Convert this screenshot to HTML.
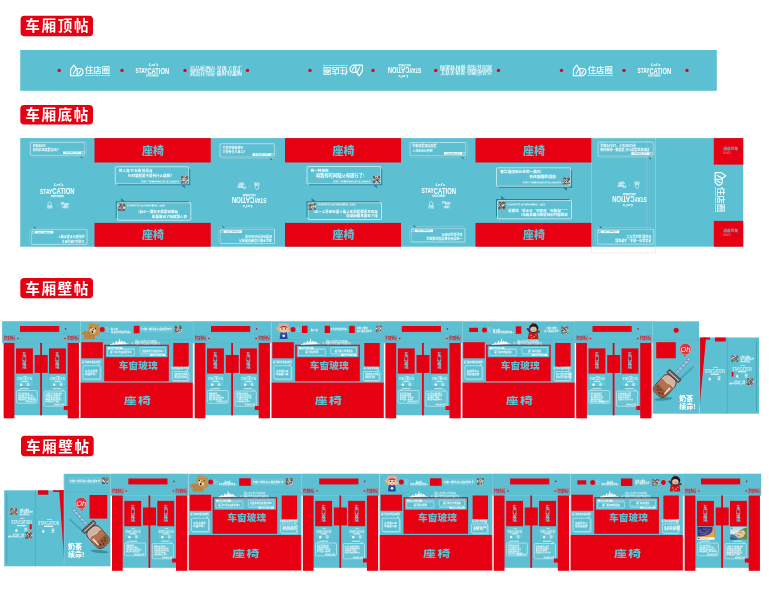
<!DOCTYPE html>
<html lang="zh-CN"><head><meta charset="utf-8"><title>车厢贴纸布局</title>
<style>html,body{margin:0;padding:0;background:#fff}body{width:769px;height:600px;overflow:hidden}svg{display:block}text{white-space:pre}</style></head><body>
<svg width="769" height="600" viewBox="0 0 769 600" font-family="Liberation Sans, Noto Sans CJK SC, sans-serif">
<rect x="0.00" y="0.00" width="769.00" height="600.00" fill="#fff" />
<rect x="20.6" y="15.8" width="72.4" height="20.400000000000002" rx="3.8" fill="#e60012"/>
<text x="57.75" y="31.45" font-size="14.6" fill="#fff" font-weight="700" text-anchor="middle" letter-spacing="1.6">车厢顶帖</text>
<rect x="20.3" y="105" width="72.7" height="19.599999999999994" rx="3.8" fill="#e60012"/>
<text x="57.60" y="119.85" font-size="14.6" fill="#fff" font-weight="700" text-anchor="middle" letter-spacing="1.6">车厢底帖</text>
<rect x="20.3" y="278" width="72.7" height="20.30000000000001" rx="3.8" fill="#e60012"/>
<text x="57.60" y="293.55" font-size="14.6" fill="#fff" font-weight="700" text-anchor="middle" letter-spacing="1.6">车厢壁帖</text>
<rect x="21" y="435.8" width="72.7" height="20.5" rx="3.8" fill="#e60012"/>
<text x="58.30" y="451.55" font-size="14.6" fill="#fff" font-weight="700" text-anchor="middle" letter-spacing="1.6">车厢壁帖</text>
<rect x="20.25" y="50.00" width="696.55" height="40.80" fill="#5cc0d2" />
<circle cx="59.20" cy="70.40" r="1.70" fill="#e60012" />
<circle cx="122.00" cy="70.40" r="1.70" fill="#e60012" />
<circle cx="185.00" cy="70.40" r="1.70" fill="#e60012" />
<circle cx="247.50" cy="70.40" r="1.70" fill="#e60012" />
<circle cx="310.00" cy="70.40" r="1.70" fill="#e60012" />
<circle cx="373.00" cy="70.40" r="1.70" fill="#e60012" />
<circle cx="435.75" cy="70.40" r="1.70" fill="#e60012" />
<circle cx="498.50" cy="70.40" r="1.70" fill="#e60012" />
<circle cx="561.50" cy="70.40" r="1.70" fill="#e60012" />
<circle cx="624.00" cy="70.40" r="1.70" fill="#e60012" />
<circle cx="687.00" cy="70.40" r="1.70" fill="#e60012" />
<g fill="none" stroke="#fff" stroke-width="1.15" stroke-linejoin="round" stroke-linecap="round"><path d="M70.60 75.70V69.60L73.80 65.00L77.20 69.60V75.70Z"/><path d="M77.20 68.50H79.60C83.20 68.50 84.20 72.20 82.00 74.20L80.20 75.70H77.20"/><path d="M76.20 68.40L73.40 73.60M80.60 70.80L78.80 74.00"/></g>
<text x="85.00" y="72.50" font-size="8.20" fill="#fff" font-weight="500" textLength="25.00" lengthAdjust="spacingAndGlyphs">住店圈</text>
<text x="85.00" y="76.00" font-size="2.30" fill="#fff" font-weight="700" textLength="25.00" lengthAdjust="spacingAndGlyphs">ZHUDIANQUAN.COM</text>
<text x="153.80" y="65.60" font-size="4.2" fill="#fff" text-anchor="middle" font-weight="700" font-style="italic">Let's</text>
<text x="135.55" y="73.60" fill="#fff" font-weight="700" textLength="33.50" lengthAdjust="spacingAndGlyphs"><tspan font-size="7.80" dy="-0.50">STAY</tspan><tspan font-size="9.40" dy="0.50">CATION</tspan></text>
<rect x="146.10" y="74.50" width="12.40" height="1.90" fill="#fff" />
<text x="152.30" y="76.05" font-size="1.5" fill="#5cc0d2" text-anchor="middle" font-weight="700" >住店圈酒店嘉年华</text>
<text x="190.00" y="69.80" font-size="4.6" fill="#fff" font-weight="700" font-family="Liberation Serif, Noto Serif CJK SC, serif" textLength="52" lengthAdjust="spacingAndGlyphs">高品质酒店·星级美食汇</text>
<text x="190.00" y="75.20" font-size="4.6" fill="#fff" font-weight="700" font-family="Liberation Serif, Noto Serif CJK SC, serif" textLength="52" lengthAdjust="spacingAndGlyphs">周边自驾游·限时特惠购</text>
<g transform="rotate(180 342.5 70.4)">
<g fill="none" stroke="#fff" stroke-width="1.15" stroke-linejoin="round" stroke-linecap="round"><path d="M322.60 75.70V69.60L325.80 65.00L329.20 69.60V75.70Z"/><path d="M329.20 68.50H331.60C335.20 68.50 336.20 72.20 334.00 74.20L332.20 75.70H329.20"/><path d="M328.20 68.40L325.40 73.60M332.60 70.80L330.80 74.00"/></g>
<text x="337.00" y="72.50" font-size="8.20" fill="#fff" font-weight="500" textLength="25.00" lengthAdjust="spacingAndGlyphs">住店圈</text>
<text x="337.00" y="76.00" font-size="2.30" fill="#fff" font-weight="700" textLength="25.00" lengthAdjust="spacingAndGlyphs">ZHUDIANQUAN.COM</text>
</g>
<g transform="rotate(180 404.60 70.40)">
<text x="406.10" y="65.60" font-size="4.2" fill="#fff" text-anchor="middle" font-weight="700" font-style="italic">Let's</text>
<text x="387.85" y="73.60" fill="#fff" font-weight="700" textLength="33.50" lengthAdjust="spacingAndGlyphs"><tspan font-size="7.80" dy="-0.50">STAY</tspan><tspan font-size="9.40" dy="0.50">CATION</tspan></text>
<rect x="398.40" y="74.50" width="12.40" height="1.90" fill="#fff" />
<text x="404.60" y="76.05" font-size="1.5" fill="#5cc0d2" text-anchor="middle" font-weight="700" >住店圈酒店嘉年华</text>
</g>
<g transform="rotate(180 466 70.4)">
<text x="440.00" y="69.80" font-size="4.6" fill="#fff" font-weight="700" font-family="Liberation Serif, Noto Serif CJK SC, serif" textLength="52" lengthAdjust="spacingAndGlyphs">高品质酒店·星级美食汇</text>
<text x="440.00" y="75.20" font-size="4.6" fill="#fff" font-weight="700" font-family="Liberation Serif, Noto Serif CJK SC, serif" textLength="52" lengthAdjust="spacingAndGlyphs">周边自驾游·限时特惠购</text>
</g>
<g fill="none" stroke="#fff" stroke-width="1.15" stroke-linejoin="round" stroke-linecap="round"><path d="M573.40 75.70V69.60L576.60 65.00L580.00 69.60V75.70Z"/><path d="M580.00 68.50H582.40C586.00 68.50 587.00 72.20 584.80 74.20L583.00 75.70H580.00"/><path d="M579.00 68.40L576.20 73.60M583.40 70.80L581.60 74.00"/></g>
<text x="587.80" y="72.50" font-size="8.20" fill="#fff" font-weight="500" textLength="25.00" lengthAdjust="spacingAndGlyphs">住店圈</text>
<text x="587.80" y="76.00" font-size="2.30" fill="#fff" font-weight="700" textLength="25.00" lengthAdjust="spacingAndGlyphs">ZHUDIANQUAN.COM</text>
<text x="655.80" y="65.60" font-size="4.2" fill="#fff" text-anchor="middle" font-weight="700" font-style="italic">Let's</text>
<text x="637.55" y="73.60" fill="#fff" font-weight="700" textLength="33.50" lengthAdjust="spacingAndGlyphs"><tspan font-size="7.80" dy="-0.50">STAY</tspan><tspan font-size="9.40" dy="0.50">CATION</tspan></text>
<rect x="648.10" y="74.50" width="12.40" height="1.90" fill="#fff" />
<text x="654.30" y="76.05" font-size="1.5" fill="#5cc0d2" text-anchor="middle" font-weight="700" >住店圈酒店嘉年华</text>
<rect x="20.25" y="138.10" width="722.95" height="108.60" fill="#5cc0d2" />
<rect x="94.50" y="138.10" width="116.25" height="24.40" fill="#e60012" />
<rect x="94.50" y="222.90" width="116.25" height="23.80" fill="#e60012" />
<text x="153.03" y="155.00" font-size="11.0" fill="#5cc0d2" text-anchor="middle" font-weight="900" >座椅</text>
<text x="153.03" y="239.30" font-size="11.0" fill="#5cc0d2" text-anchor="middle" font-weight="900" >座椅</text>
<rect x="285.00" y="138.10" width="116.00" height="24.40" fill="#e60012" />
<rect x="285.00" y="222.90" width="116.00" height="23.80" fill="#e60012" />
<text x="343.40" y="155.00" font-size="11.0" fill="#5cc0d2" text-anchor="middle" font-weight="900" >座椅</text>
<text x="343.40" y="239.30" font-size="11.0" fill="#5cc0d2" text-anchor="middle" font-weight="900" >座椅</text>
<rect x="475.50" y="138.10" width="116.30" height="24.40" fill="#e60012" />
<rect x="475.50" y="222.90" width="116.30" height="23.80" fill="#e60012" />
<text x="534.05" y="155.00" font-size="11.0" fill="#5cc0d2" text-anchor="middle" font-weight="900" >座椅</text>
<text x="534.05" y="239.30" font-size="11.0" fill="#5cc0d2" text-anchor="middle" font-weight="900" >座椅</text>
<rect x="713.80" y="138.10" width="29.40" height="26.50" fill="#e60012" />
<rect x="713.80" y="220.90" width="29.40" height="25.80" fill="#e60012" />
<text x="723.20" y="149.60" font-size="3.7" fill="#5cc0d2" text-anchor="start" font-weight="700" >通道拐角</text>
<text x="723.20" y="153.50" font-size="2.7" fill="#f08a8a" text-anchor="start" font-weight="400" >60x60</text>
<text x="723.20" y="231.90" font-size="3.7" fill="#5cc0d2" text-anchor="start" font-weight="700" >通道拐角</text>
<text x="723.20" y="235.80" font-size="2.7" fill="#f08a8a" text-anchor="start" font-weight="400" >60x60</text>
<rect x="591.6" y="138" width="64.2" height="115" fill="none" stroke="#cfd8da" stroke-width="0.4"/>
<path d="M646.8 138V253" stroke="#cfd8da" stroke-width="0.3" fill="none" opacity="0.8"/>
<g transform="translate(726.4 172) rotate(90)">
<g fill="none" stroke="#fff" stroke-width="1.15" stroke-linejoin="round" stroke-linecap="round"><path d="M0.60 11.30V5.20L3.80 0.60L7.20 5.20V11.30Z"/><path d="M7.20 4.10H9.60C13.20 4.10 14.20 7.80 12.00 9.80L10.20 11.30H7.20"/><path d="M6.20 4.00L3.40 9.20M10.60 6.40L8.80 9.60"/></g>
<text x="15.00" y="8.10" font-size="8.20" fill="#fff" font-weight="500" textLength="25.00" lengthAdjust="spacingAndGlyphs">住店圈</text>
<text x="15.00" y="11.60" font-size="2.30" fill="#fff" font-weight="700" textLength="25.00" lengthAdjust="spacingAndGlyphs">ZHUDIANQUAN.COM</text>
</g>
<path d="M31.45 155.40V156.65H86.25V143.45H85.00V155.40Z" fill="#1f8397" opacity="0.55"/>
<path d="M31.65 156.65H86.25V143.65" fill="none" stroke="#fff" stroke-width="0.35" opacity="0.85"/>
<path d="M79.80 156.65h2.6l0.2 2.2z" fill="#1f8397"/>
<rect x="30.25" y="142.25" width="54.75" height="13.15" rx="0.8" fill="none" stroke="#fff" stroke-width="0.5"/>
<text x="32.85" y="147.15" font-size="3.0" fill="#fff" text-anchor="start" font-weight="700" >月薪4000</text>
<text x="32.85" y="151.25" font-size="3.0" fill="#fff" text-anchor="start" font-weight="700" >如何实现度假自由?</text>
<rect x="63.00" y="151.50" width="18.20" height="2.60" fill="#fff" />
<text x="72.10" y="153.39" font-size="1.7" fill="#5cc0d2" text-anchor="middle" font-weight="700" >住店圈酒店嘉年华</text>
<rect x="81.90" y="151.70" width="2.2" height="2.2" fill="none" stroke="#fff" stroke-width="0.35"/>
<g transform="rotate(180 59.15 237.00)">
<path d="M32.50 244.40V245.65H88.25V230.80H87.00V244.40Z" fill="#1f8397" opacity="0.55"/>
<path d="M32.70 245.65H88.25V231.00" fill="none" stroke="#fff" stroke-width="0.35" opacity="0.85"/>
<path d="M81.80 245.65h2.6l0.2 2.2z" fill="#1f8397"/>
<rect x="31.30" y="229.60" width="55.70" height="14.80" rx="0.8" fill="none" stroke="#fff" stroke-width="0.5"/>
<text x="33.90" y="234.50" font-size="3.0" fill="#fff" text-anchor="start" font-weight="700" >订酒店×刷信用卡</text>
<text x="33.90" y="238.60" font-size="3.0" fill="#fff" text-anchor="start" font-weight="700" >如何薅羊毛最划算?</text>
<rect x="65.00" y="240.50" width="18.20" height="2.60" fill="#fff" />
<text x="74.10" y="242.39" font-size="1.7" fill="#5cc0d2" text-anchor="middle" font-weight="700" >住店圈酒店嘉年华</text>
<rect x="83.90" y="240.70" width="2.2" height="2.2" fill="none" stroke="#fff" stroke-width="0.35"/>
</g>
<text x="58.84" y="186.00" font-size="4.325373134328359" fill="#fff" text-anchor="middle" font-weight="700" font-style="italic">Let's</text>
<text x="40.05" y="194.24" fill="#fff" font-weight="700" textLength="34.50" lengthAdjust="spacingAndGlyphs"><tspan font-size="8.03" dy="-0.51">STAY</tspan><tspan font-size="9.68" dy="0.51">CATION</tspan></text>
<rect x="50.91" y="195.17" width="12.77" height="1.96" fill="#fff" />
<text x="57.30" y="196.76" font-size="1.5447761194029852" fill="#5cc0d2" text-anchor="middle" font-weight="700" >住店圈酒店嘉年华</text>
<path d="M48.03 205.98v-2.6l1.6-2 1.6 2v2.6z" fill="none" stroke="#fff" stroke-width="0.51"/>
<text x="49.68" y="208.14" font-size="1.7507462686567166" fill="#fff" text-anchor="middle" font-weight="700" >住店圈</text>
<circle cx="57.30" cy="205.16" r="0.41" fill="#fff" />
<text x="64.92" y="204.95" font-size="2.883582089552239" fill="#fff" text-anchor="middle" font-weight="700" font-style="italic">Fliggy</text>
<text x="64.92" y="208.14" font-size="1.7507462686567166" fill="#fff" text-anchor="middle" font-weight="700" >飞猪旅行</text>
<path d="M221.20 157.20V158.45H275.75V144.95H274.50V157.20Z" fill="#1f8397" opacity="0.55"/>
<path d="M221.40 158.45H275.75V145.15" fill="none" stroke="#fff" stroke-width="0.35" opacity="0.85"/>
<path d="M269.30 158.45h2.6l0.2 2.2z" fill="#1f8397"/>
<rect x="220.00" y="143.75" width="54.50" height="13.45" rx="0.8" fill="none" stroke="#fff" stroke-width="0.5"/>
<text x="222.60" y="148.65" font-size="3.0" fill="#fff" text-anchor="start" font-weight="700" >工资不够去旅行</text>
<text x="222.60" y="152.75" font-size="3.0" fill="#fff" text-anchor="start" font-weight="700" >工作有什么意义?</text>
<rect x="252.50" y="153.30" width="18.20" height="2.60" fill="#fff" />
<text x="261.60" y="155.19" font-size="1.7" fill="#5cc0d2" text-anchor="middle" font-weight="700" >住店圈酒店嘉年华</text>
<rect x="271.40" y="153.50" width="2.2" height="2.2" fill="none" stroke="#fff" stroke-width="0.35"/>
<g transform="rotate(180 247.25 236.30)">
<path d="M221.20 243.60V244.85H275.75V230.20H274.50V243.60Z" fill="#1f8397" opacity="0.55"/>
<path d="M221.40 244.85H275.75V230.40" fill="none" stroke="#fff" stroke-width="0.35" opacity="0.85"/>
<path d="M269.30 244.85h2.6l0.2 2.2z" fill="#1f8397"/>
<rect x="220.00" y="229.00" width="54.50" height="14.60" rx="0.8" fill="none" stroke="#fff" stroke-width="0.5"/>
<text x="222.60" y="233.90" font-size="3.0" fill="#fff" text-anchor="start" font-weight="700" >酒店不能只是睡觉的地方</text>
<text x="222.60" y="238.00" font-size="3.0" fill="#fff" text-anchor="start" font-weight="700" >还要有吃有玩有风景</text>
<rect x="252.50" y="239.70" width="18.20" height="2.60" fill="#fff" />
<text x="261.60" y="241.59" font-size="1.7" fill="#5cc0d2" text-anchor="middle" font-weight="700" >住店圈酒店嘉年华</text>
<rect x="271.40" y="239.90" width="2.2" height="2.2" fill="none" stroke="#fff" stroke-width="0.35"/>
</g>
<g transform="rotate(180 249.20 195.60)">
<text x="250.74" y="185.80" font-size="4.325373134328359" fill="#fff" text-anchor="middle" font-weight="700" font-style="italic">Let's</text>
<text x="231.95" y="194.04" fill="#fff" font-weight="700" textLength="34.50" lengthAdjust="spacingAndGlyphs"><tspan font-size="8.03" dy="-0.51">STAY</tspan><tspan font-size="9.68" dy="0.51">CATION</tspan></text>
<rect x="242.81" y="194.97" width="12.77" height="1.96" fill="#fff" />
<text x="249.20" y="196.56" font-size="1.5447761194029852" fill="#5cc0d2" text-anchor="middle" font-weight="700" >住店圈酒店嘉年华</text>
<path d="M239.93 205.78v-2.6l1.6-2 1.6 2v2.6z" fill="none" stroke="#fff" stroke-width="0.51"/>
<text x="241.58" y="207.94" font-size="1.7507462686567166" fill="#fff" text-anchor="middle" font-weight="700" >住店圈</text>
<circle cx="249.20" cy="204.96" r="0.41" fill="#fff" />
<text x="256.82" y="204.75" font-size="2.883582089552239" fill="#fff" text-anchor="middle" font-weight="700" font-style="italic">Fliggy</text>
<text x="256.82" y="207.94" font-size="1.7507462686567166" fill="#fff" text-anchor="middle" font-weight="700" >飞猪旅行</text>
</g>
<path d="M411.20 155.90V157.15H467.25V143.70H466.00V155.90Z" fill="#1f8397" opacity="0.55"/>
<path d="M411.40 157.15H467.25V143.90" fill="none" stroke="#fff" stroke-width="0.35" opacity="0.85"/>
<path d="M460.80 157.15h2.6l0.2 2.2z" fill="#1f8397"/>
<rect x="410.00" y="142.50" width="56.00" height="13.40" rx="0.8" fill="none" stroke="#fff" stroke-width="0.5"/>
<text x="412.60" y="147.40" font-size="3.0" fill="#fff" text-anchor="start" font-weight="700" >别去度假酒店度假</text>
<text x="412.60" y="151.50" font-size="3.0" fill="#fff" text-anchor="start" font-weight="700" >人均300元不到</text>
<rect x="444.00" y="152.00" width="18.20" height="2.60" fill="#fff" />
<text x="453.10" y="153.89" font-size="1.7" fill="#5cc0d2" text-anchor="middle" font-weight="700" >住店圈酒店嘉年华</text>
<rect x="462.90" y="152.20" width="2.2" height="2.2" fill="none" stroke="#fff" stroke-width="0.35"/>
<g transform="rotate(180 438.00 235.10)">
<path d="M412.20 242.00V243.25H466.25V229.40H465.00V242.00Z" fill="#1f8397" opacity="0.55"/>
<path d="M412.40 243.25H466.25V229.60" fill="none" stroke="#fff" stroke-width="0.35" opacity="0.85"/>
<path d="M459.80 243.25h2.6l0.2 2.2z" fill="#1f8397"/>
<rect x="411.00" y="228.20" width="54.00" height="13.80" rx="0.8" fill="none" stroke="#fff" stroke-width="0.5"/>
<text x="413.60" y="233.10" font-size="3.0" fill="#fff" text-anchor="start" font-weight="700" >一张房券住遍全国连锁酒店</text>
<text x="413.60" y="237.20" font-size="3.0" fill="#fff" text-anchor="start" font-weight="700" >说走就走的旅行</text>
<rect x="443.00" y="238.10" width="18.20" height="2.60" fill="#fff" />
<text x="452.10" y="239.99" font-size="1.7" fill="#5cc0d2" text-anchor="middle" font-weight="700" >住店圈酒店嘉年华</text>
<rect x="461.90" y="238.30" width="2.2" height="2.2" fill="none" stroke="#fff" stroke-width="0.35"/>
</g>
<text x="440.34" y="185.50" font-size="4.325373134328359" fill="#fff" text-anchor="middle" font-weight="700" font-style="italic">Let's</text>
<text x="421.55" y="193.74" fill="#fff" font-weight="700" textLength="34.50" lengthAdjust="spacingAndGlyphs"><tspan font-size="8.03" dy="-0.51">STAY</tspan><tspan font-size="9.68" dy="0.51">CATION</tspan></text>
<rect x="432.41" y="194.67" width="12.77" height="1.96" fill="#fff" />
<text x="438.80" y="196.26" font-size="1.5447761194029852" fill="#5cc0d2" text-anchor="middle" font-weight="700" >住店圈酒店嘉年华</text>
<path d="M429.53 205.48v-2.6l1.6-2 1.6 2v2.6z" fill="none" stroke="#fff" stroke-width="0.51"/>
<text x="431.18" y="207.64" font-size="1.7507462686567166" fill="#fff" text-anchor="middle" font-weight="700" >住店圈</text>
<circle cx="438.80" cy="204.66" r="0.41" fill="#fff" />
<text x="446.42" y="204.45" font-size="2.883582089552239" fill="#fff" text-anchor="middle" font-weight="700" font-style="italic">Fliggy</text>
<text x="446.42" y="207.64" font-size="1.7507462686567166" fill="#fff" text-anchor="middle" font-weight="700" >飞猪旅行</text>
<path d="M599.20 156.20V157.45H654.55V143.20H653.30V156.20Z" fill="#1f8397" opacity="0.55"/>
<path d="M599.40 157.45H654.55V143.40" fill="none" stroke="#fff" stroke-width="0.35" opacity="0.85"/>
<path d="M648.10 157.45h2.6l0.2 2.2z" fill="#1f8397"/>
<rect x="598.00" y="142.00" width="55.30" height="14.20" rx="0.8" fill="none" stroke="#fff" stroke-width="0.5"/>
<text x="600.60" y="146.90" font-size="3.0" fill="#fff" text-anchor="start" font-weight="700" >别等24节日，占考240日卷</text>
<text x="600.60" y="151.00" font-size="3.0" fill="#fff" text-anchor="start" font-weight="700" >随时随地一键度假 开山度假温泉酒店</text>
<rect x="631.30" y="152.30" width="18.20" height="2.60" fill="#fff" />
<text x="640.40" y="154.19" font-size="1.7" fill="#5cc0d2" text-anchor="middle" font-weight="700" >住店圈酒店嘉年华</text>
<rect x="650.20" y="152.50" width="2.2" height="2.2" fill="none" stroke="#fff" stroke-width="0.35"/>
<g transform="rotate(180 625.55 236.70)">
<path d="M598.50 244.20V245.45H655.05V230.40H653.80V244.20Z" fill="#1f8397" opacity="0.55"/>
<path d="M598.70 245.45H655.05V230.60" fill="none" stroke="#fff" stroke-width="0.35" opacity="0.85"/>
<path d="M648.60 245.45h2.6l0.2 2.2z" fill="#1f8397"/>
<rect x="597.30" y="229.20" width="56.50" height="15.00" rx="0.8" fill="none" stroke="#fff" stroke-width="0.5"/>
<text x="599.90" y="234.10" font-size="3.0" fill="#fff" text-anchor="start" font-weight="700" >逃离城市一周末，山野度假</text>
<text x="599.90" y="238.20" font-size="3.0" fill="#fff" text-anchor="start" font-weight="700" >住店圈 酒店嘉年华</text>
<rect x="631.80" y="240.30" width="18.20" height="2.60" fill="#fff" />
<text x="640.90" y="242.19" font-size="1.7" fill="#5cc0d2" text-anchor="middle" font-weight="700" >住店圈酒店嘉年华</text>
<rect x="650.70" y="240.50" width="2.2" height="2.2" fill="none" stroke="#fff" stroke-width="0.35"/>
</g>
<g transform="rotate(180 629.40 194.70)">
<text x="630.94" y="185.00" font-size="4.325373134328359" fill="#fff" text-anchor="middle" font-weight="700" font-style="italic">Let's</text>
<text x="612.15" y="193.24" fill="#fff" font-weight="700" textLength="34.50" lengthAdjust="spacingAndGlyphs"><tspan font-size="8.03" dy="-0.51">STAY</tspan><tspan font-size="9.68" dy="0.51">CATION</tspan></text>
<rect x="623.01" y="194.17" width="12.77" height="1.96" fill="#fff" />
<text x="629.40" y="195.76" font-size="1.5447761194029852" fill="#5cc0d2" text-anchor="middle" font-weight="700" >住店圈酒店嘉年华</text>
<path d="M620.13 204.98v-2.6l1.6-2 1.6 2v2.6z" fill="none" stroke="#fff" stroke-width="0.51"/>
<text x="621.78" y="207.14" font-size="1.7507462686567166" fill="#fff" text-anchor="middle" font-weight="700" >住店圈</text>
<circle cx="629.40" cy="204.16" r="0.41" fill="#fff" />
<text x="637.02" y="203.95" font-size="2.883582089552239" fill="#fff" text-anchor="middle" font-weight="700" font-style="italic">Fliggy</text>
<text x="637.02" y="207.14" font-size="1.7507462686567166" fill="#fff" text-anchor="middle" font-weight="700" >飞猪旅行</text>
</g>
<path d="M117.30 183.80V185.30H190.20V168.70H188.70V183.80Z" fill="#1f8397"/>
<path d="M181.10 185.30h3.8l0.3 3.2z" fill="#1f8397"/>
<rect x="115.30" y="166.70" width="73.40" height="17.10" rx="0.8" fill="none" stroke="#fff" stroke-width="0.6"/>
<text x="119.00" y="172.20" font-size="3.5" fill="#fff" text-anchor="start" font-weight="700" >挤人海 打卡游 热景点</text>
<text x="128.00" y="176.70" font-size="3.5" fill="#fff" text-anchor="start" font-weight="700" >你对度假是不是有什么误解?</text>
<text x="179.10" y="182.00" font-size="1.45" fill="#fff" text-anchor="end" font-weight="700" >打开淘宝／飞猪 搜索住店圈酒店嘉年华 或扫二维码参与活动</text>
<rect x="180.90" y="176.30" width="7.20" height="7.20" fill="#dedad7" />
<path d="M180.90 176.30h0.65v0.65h-0.65zM181.55 176.30h0.65v0.65h-0.65zM182.21 176.30h0.65v0.65h-0.65zM182.86 176.30h0.65v0.65h-0.65zM184.17 176.30h0.65v0.65h-0.65zM186.14 176.30h0.65v0.65h-0.65zM186.79 176.30h0.65v0.65h-0.65zM187.45 176.30h0.65v0.65h-0.65zM180.90 176.95h0.65v0.65h-0.65zM182.21 176.95h0.65v0.65h-0.65zM182.86 176.95h0.65v0.65h-0.65zM183.52 176.95h0.65v0.65h-0.65zM184.83 176.95h0.65v0.65h-0.65zM185.48 176.95h0.65v0.65h-0.65zM186.14 176.95h0.65v0.65h-0.65zM187.45 176.95h0.65v0.65h-0.65zM180.90 177.61h0.65v0.65h-0.65zM181.55 177.61h0.65v0.65h-0.65zM182.21 177.61h0.65v0.65h-0.65zM183.52 177.61h0.65v0.65h-0.65zM184.83 177.61h0.65v0.65h-0.65zM186.14 177.61h0.65v0.65h-0.65zM186.79 177.61h0.65v0.65h-0.65zM187.45 177.61h0.65v0.65h-0.65zM180.90 178.26h0.65v0.65h-0.65zM184.83 178.26h0.65v0.65h-0.65zM186.79 178.26h0.65v0.65h-0.65zM187.45 178.26h0.65v0.65h-0.65zM181.55 178.92h0.65v0.65h-0.65zM184.83 178.92h0.65v0.65h-0.65zM186.14 178.92h0.65v0.65h-0.65zM180.90 179.57h0.65v0.65h-0.65zM181.55 179.57h0.65v0.65h-0.65zM182.21 179.57h0.65v0.65h-0.65zM183.52 179.57h0.65v0.65h-0.65zM184.83 179.57h0.65v0.65h-0.65zM186.14 179.57h0.65v0.65h-0.65zM186.79 179.57h0.65v0.65h-0.65zM185.48 180.23h0.65v0.65h-0.65zM182.21 180.88h0.65v0.65h-0.65zM184.17 180.88h0.65v0.65h-0.65zM184.83 180.88h0.65v0.65h-0.65zM186.79 180.88h0.65v0.65h-0.65zM180.90 181.54h0.65v0.65h-0.65zM181.55 181.54h0.65v0.65h-0.65zM182.21 181.54h0.65v0.65h-0.65zM182.86 181.54h0.65v0.65h-0.65zM183.52 181.54h0.65v0.65h-0.65zM184.17 181.54h0.65v0.65h-0.65zM186.14 181.54h0.65v0.65h-0.65zM187.45 181.54h0.65v0.65h-0.65zM180.90 182.19h0.65v0.65h-0.65zM182.21 182.19h0.65v0.65h-0.65zM183.52 182.19h0.65v0.65h-0.65zM186.79 182.19h0.65v0.65h-0.65zM187.45 182.19h0.65v0.65h-0.65zM180.90 182.85h0.65v0.65h-0.65zM181.55 182.85h0.65v0.65h-0.65zM182.21 182.85h0.65v0.65h-0.65zM183.52 182.85h0.65v0.65h-0.65zM184.17 182.85h0.65v0.65h-0.65zM184.83 182.85h0.65v0.65h-0.65zM186.14 182.85h0.65v0.65h-0.65zM186.79 182.85h0.65v0.65h-0.65z" fill="#4d4846"/>
<g transform="rotate(180 154.05 211.50)">
<path d="M119.30 220.30V221.80H192.30V204.70H190.80V220.30Z" fill="#1f8397"/>
<path d="M183.20 221.80h3.8l0.3 3.2z" fill="#1f8397"/>
<rect x="117.30" y="202.70" width="73.50" height="17.60" rx="0.8" fill="none" stroke="#fff" stroke-width="0.6"/>
<text x="121.00" y="208.20" font-size="3.5" fill="#fff" text-anchor="start" font-weight="700" >这个假期别人挤着看海</text>
<text x="130.00" y="212.70" font-size="3.5" fill="#fff" text-anchor="start" font-weight="700" >我躺在酒店泳池里一小时!</text>
<text x="181.20" y="218.00" font-size="1.45" fill="#fff" text-anchor="end" font-weight="700" >打开淘宝／飞猪 搜索住店圈酒店嘉年华 或扫二维码参与活动</text>
<rect x="183.00" y="212.30" width="7.20" height="7.20" fill="#dedad7" />
<path d="M183.00 212.30h0.65v0.65h-0.65zM183.65 212.30h0.65v0.65h-0.65zM184.31 212.30h0.65v0.65h-0.65zM184.96 212.30h0.65v0.65h-0.65zM185.62 212.30h0.65v0.65h-0.65zM186.27 212.30h0.65v0.65h-0.65zM186.93 212.30h0.65v0.65h-0.65zM187.58 212.30h0.65v0.65h-0.65zM188.24 212.30h0.65v0.65h-0.65zM188.89 212.30h0.65v0.65h-0.65zM189.55 212.30h0.65v0.65h-0.65zM183.00 212.95h0.65v0.65h-0.65zM184.31 212.95h0.65v0.65h-0.65zM184.96 212.95h0.65v0.65h-0.65zM187.58 212.95h0.65v0.65h-0.65zM188.24 212.95h0.65v0.65h-0.65zM189.55 212.95h0.65v0.65h-0.65zM183.00 213.61h0.65v0.65h-0.65zM183.65 213.61h0.65v0.65h-0.65zM184.31 213.61h0.65v0.65h-0.65zM185.62 213.61h0.65v0.65h-0.65zM186.27 213.61h0.65v0.65h-0.65zM186.93 213.61h0.65v0.65h-0.65zM187.58 213.61h0.65v0.65h-0.65zM188.24 213.61h0.65v0.65h-0.65zM188.89 213.61h0.65v0.65h-0.65zM189.55 213.61h0.65v0.65h-0.65zM185.62 214.26h0.65v0.65h-0.65zM186.27 214.26h0.65v0.65h-0.65zM189.55 214.26h0.65v0.65h-0.65zM184.96 214.92h0.65v0.65h-0.65zM185.62 214.92h0.65v0.65h-0.65zM186.27 214.92h0.65v0.65h-0.65zM188.89 214.92h0.65v0.65h-0.65zM185.62 215.57h0.65v0.65h-0.65zM186.93 215.57h0.65v0.65h-0.65zM187.58 215.57h0.65v0.65h-0.65zM188.24 215.57h0.65v0.65h-0.65zM189.55 215.57h0.65v0.65h-0.65zM183.00 216.23h0.65v0.65h-0.65zM184.31 216.23h0.65v0.65h-0.65zM185.62 216.23h0.65v0.65h-0.65zM186.27 216.23h0.65v0.65h-0.65zM187.58 216.23h0.65v0.65h-0.65zM188.24 216.23h0.65v0.65h-0.65zM188.89 216.23h0.65v0.65h-0.65zM183.00 216.88h0.65v0.65h-0.65zM183.65 216.88h0.65v0.65h-0.65zM184.96 216.88h0.65v0.65h-0.65zM186.93 216.88h0.65v0.65h-0.65zM187.58 216.88h0.65v0.65h-0.65zM188.24 216.88h0.65v0.65h-0.65zM183.00 217.54h0.65v0.65h-0.65zM183.65 217.54h0.65v0.65h-0.65zM184.31 217.54h0.65v0.65h-0.65zM184.96 217.54h0.65v0.65h-0.65zM185.62 217.54h0.65v0.65h-0.65zM186.27 217.54h0.65v0.65h-0.65zM186.93 217.54h0.65v0.65h-0.65zM187.58 217.54h0.65v0.65h-0.65zM183.00 218.19h0.65v0.65h-0.65zM184.31 218.19h0.65v0.65h-0.65zM186.27 218.19h0.65v0.65h-0.65zM186.93 218.19h0.65v0.65h-0.65zM188.89 218.19h0.65v0.65h-0.65zM183.00 218.85h0.65v0.65h-0.65zM183.65 218.85h0.65v0.65h-0.65zM184.31 218.85h0.65v0.65h-0.65zM186.27 218.85h0.65v0.65h-0.65zM186.93 218.85h0.65v0.65h-0.65zM187.58 218.85h0.65v0.65h-0.65zM188.24 218.85h0.65v0.65h-0.65zM188.89 218.85h0.65v0.65h-0.65z" fill="#4d4846"/>
</g>
<path d="M309.00 183.80V185.30H382.20V168.50H380.70V183.80Z" fill="#1f8397"/>
<path d="M373.10 185.30h3.8l0.3 3.2z" fill="#1f8397"/>
<rect x="307.00" y="166.50" width="73.70" height="17.30" rx="0.8" fill="none" stroke="#fff" stroke-width="0.6"/>
<text x="310.70" y="172.00" font-size="3.6" fill="#fff" text-anchor="start" font-weight="700" >有一种任性</text>
<text x="315.70" y="176.50" font-size="4.3" fill="#fff" text-anchor="start" font-weight="700" >叫我有时间陪父母旅行了!</text>
<text x="371.10" y="181.80" font-size="1.45" fill="#fff" text-anchor="end" font-weight="700" >打开淘宝／飞猪 搜索住店圈酒店嘉年华 或扫二维码参与活动</text>
<rect x="372.90" y="176.10" width="7.20" height="7.20" fill="#dedad7" />
<path d="M372.90 176.10h0.65v0.65h-0.65zM373.55 176.10h0.65v0.65h-0.65zM374.21 176.10h0.65v0.65h-0.65zM378.14 176.10h0.65v0.65h-0.65zM378.79 176.10h0.65v0.65h-0.65zM379.45 176.10h0.65v0.65h-0.65zM372.90 176.75h0.65v0.65h-0.65zM374.21 176.75h0.65v0.65h-0.65zM375.52 176.75h0.65v0.65h-0.65zM376.17 176.75h0.65v0.65h-0.65zM378.14 176.75h0.65v0.65h-0.65zM379.45 176.75h0.65v0.65h-0.65zM372.90 177.41h0.65v0.65h-0.65zM373.55 177.41h0.65v0.65h-0.65zM374.21 177.41h0.65v0.65h-0.65zM375.52 177.41h0.65v0.65h-0.65zM376.17 177.41h0.65v0.65h-0.65zM376.83 177.41h0.65v0.65h-0.65zM378.14 177.41h0.65v0.65h-0.65zM378.79 177.41h0.65v0.65h-0.65zM379.45 177.41h0.65v0.65h-0.65zM373.55 178.06h0.65v0.65h-0.65zM374.21 178.06h0.65v0.65h-0.65zM374.86 178.06h0.65v0.65h-0.65zM376.83 178.06h0.65v0.65h-0.65zM378.14 178.06h0.65v0.65h-0.65zM379.45 178.06h0.65v0.65h-0.65zM372.90 178.72h0.65v0.65h-0.65zM374.21 178.72h0.65v0.65h-0.65zM374.86 178.72h0.65v0.65h-0.65zM376.83 178.72h0.65v0.65h-0.65zM379.45 178.72h0.65v0.65h-0.65zM375.52 179.37h0.65v0.65h-0.65zM376.17 179.37h0.65v0.65h-0.65zM376.83 179.37h0.65v0.65h-0.65zM377.48 179.37h0.65v0.65h-0.65zM378.14 179.37h0.65v0.65h-0.65zM378.79 179.37h0.65v0.65h-0.65zM372.90 180.03h0.65v0.65h-0.65zM374.21 180.03h0.65v0.65h-0.65zM374.86 180.03h0.65v0.65h-0.65zM376.17 180.03h0.65v0.65h-0.65zM376.83 180.03h0.65v0.65h-0.65zM377.48 180.03h0.65v0.65h-0.65zM378.79 180.03h0.65v0.65h-0.65zM372.90 180.68h0.65v0.65h-0.65zM374.86 180.68h0.65v0.65h-0.65zM376.17 180.68h0.65v0.65h-0.65zM377.48 180.68h0.65v0.65h-0.65zM378.14 180.68h0.65v0.65h-0.65zM378.79 180.68h0.65v0.65h-0.65zM372.90 181.34h0.65v0.65h-0.65zM373.55 181.34h0.65v0.65h-0.65zM374.21 181.34h0.65v0.65h-0.65zM374.86 181.34h0.65v0.65h-0.65zM377.48 181.34h0.65v0.65h-0.65zM378.14 181.34h0.65v0.65h-0.65zM372.90 181.99h0.65v0.65h-0.65zM374.21 181.99h0.65v0.65h-0.65zM374.86 181.99h0.65v0.65h-0.65zM377.48 181.99h0.65v0.65h-0.65zM378.79 181.99h0.65v0.65h-0.65zM379.45 181.99h0.65v0.65h-0.65zM372.90 182.65h0.65v0.65h-0.65zM373.55 182.65h0.65v0.65h-0.65zM374.21 182.65h0.65v0.65h-0.65zM376.17 182.65h0.65v0.65h-0.65zM378.14 182.65h0.65v0.65h-0.65zM378.79 182.65h0.65v0.65h-0.65zM379.45 182.65h0.65v0.65h-0.65z" fill="#4d4846"/>
<g transform="rotate(180 344.75 211.10)">
<path d="M310.00 219.50V221.00H383.00V204.70H381.50V219.50Z" fill="#1f8397"/>
<path d="M373.90 221.00h3.8l0.3 3.2z" fill="#1f8397"/>
<rect x="308.00" y="202.70" width="73.50" height="16.80" rx="0.8" fill="none" stroke="#fff" stroke-width="0.6"/>
<text x="311.70" y="208.20" font-size="3.5" fill="#fff" text-anchor="start" font-weight="700" >别人在朋友圈晒旅游</text>
<text x="311.70" y="212.70" font-size="3.5" fill="#fff" text-anchor="start" font-weight="700" >我在五星级酒店泡了整个夏天还省了一万!</text>
<text x="371.90" y="218.00" font-size="1.45" fill="#fff" text-anchor="end" font-weight="700" >打开淘宝／飞猪 搜索住店圈酒店嘉年华 或扫二维码参与活动</text>
<rect x="373.70" y="212.30" width="7.20" height="7.20" fill="#dedad7" />
<path d="M373.70 212.30h0.65v0.65h-0.65zM374.35 212.30h0.65v0.65h-0.65zM375.01 212.30h0.65v0.65h-0.65zM376.97 212.30h0.65v0.65h-0.65zM377.63 212.30h0.65v0.65h-0.65zM378.28 212.30h0.65v0.65h-0.65zM378.94 212.30h0.65v0.65h-0.65zM379.59 212.30h0.65v0.65h-0.65zM380.25 212.30h0.65v0.65h-0.65zM373.70 212.95h0.65v0.65h-0.65zM375.01 212.95h0.65v0.65h-0.65zM376.32 212.95h0.65v0.65h-0.65zM377.63 212.95h0.65v0.65h-0.65zM378.94 212.95h0.65v0.65h-0.65zM380.25 212.95h0.65v0.65h-0.65zM373.70 213.61h0.65v0.65h-0.65zM374.35 213.61h0.65v0.65h-0.65zM375.01 213.61h0.65v0.65h-0.65zM375.66 213.61h0.65v0.65h-0.65zM377.63 213.61h0.65v0.65h-0.65zM378.94 213.61h0.65v0.65h-0.65zM379.59 213.61h0.65v0.65h-0.65zM380.25 213.61h0.65v0.65h-0.65zM374.35 214.26h0.65v0.65h-0.65zM376.32 214.26h0.65v0.65h-0.65zM378.94 214.26h0.65v0.65h-0.65zM379.59 214.26h0.65v0.65h-0.65zM374.35 214.92h0.65v0.65h-0.65zM375.01 214.92h0.65v0.65h-0.65zM375.66 214.92h0.65v0.65h-0.65zM376.97 214.92h0.65v0.65h-0.65zM378.94 214.92h0.65v0.65h-0.65zM380.25 214.92h0.65v0.65h-0.65zM378.28 215.57h0.65v0.65h-0.65zM378.94 215.57h0.65v0.65h-0.65zM380.25 215.57h0.65v0.65h-0.65zM374.35 216.23h0.65v0.65h-0.65zM376.32 216.23h0.65v0.65h-0.65zM377.63 216.23h0.65v0.65h-0.65zM378.28 216.23h0.65v0.65h-0.65zM378.94 216.23h0.65v0.65h-0.65zM379.59 216.23h0.65v0.65h-0.65zM380.25 216.23h0.65v0.65h-0.65zM375.01 216.88h0.65v0.65h-0.65zM376.32 216.88h0.65v0.65h-0.65zM376.97 216.88h0.65v0.65h-0.65zM378.94 216.88h0.65v0.65h-0.65zM379.59 216.88h0.65v0.65h-0.65zM380.25 216.88h0.65v0.65h-0.65zM373.70 217.54h0.65v0.65h-0.65zM374.35 217.54h0.65v0.65h-0.65zM375.01 217.54h0.65v0.65h-0.65zM375.66 217.54h0.65v0.65h-0.65zM376.97 217.54h0.65v0.65h-0.65zM377.63 217.54h0.65v0.65h-0.65zM378.94 217.54h0.65v0.65h-0.65zM380.25 217.54h0.65v0.65h-0.65zM373.70 218.19h0.65v0.65h-0.65zM375.01 218.19h0.65v0.65h-0.65zM378.28 218.19h0.65v0.65h-0.65zM373.70 218.85h0.65v0.65h-0.65zM374.35 218.85h0.65v0.65h-0.65zM375.01 218.85h0.65v0.65h-0.65zM375.66 218.85h0.65v0.65h-0.65zM376.97 218.85h0.65v0.65h-0.65zM377.63 218.85h0.65v0.65h-0.65zM378.94 218.85h0.65v0.65h-0.65zM379.59 218.85h0.65v0.65h-0.65z" fill="#4d4846"/>
</g>
<path d="M498.50 186.30V187.80H572.10V169.80H570.60V186.30Z" fill="#1f8397"/>
<path d="M563.00 187.80h3.8l0.3 3.2z" fill="#1f8397"/>
<rect x="496.50" y="167.80" width="74.10" height="18.50" rx="0.8" fill="none" stroke="#fff" stroke-width="0.6"/>
<text x="500.20" y="173.30" font-size="3.7" fill="#fff" text-anchor="start" font-weight="700" >奢华酒店听必住的一类叫</text>
<text x="529.20" y="177.80" font-size="3.8" fill="#fff" text-anchor="start" font-weight="700" >去住店圈刷酒店</text>
<text x="561.00" y="183.10" font-size="1.45" fill="#fff" text-anchor="end" font-weight="700" >打开淘宝／飞猪 搜索住店圈酒店嘉年华 或扫二维码参与活动</text>
<rect x="562.80" y="177.40" width="7.20" height="7.20" fill="#dedad7" />
<path d="M562.80 177.40h0.65v0.65h-0.65zM563.45 177.40h0.65v0.65h-0.65zM564.11 177.40h0.65v0.65h-0.65zM564.76 177.40h0.65v0.65h-0.65zM565.42 177.40h0.65v0.65h-0.65zM566.73 177.40h0.65v0.65h-0.65zM568.04 177.40h0.65v0.65h-0.65zM568.69 177.40h0.65v0.65h-0.65zM569.35 177.40h0.65v0.65h-0.65zM562.80 178.05h0.65v0.65h-0.65zM564.11 178.05h0.65v0.65h-0.65zM564.76 178.05h0.65v0.65h-0.65zM565.42 178.05h0.65v0.65h-0.65zM566.73 178.05h0.65v0.65h-0.65zM567.38 178.05h0.65v0.65h-0.65zM568.04 178.05h0.65v0.65h-0.65zM569.35 178.05h0.65v0.65h-0.65zM562.80 178.71h0.65v0.65h-0.65zM563.45 178.71h0.65v0.65h-0.65zM564.11 178.71h0.65v0.65h-0.65zM564.76 178.71h0.65v0.65h-0.65zM565.42 178.71h0.65v0.65h-0.65zM566.07 178.71h0.65v0.65h-0.65zM567.38 178.71h0.65v0.65h-0.65zM568.04 178.71h0.65v0.65h-0.65zM568.69 178.71h0.65v0.65h-0.65zM569.35 178.71h0.65v0.65h-0.65zM562.80 179.36h0.65v0.65h-0.65zM565.42 179.36h0.65v0.65h-0.65zM566.73 179.36h0.65v0.65h-0.65zM568.04 179.36h0.65v0.65h-0.65zM568.69 179.36h0.65v0.65h-0.65zM569.35 179.36h0.65v0.65h-0.65zM562.80 180.02h0.65v0.65h-0.65zM564.11 180.02h0.65v0.65h-0.65zM566.07 180.02h0.65v0.65h-0.65zM567.38 180.02h0.65v0.65h-0.65zM568.04 180.02h0.65v0.65h-0.65zM568.69 180.02h0.65v0.65h-0.65zM562.80 180.67h0.65v0.65h-0.65zM563.45 180.67h0.65v0.65h-0.65zM564.76 180.67h0.65v0.65h-0.65zM565.42 180.67h0.65v0.65h-0.65zM567.38 180.67h0.65v0.65h-0.65zM563.45 181.33h0.65v0.65h-0.65zM564.76 181.33h0.65v0.65h-0.65zM565.42 181.33h0.65v0.65h-0.65zM566.73 181.33h0.65v0.65h-0.65zM567.38 181.33h0.65v0.65h-0.65zM568.04 181.33h0.65v0.65h-0.65zM564.11 181.98h0.65v0.65h-0.65zM566.73 181.98h0.65v0.65h-0.65zM568.69 181.98h0.65v0.65h-0.65zM562.80 182.64h0.65v0.65h-0.65zM563.45 182.64h0.65v0.65h-0.65zM564.11 182.64h0.65v0.65h-0.65zM564.76 182.64h0.65v0.65h-0.65zM568.04 182.64h0.65v0.65h-0.65zM568.69 182.64h0.65v0.65h-0.65zM562.80 183.29h0.65v0.65h-0.65zM564.11 183.29h0.65v0.65h-0.65zM564.76 183.29h0.65v0.65h-0.65zM565.42 183.29h0.65v0.65h-0.65zM566.07 183.29h0.65v0.65h-0.65zM566.73 183.29h0.65v0.65h-0.65zM567.38 183.29h0.65v0.65h-0.65zM568.69 183.29h0.65v0.65h-0.65zM569.35 183.29h0.65v0.65h-0.65zM562.80 183.95h0.65v0.65h-0.65zM563.45 183.95h0.65v0.65h-0.65zM564.11 183.95h0.65v0.65h-0.65zM564.76 183.95h0.65v0.65h-0.65zM566.07 183.95h0.65v0.65h-0.65zM566.73 183.95h0.65v0.65h-0.65z" fill="#4d4846"/>
<g transform="rotate(180 534.50 209.65)">
<path d="M499.50 218.80V220.30H573.00V202.50H571.50V218.80Z" fill="#1f8397"/>
<path d="M563.90 220.30h3.8l0.3 3.2z" fill="#1f8397"/>
<rect x="497.50" y="200.50" width="74.00" height="18.30" rx="0.8" fill="none" stroke="#fff" stroke-width="0.6"/>
<text x="501.20" y="206.00" font-size="3.5" fill="#fff" text-anchor="start" font-weight="700" >住店圈让所有酒店控都爱惨啦!</text>
<text x="501.20" y="210.50" font-size="3.5" fill="#fff" text-anchor="start" font-weight="700" >——吃喝玩、泡温泉、亲子游、情侣游</text>
<text x="561.90" y="215.80" font-size="1.45" fill="#fff" text-anchor="end" font-weight="700" >打开淘宝／飞猪 搜索住店圈酒店嘉年华 或扫二维码参与活动</text>
<rect x="563.70" y="210.10" width="7.20" height="7.20" fill="#dedad7" />
<path d="M563.70 210.10h0.65v0.65h-0.65zM564.35 210.10h0.65v0.65h-0.65zM565.01 210.10h0.65v0.65h-0.65zM565.66 210.10h0.65v0.65h-0.65zM566.97 210.10h0.65v0.65h-0.65zM568.28 210.10h0.65v0.65h-0.65zM568.94 210.10h0.65v0.65h-0.65zM569.59 210.10h0.65v0.65h-0.65zM570.25 210.10h0.65v0.65h-0.65zM563.70 210.75h0.65v0.65h-0.65zM565.01 210.75h0.65v0.65h-0.65zM565.66 210.75h0.65v0.65h-0.65zM566.97 210.75h0.65v0.65h-0.65zM568.28 210.75h0.65v0.65h-0.65zM568.94 210.75h0.65v0.65h-0.65zM570.25 210.75h0.65v0.65h-0.65zM563.70 211.41h0.65v0.65h-0.65zM564.35 211.41h0.65v0.65h-0.65zM565.01 211.41h0.65v0.65h-0.65zM565.66 211.41h0.65v0.65h-0.65zM566.32 211.41h0.65v0.65h-0.65zM566.97 211.41h0.65v0.65h-0.65zM568.28 211.41h0.65v0.65h-0.65zM568.94 211.41h0.65v0.65h-0.65zM569.59 211.41h0.65v0.65h-0.65zM570.25 211.41h0.65v0.65h-0.65zM563.70 212.06h0.65v0.65h-0.65zM564.35 212.06h0.65v0.65h-0.65zM565.01 212.06h0.65v0.65h-0.65zM565.66 212.06h0.65v0.65h-0.65zM566.97 212.06h0.65v0.65h-0.65zM567.63 212.06h0.65v0.65h-0.65zM568.28 212.06h0.65v0.65h-0.65zM569.59 212.06h0.65v0.65h-0.65zM563.70 212.72h0.65v0.65h-0.65zM565.01 212.72h0.65v0.65h-0.65zM566.32 212.72h0.65v0.65h-0.65zM568.94 212.72h0.65v0.65h-0.65zM569.59 212.72h0.65v0.65h-0.65zM563.70 213.37h0.65v0.65h-0.65zM564.35 213.37h0.65v0.65h-0.65zM567.63 213.37h0.65v0.65h-0.65zM568.28 213.37h0.65v0.65h-0.65zM569.59 213.37h0.65v0.65h-0.65zM563.70 214.03h0.65v0.65h-0.65zM567.63 214.03h0.65v0.65h-0.65zM568.28 214.03h0.65v0.65h-0.65zM570.25 214.03h0.65v0.65h-0.65zM565.66 214.68h0.65v0.65h-0.65zM566.32 214.68h0.65v0.65h-0.65zM566.97 214.68h0.65v0.65h-0.65zM567.63 214.68h0.65v0.65h-0.65zM568.28 214.68h0.65v0.65h-0.65zM568.94 214.68h0.65v0.65h-0.65zM569.59 214.68h0.65v0.65h-0.65zM563.70 215.34h0.65v0.65h-0.65zM564.35 215.34h0.65v0.65h-0.65zM565.01 215.34h0.65v0.65h-0.65zM566.32 215.34h0.65v0.65h-0.65zM566.97 215.34h0.65v0.65h-0.65zM567.63 215.34h0.65v0.65h-0.65zM569.59 215.34h0.65v0.65h-0.65zM563.70 215.99h0.65v0.65h-0.65zM565.01 215.99h0.65v0.65h-0.65zM565.66 215.99h0.65v0.65h-0.65zM566.32 215.99h0.65v0.65h-0.65zM567.63 215.99h0.65v0.65h-0.65zM568.28 215.99h0.65v0.65h-0.65zM568.94 215.99h0.65v0.65h-0.65zM569.59 215.99h0.65v0.65h-0.65zM570.25 215.99h0.65v0.65h-0.65zM563.70 216.65h0.65v0.65h-0.65zM564.35 216.65h0.65v0.65h-0.65zM565.01 216.65h0.65v0.65h-0.65zM565.66 216.65h0.65v0.65h-0.65zM566.32 216.65h0.65v0.65h-0.65zM567.63 216.65h0.65v0.65h-0.65zM568.28 216.65h0.65v0.65h-0.65zM568.94 216.65h0.65v0.65h-0.65zM569.59 216.65h0.65v0.65h-0.65z" fill="#4d4846"/>
</g>
<rect x="2.10" y="321.20" width="78.10" height="21.90" fill="#5cc0d2" />
<rect x="3.70" y="343.00" width="75.20" height="72.30" fill="#5cc0d2" />
<path d="M2.10 342.80h78.1M15.10 333.50h52" stroke="#4aa9bc" stroke-width="0.3" fill="none" opacity="0.7"/>
<rect x="20.00" y="326.00" width="39.20" height="5.90" fill="#e60012" />
<circle cx="65.60" cy="328.90" r="0.80" fill="#e60012" />
<rect x="3.00" y="335.60" width="12.80" height="5.30" fill="#5cc0d2" stroke="#c98a94" stroke-width="0.35"/>
<text x="9.40" y="338.05" font-size="1.9" fill="#e60012" text-anchor="middle" font-weight="700" >请勿倚靠车门</text>
<text x="9.40" y="340.30" font-size="1.9" fill="#e60012" text-anchor="middle" font-weight="700" >小心夹手危险</text>
<rect x="66.60" y="335.60" width="12.80" height="5.30" fill="#5cc0d2" stroke="#c98a94" stroke-width="0.35"/>
<text x="73.00" y="338.05" font-size="1.9" fill="#e60012" text-anchor="middle" font-weight="700" >请勿倚靠车门</text>
<text x="73.00" y="340.30" font-size="1.9" fill="#e60012" text-anchor="middle" font-weight="700" >小心夹手危险</text>
<circle cx="17.90" cy="338.50" r="0.80" fill="#e60012" />
<circle cx="65.10" cy="338.50" r="0.80" fill="#e60012" />
<rect x="3.70" y="343.00" width="10.70" height="75.30" fill="#e60012" />
<rect x="67.70" y="343.00" width="11.20" height="75.30" fill="#e60012" />
<rect x="40.20" y="343.00" width="1.80" height="72.30" fill="#e60012" />
<rect x="16.00" y="348.40" width="16.90" height="25.40" fill="#e60012" />
<text x="24.45" y="356.20" font-size="4.2" fill="#74cddc" text-anchor="middle" font-weight="700" >车</text>
<text x="24.45" y="360.25" font-size="4.2" fill="#74cddc" text-anchor="middle" font-weight="700" >门</text>
<text x="24.45" y="364.30" font-size="4.2" fill="#74cddc" text-anchor="middle" font-weight="700" >玻</text>
<text x="24.45" y="368.35" font-size="4.2" fill="#74cddc" text-anchor="middle" font-weight="700" >璃</text>
<rect x="16.00" y="373.80" width="17.7" height="12.5" fill="#74cbd9" fill-opacity="0.45" stroke="#4aa9bc" stroke-width="0.3"/>
<text x="25.10" y="376.70" font-size="1.5" fill="#fff" text-anchor="middle" font-weight="700" font-style="italic">Let's</text>
<text x="17.10" y="380.40" font-size="4.30" fill="#fff" font-weight="400" textLength="15.00" lengthAdjust="spacingAndGlyphs">STAYCATION</text>
<rect x="21.40" y="380.90" width="6.40" height="0.90" fill="#fff" opacity="0.85"/>
<path d="M20.00 385.80v-1.5l1.1-1.4 1.1 1.4v1.5z" fill="#fff"/>
<path d="M26.80 383.30h2.6M26.60 384.40h3M26.80 385.50h2.6" stroke="#fff" stroke-width="0.60" fill="none"/>
<rect x="49.00" y="348.40" width="16.90" height="25.40" fill="#e60012" />
<text x="57.45" y="356.20" font-size="4.2" fill="#74cddc" text-anchor="middle" font-weight="700" >车</text>
<text x="57.45" y="360.25" font-size="4.2" fill="#74cddc" text-anchor="middle" font-weight="700" >门</text>
<text x="57.45" y="364.30" font-size="4.2" fill="#74cddc" text-anchor="middle" font-weight="700" >玻</text>
<text x="57.45" y="368.35" font-size="4.2" fill="#74cddc" text-anchor="middle" font-weight="700" >璃</text>
<rect x="49.00" y="373.80" width="17.7" height="12.5" fill="#74cbd9" fill-opacity="0.45" stroke="#4aa9bc" stroke-width="0.3"/>
<text x="58.10" y="376.70" font-size="1.5" fill="#fff" text-anchor="middle" font-weight="700" font-style="italic">Let's</text>
<text x="50.10" y="380.40" font-size="4.30" fill="#fff" font-weight="400" textLength="15.00" lengthAdjust="spacingAndGlyphs">STAYCATION</text>
<rect x="54.40" y="380.90" width="6.40" height="0.90" fill="#fff" opacity="0.85"/>
<path d="M53.00 385.80v-1.5l1.1-1.4 1.1 1.4v1.5z" fill="#fff"/>
<path d="M59.80 383.30h2.6M59.60 384.40h3M59.80 385.50h2.6" stroke="#fff" stroke-width="0.60" fill="none"/>
<rect x="34.70" y="355.00" width="13.00" height="17.90" fill="#e60012" />
<path d="M41.05 355.00v17.9" stroke="#c4000f" stroke-width="0.5" fill="none"/>
<path d="M20.30 388.70h8.5" stroke="#fff" stroke-width="0.8" opacity="0.9"/>
<path d="M52.60 388.70h8.5" stroke="#fff" stroke-width="0.8" opacity="0.9"/>
<rect x="16.30" y="390.50" width="21.00" height="12.80" rx="1.2" fill="#74cbd9" fill-opacity="0.35" stroke="#fff" stroke-width="0.45"/>
<path d="M18.30 390.50l1.2-1.6 0.6 1.6" fill="none" stroke="#fff" stroke-width="0.4"/>
<text x="17.90" y="393.50" font-size="1.65" fill="#fff" text-anchor="start" font-weight="700" >工作太累想放假</text>
<text x="17.90" y="395.55" font-size="1.65" fill="#fff" text-anchor="start" font-weight="700" >周末去哪儿玩才不挤</text>
<text x="17.90" y="397.60" font-size="1.65" fill="#fff" text-anchor="start" font-weight="700" >星级酒店自助餐加泳池</text>
<text x="17.90" y="399.65" font-size="1.65" fill="#fff" text-anchor="start" font-weight="700" >住店圈酒店嘉年华等你来</text>
<text x="36.10" y="402.10" font-size="1.3" fill="#fff" text-anchor="end" font-weight="700" >住店圈酒店嘉年华</text>
<rect x="44.00" y="391.00" width="21.30" height="15.30" rx="1.2" fill="#74cbd9" fill-opacity="0.35" stroke="#fff" stroke-width="0.45"/>
<path d="M61.60 391.00l1.2-1.6 0.6 1.6" fill="none" stroke="#fff" stroke-width="0.4"/>
<text x="45.60" y="394.00" font-size="1.65" fill="#fff" text-anchor="start" font-weight="700" >月薪四千也能度假自由</text>
<text x="45.60" y="396.05" font-size="1.65" fill="#fff" text-anchor="start" font-weight="700" >住遍全国五星级酒店</text>
<text x="45.60" y="398.10" font-size="1.65" fill="#fff" text-anchor="start" font-weight="700" >周边自驾游特惠房券</text>
<text x="45.60" y="400.15" font-size="1.65" fill="#fff" text-anchor="start" font-weight="700" >高品质酒店星级美食汇</text>
<text x="45.60" y="402.20" font-size="1.65" fill="#fff" text-anchor="start" font-weight="700" >限时特惠购 手慢无</text>
<text x="64.10" y="405.10" font-size="1.3" fill="#fff" text-anchor="end" font-weight="700" >住店圈酒店嘉年华</text>
<rect x="63.80" y="406.00" width="4.20" height="4.00" fill="#e60012" />
<rect x="193.10" y="321.20" width="78.10" height="21.90" fill="#5cc0d2" />
<rect x="194.70" y="343.00" width="75.20" height="72.30" fill="#5cc0d2" />
<path d="M193.10 342.80h78.1M206.10 333.50h52" stroke="#4aa9bc" stroke-width="0.3" fill="none" opacity="0.7"/>
<rect x="211.00" y="326.00" width="39.20" height="5.90" fill="#e60012" />
<circle cx="256.60" cy="328.90" r="0.80" fill="#e60012" />
<rect x="194.00" y="335.60" width="12.80" height="5.30" fill="#5cc0d2" stroke="#c98a94" stroke-width="0.35"/>
<text x="200.40" y="338.05" font-size="1.9" fill="#e60012" text-anchor="middle" font-weight="700" >请勿倚靠车门</text>
<text x="200.40" y="340.30" font-size="1.9" fill="#e60012" text-anchor="middle" font-weight="700" >小心夹手危险</text>
<rect x="257.60" y="335.60" width="12.80" height="5.30" fill="#5cc0d2" stroke="#c98a94" stroke-width="0.35"/>
<text x="264.00" y="338.05" font-size="1.9" fill="#e60012" text-anchor="middle" font-weight="700" >请勿倚靠车门</text>
<text x="264.00" y="340.30" font-size="1.9" fill="#e60012" text-anchor="middle" font-weight="700" >小心夹手危险</text>
<circle cx="208.90" cy="338.50" r="0.80" fill="#e60012" />
<circle cx="256.10" cy="338.50" r="0.80" fill="#e60012" />
<rect x="194.70" y="343.00" width="10.70" height="75.30" fill="#e60012" />
<rect x="258.70" y="343.00" width="11.20" height="75.30" fill="#e60012" />
<rect x="231.20" y="343.00" width="1.80" height="72.30" fill="#e60012" />
<rect x="207.00" y="348.40" width="16.90" height="25.40" fill="#e60012" />
<text x="215.45" y="356.20" font-size="4.2" fill="#74cddc" text-anchor="middle" font-weight="700" >车</text>
<text x="215.45" y="360.25" font-size="4.2" fill="#74cddc" text-anchor="middle" font-weight="700" >门</text>
<text x="215.45" y="364.30" font-size="4.2" fill="#74cddc" text-anchor="middle" font-weight="700" >玻</text>
<text x="215.45" y="368.35" font-size="4.2" fill="#74cddc" text-anchor="middle" font-weight="700" >璃</text>
<rect x="207.00" y="373.80" width="17.7" height="12.5" fill="#74cbd9" fill-opacity="0.45" stroke="#4aa9bc" stroke-width="0.3"/>
<text x="216.10" y="376.70" font-size="1.5" fill="#fff" text-anchor="middle" font-weight="700" font-style="italic">Let's</text>
<text x="208.10" y="380.40" font-size="4.30" fill="#fff" font-weight="400" textLength="15.00" lengthAdjust="spacingAndGlyphs">STAYCATION</text>
<rect x="212.40" y="380.90" width="6.40" height="0.90" fill="#fff" opacity="0.85"/>
<path d="M211.00 385.80v-1.5l1.1-1.4 1.1 1.4v1.5z" fill="#fff"/>
<path d="M217.80 383.30h2.6M217.60 384.40h3M217.80 385.50h2.6" stroke="#fff" stroke-width="0.60" fill="none"/>
<rect x="240.00" y="348.40" width="16.90" height="25.40" fill="#e60012" />
<text x="248.45" y="356.20" font-size="4.2" fill="#74cddc" text-anchor="middle" font-weight="700" >车</text>
<text x="248.45" y="360.25" font-size="4.2" fill="#74cddc" text-anchor="middle" font-weight="700" >门</text>
<text x="248.45" y="364.30" font-size="4.2" fill="#74cddc" text-anchor="middle" font-weight="700" >玻</text>
<text x="248.45" y="368.35" font-size="4.2" fill="#74cddc" text-anchor="middle" font-weight="700" >璃</text>
<rect x="240.00" y="373.80" width="17.7" height="12.5" fill="#74cbd9" fill-opacity="0.45" stroke="#4aa9bc" stroke-width="0.3"/>
<text x="249.10" y="376.70" font-size="1.5" fill="#fff" text-anchor="middle" font-weight="700" font-style="italic">Let's</text>
<text x="241.10" y="380.40" font-size="4.30" fill="#fff" font-weight="400" textLength="15.00" lengthAdjust="spacingAndGlyphs">STAYCATION</text>
<rect x="245.40" y="380.90" width="6.40" height="0.90" fill="#fff" opacity="0.85"/>
<path d="M244.00 385.80v-1.5l1.1-1.4 1.1 1.4v1.5z" fill="#fff"/>
<path d="M250.80 383.30h2.6M250.60 384.40h3M250.80 385.50h2.6" stroke="#fff" stroke-width="0.60" fill="none"/>
<rect x="225.70" y="355.00" width="13.00" height="17.90" fill="#e60012" />
<path d="M232.05 355.00v17.9" stroke="#c4000f" stroke-width="0.5" fill="none"/>
<path d="M211.30 388.70h8.5" stroke="#fff" stroke-width="0.8" opacity="0.9"/>
<path d="M243.60 388.70h8.5" stroke="#fff" stroke-width="0.8" opacity="0.9"/>
<rect x="207.30" y="390.50" width="21.00" height="12.80" rx="1.2" fill="#74cbd9" fill-opacity="0.35" stroke="#fff" stroke-width="0.45"/>
<path d="M209.30 390.50l1.2-1.6 0.6 1.6" fill="none" stroke="#fff" stroke-width="0.4"/>
<text x="208.90" y="393.50" font-size="1.65" fill="#fff" text-anchor="start" font-weight="700" >高品质酒店</text>
<text x="208.90" y="395.55" font-size="1.65" fill="#fff" text-anchor="start" font-weight="700" >星级美食汇集地</text>
<text x="208.90" y="397.60" font-size="1.65" fill="#fff" text-anchor="start" font-weight="700" >周边自驾游 限时特惠</text>
<text x="208.90" y="399.65" font-size="1.65" fill="#fff" text-anchor="start" font-weight="700" >带上家人说走就走</text>
<text x="227.10" y="402.10" font-size="1.3" fill="#fff" text-anchor="end" font-weight="700" >住店圈酒店嘉年华</text>
<rect x="235.00" y="391.00" width="21.30" height="15.30" rx="1.2" fill="#74cbd9" fill-opacity="0.35" stroke="#fff" stroke-width="0.45"/>
<path d="M252.60 391.00l1.2-1.6 0.6 1.6" fill="none" stroke="#fff" stroke-width="0.4"/>
<text x="236.60" y="394.00" font-size="1.65" fill="#fff" text-anchor="start" font-weight="700" >带爸妈去度假吧</text>
<text x="236.60" y="396.05" font-size="1.65" fill="#fff" text-anchor="start" font-weight="700" >亲子游情侣游闺蜜游</text>
<text x="236.60" y="398.10" font-size="1.65" fill="#fff" text-anchor="start" font-weight="700" >泡温泉吃大餐看风景</text>
<text x="236.60" y="400.15" font-size="1.65" fill="#fff" text-anchor="start" font-weight="700" >一价全包不加钱</text>
<text x="236.60" y="402.20" font-size="1.65" fill="#fff" text-anchor="start" font-weight="700" >住店圈酒店嘉年华</text>
<text x="255.10" y="405.10" font-size="1.3" fill="#fff" text-anchor="end" font-weight="700" >住店圈酒店嘉年华</text>
<rect x="254.80" y="406.00" width="4.20" height="4.00" fill="#e60012" />
<rect x="383.90" y="321.20" width="78.10" height="21.90" fill="#5cc0d2" />
<rect x="385.50" y="343.00" width="75.20" height="72.30" fill="#5cc0d2" />
<path d="M383.90 342.80h78.1M396.90 333.50h52" stroke="#4aa9bc" stroke-width="0.3" fill="none" opacity="0.7"/>
<rect x="401.80" y="326.00" width="39.20" height="5.90" fill="#e60012" />
<circle cx="447.40" cy="328.90" r="0.80" fill="#e60012" />
<rect x="384.80" y="335.60" width="12.80" height="5.30" fill="#5cc0d2" stroke="#c98a94" stroke-width="0.35"/>
<text x="391.20" y="338.05" font-size="1.9" fill="#e60012" text-anchor="middle" font-weight="700" >请勿倚靠车门</text>
<text x="391.20" y="340.30" font-size="1.9" fill="#e60012" text-anchor="middle" font-weight="700" >小心夹手危险</text>
<rect x="448.40" y="335.60" width="12.80" height="5.30" fill="#5cc0d2" stroke="#c98a94" stroke-width="0.35"/>
<text x="454.80" y="338.05" font-size="1.9" fill="#e60012" text-anchor="middle" font-weight="700" >请勿倚靠车门</text>
<text x="454.80" y="340.30" font-size="1.9" fill="#e60012" text-anchor="middle" font-weight="700" >小心夹手危险</text>
<circle cx="399.70" cy="338.50" r="0.80" fill="#e60012" />
<circle cx="446.90" cy="338.50" r="0.80" fill="#e60012" />
<rect x="385.50" y="343.00" width="10.70" height="75.30" fill="#e60012" />
<rect x="449.50" y="343.00" width="11.20" height="75.30" fill="#e60012" />
<rect x="422.00" y="343.00" width="1.80" height="72.30" fill="#e60012" />
<rect x="397.80" y="348.40" width="16.90" height="25.40" fill="#e60012" />
<text x="406.25" y="356.20" font-size="4.2" fill="#74cddc" text-anchor="middle" font-weight="700" >车</text>
<text x="406.25" y="360.25" font-size="4.2" fill="#74cddc" text-anchor="middle" font-weight="700" >门</text>
<text x="406.25" y="364.30" font-size="4.2" fill="#74cddc" text-anchor="middle" font-weight="700" >玻</text>
<text x="406.25" y="368.35" font-size="4.2" fill="#74cddc" text-anchor="middle" font-weight="700" >璃</text>
<rect x="397.80" y="373.80" width="17.7" height="12.5" fill="#74cbd9" fill-opacity="0.45" stroke="#4aa9bc" stroke-width="0.3"/>
<text x="406.90" y="376.70" font-size="1.5" fill="#fff" text-anchor="middle" font-weight="700" font-style="italic">Let's</text>
<text x="398.90" y="380.40" font-size="4.30" fill="#fff" font-weight="400" textLength="15.00" lengthAdjust="spacingAndGlyphs">STAYCATION</text>
<rect x="403.20" y="380.90" width="6.40" height="0.90" fill="#fff" opacity="0.85"/>
<path d="M401.80 385.80v-1.5l1.1-1.4 1.1 1.4v1.5z" fill="#fff"/>
<path d="M408.60 383.30h2.6M408.40 384.40h3M408.60 385.50h2.6" stroke="#fff" stroke-width="0.60" fill="none"/>
<rect x="430.80" y="348.40" width="16.90" height="25.40" fill="#e60012" />
<text x="439.25" y="356.20" font-size="4.2" fill="#74cddc" text-anchor="middle" font-weight="700" >车</text>
<text x="439.25" y="360.25" font-size="4.2" fill="#74cddc" text-anchor="middle" font-weight="700" >门</text>
<text x="439.25" y="364.30" font-size="4.2" fill="#74cddc" text-anchor="middle" font-weight="700" >玻</text>
<text x="439.25" y="368.35" font-size="4.2" fill="#74cddc" text-anchor="middle" font-weight="700" >璃</text>
<rect x="430.80" y="373.80" width="17.7" height="12.5" fill="#74cbd9" fill-opacity="0.45" stroke="#4aa9bc" stroke-width="0.3"/>
<text x="439.90" y="376.70" font-size="1.5" fill="#fff" text-anchor="middle" font-weight="700" font-style="italic">Let's</text>
<text x="431.90" y="380.40" font-size="4.30" fill="#fff" font-weight="400" textLength="15.00" lengthAdjust="spacingAndGlyphs">STAYCATION</text>
<rect x="436.20" y="380.90" width="6.40" height="0.90" fill="#fff" opacity="0.85"/>
<path d="M434.80 385.80v-1.5l1.1-1.4 1.1 1.4v1.5z" fill="#fff"/>
<path d="M441.60 383.30h2.6M441.40 384.40h3M441.60 385.50h2.6" stroke="#fff" stroke-width="0.60" fill="none"/>
<rect x="416.50" y="355.00" width="13.00" height="17.90" fill="#e60012" />
<path d="M422.85 355.00v17.9" stroke="#c4000f" stroke-width="0.5" fill="none"/>
<path d="M402.10 388.70h8.5" stroke="#fff" stroke-width="0.8" opacity="0.9"/>
<path d="M434.40 388.70h8.5" stroke="#fff" stroke-width="0.8" opacity="0.9"/>
<rect x="398.10" y="390.50" width="21.00" height="12.80" rx="1.2" fill="#74cbd9" fill-opacity="0.35" stroke="#fff" stroke-width="0.45"/>
<path d="M400.10 390.50l1.2-1.6 0.6 1.6" fill="none" stroke="#fff" stroke-width="0.4"/>
<text x="399.70" y="393.50" font-size="1.65" fill="#fff" text-anchor="start" font-weight="700" >周末不知道去哪</text>
<text x="399.70" y="395.55" font-size="1.65" fill="#fff" text-anchor="start" font-weight="700" >就去酒店度假吧</text>
<text x="399.70" y="397.60" font-size="1.65" fill="#fff" text-anchor="start" font-weight="700" >星级酒店 一折起抢</text>
<text x="399.70" y="399.65" font-size="1.65" fill="#fff" text-anchor="start" font-weight="700" >住一晚送一晚早餐</text>
<text x="417.90" y="402.10" font-size="1.3" fill="#fff" text-anchor="end" font-weight="700" >住店圈酒店嘉年华</text>
<rect x="425.80" y="391.00" width="21.30" height="15.30" rx="1.2" fill="#74cbd9" fill-opacity="0.35" stroke="#fff" stroke-width="0.45"/>
<path d="M443.40 391.00l1.2-1.6 0.6 1.6" fill="none" stroke="#fff" stroke-width="0.4"/>
<text x="427.40" y="394.00" font-size="1.65" fill="#fff" text-anchor="start" font-weight="700" >厦门五星酒店特卖会</text>
<text x="427.40" y="396.05" font-size="1.65" fill="#fff" text-anchor="start" font-weight="700" >打开淘宝搜索住店圈</text>
<text x="427.40" y="398.10" font-size="1.65" fill="#fff" text-anchor="start" font-weight="700" >限时抢购 手慢无</text>
<text x="427.40" y="400.15" font-size="1.65" fill="#fff" text-anchor="start" font-weight="700" >房券全年通用随时退</text>
<text x="445.90" y="405.10" font-size="1.3" fill="#fff" text-anchor="end" font-weight="700" >住店圈酒店嘉年华</text>
<rect x="445.60" y="406.00" width="4.20" height="4.00" fill="#e60012" />
<rect x="574.60" y="321.20" width="78.10" height="21.90" fill="#5cc0d2" />
<rect x="576.20" y="343.00" width="75.20" height="72.30" fill="#5cc0d2" />
<path d="M574.60 342.80h78.1M587.60 333.50h52" stroke="#4aa9bc" stroke-width="0.3" fill="none" opacity="0.7"/>
<rect x="592.50" y="326.00" width="39.20" height="5.90" fill="#e60012" />
<circle cx="638.10" cy="328.90" r="0.80" fill="#e60012" />
<rect x="575.50" y="335.60" width="12.80" height="5.30" fill="#5cc0d2" stroke="#c98a94" stroke-width="0.35"/>
<text x="581.90" y="338.05" font-size="1.9" fill="#e60012" text-anchor="middle" font-weight="700" >请勿倚靠车门</text>
<text x="581.90" y="340.30" font-size="1.9" fill="#e60012" text-anchor="middle" font-weight="700" >小心夹手危险</text>
<rect x="639.10" y="335.60" width="12.80" height="5.30" fill="#5cc0d2" stroke="#c98a94" stroke-width="0.35"/>
<text x="645.50" y="338.05" font-size="1.9" fill="#e60012" text-anchor="middle" font-weight="700" >请勿倚靠车门</text>
<text x="645.50" y="340.30" font-size="1.9" fill="#e60012" text-anchor="middle" font-weight="700" >小心夹手危险</text>
<circle cx="590.40" cy="338.50" r="0.80" fill="#e60012" />
<circle cx="637.60" cy="338.50" r="0.80" fill="#e60012" />
<rect x="576.20" y="343.00" width="10.70" height="75.30" fill="#e60012" />
<rect x="640.20" y="343.00" width="11.20" height="75.30" fill="#e60012" />
<rect x="612.70" y="343.00" width="1.80" height="72.30" fill="#e60012" />
<rect x="588.50" y="348.40" width="16.90" height="25.40" fill="#e60012" />
<text x="596.95" y="356.20" font-size="4.2" fill="#74cddc" text-anchor="middle" font-weight="700" >车</text>
<text x="596.95" y="360.25" font-size="4.2" fill="#74cddc" text-anchor="middle" font-weight="700" >门</text>
<text x="596.95" y="364.30" font-size="4.2" fill="#74cddc" text-anchor="middle" font-weight="700" >玻</text>
<text x="596.95" y="368.35" font-size="4.2" fill="#74cddc" text-anchor="middle" font-weight="700" >璃</text>
<rect x="588.50" y="373.80" width="17.7" height="12.5" fill="#74cbd9" fill-opacity="0.45" stroke="#4aa9bc" stroke-width="0.3"/>
<text x="597.60" y="376.70" font-size="1.5" fill="#fff" text-anchor="middle" font-weight="700" font-style="italic">Let's</text>
<text x="589.60" y="380.40" font-size="4.30" fill="#fff" font-weight="400" textLength="15.00" lengthAdjust="spacingAndGlyphs">STAYCATION</text>
<rect x="593.90" y="380.90" width="6.40" height="0.90" fill="#fff" opacity="0.85"/>
<path d="M592.50 385.80v-1.5l1.1-1.4 1.1 1.4v1.5z" fill="#fff"/>
<path d="M599.30 383.30h2.6M599.10 384.40h3M599.30 385.50h2.6" stroke="#fff" stroke-width="0.60" fill="none"/>
<rect x="621.50" y="348.40" width="16.90" height="25.40" fill="#e60012" />
<text x="629.95" y="356.20" font-size="4.2" fill="#74cddc" text-anchor="middle" font-weight="700" >车</text>
<text x="629.95" y="360.25" font-size="4.2" fill="#74cddc" text-anchor="middle" font-weight="700" >门</text>
<text x="629.95" y="364.30" font-size="4.2" fill="#74cddc" text-anchor="middle" font-weight="700" >玻</text>
<text x="629.95" y="368.35" font-size="4.2" fill="#74cddc" text-anchor="middle" font-weight="700" >璃</text>
<rect x="621.50" y="373.80" width="17.7" height="12.5" fill="#74cbd9" fill-opacity="0.45" stroke="#4aa9bc" stroke-width="0.3"/>
<text x="630.60" y="376.70" font-size="1.5" fill="#fff" text-anchor="middle" font-weight="700" font-style="italic">Let's</text>
<text x="622.60" y="380.40" font-size="4.30" fill="#fff" font-weight="400" textLength="15.00" lengthAdjust="spacingAndGlyphs">STAYCATION</text>
<rect x="626.90" y="380.90" width="6.40" height="0.90" fill="#fff" opacity="0.85"/>
<path d="M625.50 385.80v-1.5l1.1-1.4 1.1 1.4v1.5z" fill="#fff"/>
<path d="M632.30 383.30h2.6M632.10 384.40h3M632.30 385.50h2.6" stroke="#fff" stroke-width="0.60" fill="none"/>
<rect x="607.20" y="355.00" width="13.00" height="17.90" fill="#e60012" />
<path d="M613.55 355.00v17.9" stroke="#c4000f" stroke-width="0.5" fill="none"/>
<path d="M592.80 388.70h8.5" stroke="#fff" stroke-width="0.8" opacity="0.9"/>
<path d="M625.10 388.70h8.5" stroke="#fff" stroke-width="0.8" opacity="0.9"/>
<rect x="588.80" y="390.50" width="21.00" height="12.80" rx="1.2" fill="#74cbd9" fill-opacity="0.35" stroke="#fff" stroke-width="0.45"/>
<path d="M590.80 390.50l1.2-1.6 0.6 1.6" fill="none" stroke="#fff" stroke-width="0.4"/>
<text x="590.40" y="393.50" font-size="1.65" fill="#fff" text-anchor="start" font-weight="700" >说走就走的旅行</text>
<text x="590.40" y="395.55" font-size="1.65" fill="#fff" text-anchor="start" font-weight="700" >从一张房券开始</text>
<text x="590.40" y="397.60" font-size="1.65" fill="#fff" text-anchor="start" font-weight="700" >酒店自助餐下午茶</text>
<text x="590.40" y="399.65" font-size="1.65" fill="#fff" text-anchor="start" font-weight="700" >温泉乐园全都有</text>
<text x="590.40" y="401.70" font-size="1.65" fill="#fff" text-anchor="start" font-weight="700" >周边自驾一小时直达</text>
<text x="608.60" y="402.10" font-size="1.3" fill="#fff" text-anchor="end" font-weight="700" >住店圈酒店嘉年华</text>
<rect x="616.50" y="391.00" width="21.30" height="15.30" rx="1.2" fill="#74cbd9" fill-opacity="0.35" stroke="#fff" stroke-width="0.45"/>
<path d="M634.10 391.00l1.2-1.6 0.6 1.6" fill="none" stroke="#fff" stroke-width="0.4"/>
<text x="618.10" y="394.00" font-size="1.65" fill="#fff" text-anchor="start" font-weight="700" >住店圈酒店嘉年华</text>
<text x="618.10" y="396.05" font-size="1.65" fill="#fff" text-anchor="start" font-weight="700" >全国千家酒店通兑</text>
<text x="618.10" y="398.10" font-size="1.65" fill="#fff" text-anchor="start" font-weight="700" >房券限时抢购中</text>
<text x="618.10" y="400.15" font-size="1.65" fill="#fff" text-anchor="start" font-weight="700" >扫码进入活动主会场</text>
<text x="636.60" y="405.10" font-size="1.3" fill="#fff" text-anchor="end" font-weight="700" >住店圈酒店嘉年华</text>
<rect x="636.30" y="406.00" width="4.20" height="4.00" fill="#e60012" />
<rect x="80.30" y="321.30" width="112.70" height="61.40" fill="#5cc0d2" />
<rect x="80.30" y="382.50" width="112.70" height="35.50" fill="#e60012" />
<path d="M80.30 339.60h112.7M103.50 339.60v5M169.60 339.60v5" stroke="#4aa9bc" stroke-width="0.3" fill="none" opacity="0.7"/>
<rect x="81.30" y="342.20" width="21.50" height="16.10" fill="#e60012" />
<rect x="104.20" y="344.70" width="64.60" height="36.60" fill="#e60012" />
<rect x="173.30" y="343.00" width="15.40" height="23.70" fill="#e60012" />
<path d="M110.00 344.70v-0.6h2v-0.8h1.2v-0.7h1v1h1.2v-1.8h0.9v-1h0.8v2h1v-1.4h1.1v-1.9l0.5-0.9 0.5 0.9v2.4h1v-1.2h1.2v1.6h1.1v-0.9h1.3v1.2h1.2v0.9h2.5v0.6z" fill="#fff"/>
<text x="145.80" y="341.70" font-size="1.8" fill="#fff" text-anchor="middle" font-weight="400" >酒店公交漫游沿途风景线路</text>
<text x="145.80" y="344.00" font-size="1.8" fill="#fff" text-anchor="middle" font-weight="400" >每一站都是你的度假目的地酒店特卖</text>
<rect x="105.80" y="345.80" width="61.7" height="11.4" fill="#5cc0d2"/>
<rect x="107.50" y="349.50" width="27" height="5.9" rx="0.6" fill="none" stroke="#fff" stroke-width="0.4"/>
<rect x="107.30" y="347.30" width="15.5" height="1.8" rx="0.9" fill="#fff"/>
<text x="115.00" y="348.75" font-size="1.3" fill="#5cc0d2" text-anchor="middle" font-weight="700" >住店圈酒店嘉年华</text>
<path d="M122.80 348.20h12" stroke="#fff" stroke-width="0.35"/>
<text x="121.00" y="353.40" font-size="2.2" fill="#fff" text-anchor="middle" font-weight="700" >厦门五月食宿美景特价</text>
<rect x="139.90" y="347.60" width="25.6" height="6.0" rx="0.6" fill="none" stroke="#fff" stroke-width="0.4"/>
<text x="152.70" y="351.50" font-size="2.2" fill="#fff" text-anchor="middle" font-weight="700" >住最美的百店酒店特价</text>
<rect x="149.80" y="354.20" width="16" height="1.8" rx="0.9" fill="#fff"/>
<text x="157.80" y="355.65" font-size="1.3" fill="#5cc0d2" text-anchor="middle" font-weight="700" >住店圈酒店嘉年华</text>
<path d="M139.90 355.10h10" stroke="#fff" stroke-width="0.35"/>
<text transform="translate(138.30 368.80) scale(1.06 1)" font-size="9.2" fill="#5cc0d2" text-anchor="middle" font-weight="900">车窗玻璃</text>
<text transform="translate(130.15 404.30) scale(1.37 1)" font-size="9.3" fill="#5cc0d2" text-anchor="middle" font-weight="900">座</text>
<text transform="translate(144.45 404.30) scale(1.37 1)" font-size="9.3" fill="#5cc0d2" text-anchor="middle" font-weight="900">椅</text>
<text x="91.40" y="362.80" font-size="1.9" fill="#fff" text-anchor="middle" font-weight="700" >厦门旅游度假酒店推荐</text>
<rect x="83.00" y="365.70" width="17.10" height="13.20" rx="0.9" fill="none" stroke="#fff" stroke-width="0.5"/>
<path d="M83.90 379.80H101.00V366.60" fill="none" stroke="#fff" stroke-width="0.4" opacity="0.8"/>
<path d="M97.70 365.70l1.6-1.8 0.3 1.8" fill="none" stroke="#fff" stroke-width="0.4"/>
<text x="84.90" y="371.60" font-size="2.5" fill="#fff" text-anchor="start" font-weight="700" >五月去哪里</text>
<text x="84.90" y="374.80" font-size="2.5" fill="#fff" text-anchor="start" font-weight="700" >玩最好玩?</text>
<text x="180.30" y="369.40" font-size="1.8" fill="#fff" text-anchor="middle" font-weight="700" >住店圈酒店嘉年华特惠</text>
<rect x="172.30" y="371.50" width="15.80" height="9.00" rx="0.9" fill="none" stroke="#fff" stroke-width="0.5"/>
<path d="M173.20 381.40H189.00V372.40" fill="none" stroke="#fff" stroke-width="0.4" opacity="0.8"/>
<path d="M185.70 371.50l1.6-1.8 0.3 1.8" fill="none" stroke="#fff" stroke-width="0.4"/>
<text x="174.20" y="375.38" font-size="1.9" fill="#fff" text-anchor="start" font-weight="700" >星级酒店自助餐</text>
<text x="174.20" y="377.98" font-size="1.9" fill="#fff" text-anchor="start" font-weight="700" >周边自驾游特惠</text>
<path d="M80.30 342.80v75.2M193.00 342.80v75.2" stroke="#f3c9cc" stroke-width="0.5" fill="none"/>
<g transform="translate(81.90 322.70)"><path d="M2.2 16.3c-0.4-3.4 0.2-6.4 2.6-7.6h6.4c1.6 1.2 2.2 4.2 1.8 7.6z" fill="#b98445"/><ellipse cx="2.4" cy="10.4" rx="2.6" ry="1.7" fill="#b98445" transform="rotate(-28 2.4 10.4)"/><ellipse cx="15.6" cy="11.0" rx="3.0" ry="1.8" fill="#c48f4d" transform="rotate(-40 15.6 11.0)"/><circle cx="8.4" cy="1.9" r="1.8" fill="#c48f4d"/><circle cx="15.9" cy="3.4" r="1.8" fill="#c48f4d"/><ellipse cx="11.6" cy="6.0" rx="5.6" ry="5.4" fill="#c48f4d"/><ellipse cx="10.9" cy="8.0" rx="2.6" ry="3.0" fill="#efd9ae" transform="rotate(-15 10.9 8)"/><ellipse cx="10.5" cy="9.0" rx="0.9" ry="1.3" fill="#3a1d12" transform="rotate(-15 10.5 9)"/><ellipse cx="11.4" cy="6.6" rx="0.9" ry="0.6" fill="#2a1a10"/><circle cx="9.2" cy="5.2" r="0.6" fill="#2a1a10"/><circle cx="13.6" cy="5.6" r="0.6" fill="#2a1a10"/></g>
<circle cx="102.20" cy="329.50" r="2.50" fill="#e60012" />
<path d="M105.60 328.90l2.40-2.6M106.40 329.80l3.40-1.2M106.20 331.10l2.60 0.6" stroke="#fff" stroke-width="0.4" fill="none"/>
<text x="110.80" y="330.40" font-size="2.4" fill="#fff" text-anchor="start" font-weight="700" >看公交</text>
<text x="110.80" y="333.25" font-size="2.4" fill="#fff" text-anchor="start" font-weight="700" >车身边的酒店特卖?</text>
<rect x="133.80" y="325.80" width="5.70" height="7.50" fill="#e60012" />
<rect x="140.80" y="326.30" width="31.70" height="5.40" rx="0.7" fill="none" stroke="#fff" stroke-width="0.35" opacity="0.4"/>
<text x="156.65" y="329.92" font-size="2.55" fill="#fff" text-anchor="middle" font-weight="700" >扫描二维码进入酒店嘉年华</text>
<rect x="174.70" y="325.80" width="6.80" height="6.80" fill="#dedad7" />
<path d="M174.70 325.80h0.62v0.62h-0.62zM175.32 325.80h0.62v0.62h-0.62zM175.94 325.80h0.62v0.62h-0.62zM176.55 325.80h0.62v0.62h-0.62zM178.41 325.80h0.62v0.62h-0.62zM179.03 325.80h0.62v0.62h-0.62zM179.65 325.80h0.62v0.62h-0.62zM180.26 325.80h0.62v0.62h-0.62zM180.88 325.80h0.62v0.62h-0.62zM174.70 326.42h0.62v0.62h-0.62zM175.94 326.42h0.62v0.62h-0.62zM179.03 326.42h0.62v0.62h-0.62zM179.65 326.42h0.62v0.62h-0.62zM180.88 326.42h0.62v0.62h-0.62zM174.70 327.04h0.62v0.62h-0.62zM175.32 327.04h0.62v0.62h-0.62zM175.94 327.04h0.62v0.62h-0.62zM176.55 327.04h0.62v0.62h-0.62zM177.17 327.04h0.62v0.62h-0.62zM178.41 327.04h0.62v0.62h-0.62zM179.65 327.04h0.62v0.62h-0.62zM180.26 327.04h0.62v0.62h-0.62zM180.88 327.04h0.62v0.62h-0.62zM174.70 327.65h0.62v0.62h-0.62zM175.32 327.65h0.62v0.62h-0.62zM175.94 327.65h0.62v0.62h-0.62zM179.03 327.65h0.62v0.62h-0.62zM179.65 327.65h0.62v0.62h-0.62zM180.26 327.65h0.62v0.62h-0.62zM180.88 327.65h0.62v0.62h-0.62zM175.32 328.27h0.62v0.62h-0.62zM175.94 328.27h0.62v0.62h-0.62zM177.17 328.27h0.62v0.62h-0.62zM178.41 328.27h0.62v0.62h-0.62zM179.65 328.27h0.62v0.62h-0.62zM180.26 328.27h0.62v0.62h-0.62zM180.88 328.27h0.62v0.62h-0.62zM174.70 328.89h0.62v0.62h-0.62zM175.94 328.89h0.62v0.62h-0.62zM177.17 328.89h0.62v0.62h-0.62zM174.70 329.51h0.62v0.62h-0.62zM175.32 329.51h0.62v0.62h-0.62zM176.55 329.51h0.62v0.62h-0.62zM178.41 329.51h0.62v0.62h-0.62zM179.03 329.51h0.62v0.62h-0.62zM179.65 329.51h0.62v0.62h-0.62zM180.26 329.51h0.62v0.62h-0.62zM174.70 330.13h0.62v0.62h-0.62zM175.32 330.13h0.62v0.62h-0.62zM175.94 330.13h0.62v0.62h-0.62zM177.79 330.13h0.62v0.62h-0.62zM178.41 330.13h0.62v0.62h-0.62zM180.26 330.13h0.62v0.62h-0.62zM174.70 330.75h0.62v0.62h-0.62zM175.32 330.75h0.62v0.62h-0.62zM175.94 330.75h0.62v0.62h-0.62zM177.79 330.75h0.62v0.62h-0.62zM178.41 330.75h0.62v0.62h-0.62zM179.03 330.75h0.62v0.62h-0.62zM180.26 330.75h0.62v0.62h-0.62zM174.70 331.36h0.62v0.62h-0.62zM175.94 331.36h0.62v0.62h-0.62zM176.55 331.36h0.62v0.62h-0.62zM177.17 331.36h0.62v0.62h-0.62zM177.79 331.36h0.62v0.62h-0.62zM179.65 331.36h0.62v0.62h-0.62zM174.70 331.98h0.62v0.62h-0.62zM175.32 331.98h0.62v0.62h-0.62zM175.94 331.98h0.62v0.62h-0.62zM177.79 331.98h0.62v0.62h-0.62zM180.88 331.98h0.62v0.62h-0.62z" fill="#4d4846"/>
<rect x="271.30" y="321.30" width="112.70" height="61.40" fill="#5cc0d2" />
<rect x="271.30" y="382.50" width="112.70" height="35.50" fill="#e60012" />
<path d="M271.30 339.60h112.7M294.50 339.60v5M360.60 339.60v5" stroke="#4aa9bc" stroke-width="0.3" fill="none" opacity="0.7"/>
<rect x="272.30" y="342.20" width="21.50" height="16.10" fill="#e60012" />
<rect x="295.20" y="344.70" width="64.60" height="36.60" fill="#e60012" />
<rect x="364.30" y="343.00" width="15.40" height="23.70" fill="#e60012" />
<path d="M301.00 344.70v-0.6h2v-0.8h1.2v-0.7h1v1h1.2v-1.8h0.9v-1h0.8v2h1v-1.4h1.1v-1.9l0.5-0.9 0.5 0.9v2.4h1v-1.2h1.2v1.6h1.1v-0.9h1.3v1.2h1.2v0.9h2.5v0.6z" fill="#fff"/>
<text x="336.80" y="341.70" font-size="1.8" fill="#fff" text-anchor="middle" font-weight="400" >酒店公交漫游沿途风景线路</text>
<text x="336.80" y="344.00" font-size="1.8" fill="#fff" text-anchor="middle" font-weight="400" >每一站都是你的度假目的地酒店特卖</text>
<rect x="296.80" y="345.80" width="61.7" height="11.4" fill="#5cc0d2"/>
<rect x="298.50" y="349.50" width="27" height="5.9" rx="0.6" fill="none" stroke="#fff" stroke-width="0.4"/>
<rect x="298.30" y="347.30" width="15.5" height="1.8" rx="0.9" fill="#fff"/>
<text x="306.00" y="348.75" font-size="1.3" fill="#5cc0d2" text-anchor="middle" font-weight="700" >住店圈酒店嘉年华</text>
<path d="M313.80 348.20h12" stroke="#fff" stroke-width="0.35"/>
<text x="312.00" y="353.40" font-size="2.2" fill="#fff" text-anchor="middle" font-weight="700" >厦门周边特惠</text>
<rect x="330.90" y="347.60" width="25.6" height="6.0" rx="0.6" fill="none" stroke="#fff" stroke-width="0.4"/>
<text x="343.70" y="351.50" font-size="2.2" fill="#fff" text-anchor="middle" font-weight="700" >厦门周边 特惠酒店</text>
<rect x="340.80" y="354.20" width="16" height="1.8" rx="0.9" fill="#fff"/>
<text x="348.80" y="355.65" font-size="1.3" fill="#5cc0d2" text-anchor="middle" font-weight="700" >住店圈酒店嘉年华</text>
<path d="M330.90 355.10h10" stroke="#fff" stroke-width="0.35"/>
<text transform="translate(329.30 368.80) scale(1.06 1)" font-size="9.2" fill="#5cc0d2" text-anchor="middle" font-weight="900">车窗玻璃</text>
<text transform="translate(321.15 404.30) scale(1.37 1)" font-size="9.3" fill="#5cc0d2" text-anchor="middle" font-weight="900">座</text>
<text transform="translate(335.45 404.30) scale(1.37 1)" font-size="9.3" fill="#5cc0d2" text-anchor="middle" font-weight="900">椅</text>
<text x="282.40" y="362.80" font-size="1.9" fill="#fff" text-anchor="middle" font-weight="700" >厦门周边特惠酒店推荐</text>
<rect x="274.00" y="365.70" width="17.10" height="13.20" rx="0.9" fill="none" stroke="#fff" stroke-width="0.5"/>
<path d="M274.90 379.80H292.00V366.60" fill="none" stroke="#fff" stroke-width="0.4" opacity="0.8"/>
<path d="M288.70 365.70l1.6-1.8 0.3 1.8" fill="none" stroke="#fff" stroke-width="0.4"/>
<text x="275.90" y="371.60" font-size="2.5" fill="#fff" text-anchor="start" font-weight="700" >去中国三亚</text>
<text x="275.90" y="374.80" font-size="2.5" fill="#fff" text-anchor="start" font-weight="700" >吃遍厦门味</text>
<text x="371.30" y="369.40" font-size="1.8" fill="#fff" text-anchor="middle" font-weight="700" >厦门周边 特惠酒店</text>
<rect x="363.30" y="371.50" width="15.80" height="9.00" rx="0.9" fill="none" stroke="#fff" stroke-width="0.5"/>
<path d="M364.20 381.40H380.00V372.40" fill="none" stroke="#fff" stroke-width="0.4" opacity="0.8"/>
<path d="M376.70 371.50l1.6-1.8 0.3 1.8" fill="none" stroke="#fff" stroke-width="0.4"/>
<text x="365.20" y="375.38" font-size="1.9" fill="#fff" text-anchor="start" font-weight="700" >星级美食汇特卖</text>
<text x="365.20" y="377.98" font-size="1.9" fill="#fff" text-anchor="start" font-weight="700" >限时抢 特惠</text>
<path d="M271.30 342.80v75.2M384.00 342.80v75.2" stroke="#f3c9cc" stroke-width="0.5" fill="none"/>
<g transform="translate(276.00 322.30)"><path d="M4.6 10.6L0.8 6.4 2.2 5.4 6 9.2z" fill="#f6d32e"/><path d="M10.6 11L14.4 8.6 13.6 7.2 9.6 9.4z" fill="#f6d32e"/><circle cx="1.2" cy="5.6" r="1" fill="#f0a3a2"/><circle cx="14.3" cy="7.8" r="0.9" fill="#f0a3a2"/><path d="M4.6 9.8h6.2l0.8 6.9h-8z" fill="#2848a6"/><circle cx="7.7" cy="13.4" r="1.3" fill="#fff"/><path d="M2.4 2.6l1.0-2.2 2.6 1.6z" fill="#f0a3a2"/><path d="M13 3.2l-0.4-2.4-2.6 1.4z" fill="#f0a3a2"/><ellipse cx="7.7" cy="5.6" rx="5.4" ry="5.0" fill="#f0a3a2"/><ellipse cx="7.8" cy="6.5" rx="3.9" ry="3.3" fill="#f4cdb0"/><path d="M4 5.6c0.8-3 6.8-3 7.6 0-2.4-1-5.2-1-7.6 0z" fill="#7a4a2a"/><circle cx="6.1" cy="6.6" r="0.65" fill="#2a1a14"/><circle cx="9.6" cy="6.6" r="0.65" fill="#2a1a14"/><ellipse cx="7.8" cy="8.4" rx="0.8" ry="0.45" fill="#d9706a"/></g>
<circle cx="293.00" cy="329.50" r="2.50" fill="#e60012" />
<path d="M296.30 328.90l2.40-2.6M297.10 329.80l3.40-1.2M296.90 331.10l2.60 0.6" stroke="#fff" stroke-width="0.4" fill="none"/>
<rect x="302.00" y="325.80" width="5.50" height="7.20" fill="#e60012" />
<text x="310.80" y="330.50" font-size="2.3" fill="#fff" text-anchor="start" font-weight="700" >看公交</text>
<rect x="324.70" y="325.80" width="5.30" height="7.20" fill="#e60012" />
<text x="330.80" y="330.30" font-size="2.0" fill="#fff" text-anchor="start" font-weight="700" >车身边的酒店特卖?</text>
<rect x="349.20" y="325.80" width="5.50" height="7.20" fill="#e60012" />
<text x="356.70" y="329.20" font-size="2.2" fill="#fff" text-anchor="start" font-weight="700" >扫描二维码</text>
<text x="356.70" y="331.85" font-size="2.2" fill="#fff" text-anchor="start" font-weight="700" >进入酒店嘉年华</text>
<rect x="375.80" y="325.80" width="6.40" height="6.40" fill="#dedad7" />
<path d="M375.80 325.80h0.58v0.58h-0.58zM376.38 325.80h0.58v0.58h-0.58zM376.96 325.80h0.58v0.58h-0.58zM378.13 325.80h0.58v0.58h-0.58zM378.71 325.80h0.58v0.58h-0.58zM379.87 325.80h0.58v0.58h-0.58zM380.45 325.80h0.58v0.58h-0.58zM381.04 325.80h0.58v0.58h-0.58zM381.62 325.80h0.58v0.58h-0.58zM375.80 326.38h0.58v0.58h-0.58zM376.96 326.38h0.58v0.58h-0.58zM377.55 326.38h0.58v0.58h-0.58zM378.71 326.38h0.58v0.58h-0.58zM379.87 326.38h0.58v0.58h-0.58zM380.45 326.38h0.58v0.58h-0.58zM381.62 326.38h0.58v0.58h-0.58zM375.80 326.96h0.58v0.58h-0.58zM376.38 326.96h0.58v0.58h-0.58zM376.96 326.96h0.58v0.58h-0.58zM378.13 326.96h0.58v0.58h-0.58zM380.45 326.96h0.58v0.58h-0.58zM381.04 326.96h0.58v0.58h-0.58zM381.62 326.96h0.58v0.58h-0.58zM376.96 327.55h0.58v0.58h-0.58zM378.71 327.55h0.58v0.58h-0.58zM379.29 327.55h0.58v0.58h-0.58zM378.13 328.13h0.58v0.58h-0.58zM379.29 328.13h0.58v0.58h-0.58zM381.62 328.13h0.58v0.58h-0.58zM376.96 328.71h0.58v0.58h-0.58zM377.55 328.71h0.58v0.58h-0.58zM378.71 328.71h0.58v0.58h-0.58zM381.04 328.71h0.58v0.58h-0.58zM376.38 329.29h0.58v0.58h-0.58zM376.96 329.29h0.58v0.58h-0.58zM378.13 329.29h0.58v0.58h-0.58zM379.87 329.29h0.58v0.58h-0.58zM381.62 329.29h0.58v0.58h-0.58zM376.38 329.87h0.58v0.58h-0.58zM376.96 329.87h0.58v0.58h-0.58zM377.55 329.87h0.58v0.58h-0.58zM379.87 329.87h0.58v0.58h-0.58zM380.45 329.87h0.58v0.58h-0.58zM381.62 329.87h0.58v0.58h-0.58zM375.80 330.45h0.58v0.58h-0.58zM376.38 330.45h0.58v0.58h-0.58zM376.96 330.45h0.58v0.58h-0.58zM378.13 330.45h0.58v0.58h-0.58zM378.71 330.45h0.58v0.58h-0.58zM379.29 330.45h0.58v0.58h-0.58zM379.87 330.45h0.58v0.58h-0.58zM380.45 330.45h0.58v0.58h-0.58zM375.80 331.04h0.58v0.58h-0.58zM376.96 331.04h0.58v0.58h-0.58zM378.13 331.04h0.58v0.58h-0.58zM379.29 331.04h0.58v0.58h-0.58zM379.87 331.04h0.58v0.58h-0.58zM381.62 331.04h0.58v0.58h-0.58zM375.80 331.62h0.58v0.58h-0.58zM376.38 331.62h0.58v0.58h-0.58zM376.96 331.62h0.58v0.58h-0.58zM378.13 331.62h0.58v0.58h-0.58zM381.04 331.62h0.58v0.58h-0.58z" fill="#4d4846"/>
<rect x="462.20" y="321.30" width="112.70" height="61.40" fill="#5cc0d2" />
<rect x="462.20" y="382.50" width="112.70" height="35.50" fill="#e60012" />
<path d="M462.20 339.60h112.7M485.40 339.60v5M551.50 339.60v5" stroke="#4aa9bc" stroke-width="0.3" fill="none" opacity="0.7"/>
<rect x="463.20" y="342.20" width="21.50" height="16.10" fill="#e60012" />
<rect x="486.10" y="344.70" width="64.60" height="36.60" fill="#e60012" />
<rect x="555.20" y="343.00" width="15.40" height="23.70" fill="#e60012" />
<path d="M491.90 344.70v-0.6h2v-0.8h1.2v-0.7h1v1h1.2v-1.8h0.9v-1h0.8v2h1v-1.4h1.1v-1.9l0.5-0.9 0.5 0.9v2.4h1v-1.2h1.2v1.6h1.1v-0.9h1.3v1.2h1.2v0.9h2.5v0.6z" fill="#fff"/>
<text x="527.70" y="341.70" font-size="1.8" fill="#fff" text-anchor="middle" font-weight="400" >酒店公交漫游沿途风景线路</text>
<text x="527.70" y="344.00" font-size="1.8" fill="#fff" text-anchor="middle" font-weight="400" >每一站都是你的度假目的地酒店特卖</text>
<rect x="487.70" y="345.80" width="61.7" height="11.4" fill="#5cc0d2"/>
<rect x="489.40" y="349.50" width="27" height="5.9" rx="0.6" fill="none" stroke="#fff" stroke-width="0.4"/>
<rect x="489.20" y="347.30" width="15.5" height="1.8" rx="0.9" fill="#fff"/>
<text x="496.90" y="348.75" font-size="1.3" fill="#5cc0d2" text-anchor="middle" font-weight="700" >住店圈酒店嘉年华</text>
<path d="M504.70 348.20h12" stroke="#fff" stroke-width="0.35"/>
<text x="502.90" y="353.40" font-size="2.2" fill="#fff" text-anchor="middle" font-weight="700" >厦门温泉度假酒店</text>
<rect x="521.80" y="347.60" width="25.6" height="6.0" rx="0.6" fill="none" stroke="#fff" stroke-width="0.4"/>
<text x="534.60" y="351.50" font-size="2.2" fill="#fff" text-anchor="middle" font-weight="700" >厦门岛内酒店</text>
<rect x="531.70" y="354.20" width="16" height="1.8" rx="0.9" fill="#fff"/>
<text x="539.70" y="355.65" font-size="1.3" fill="#5cc0d2" text-anchor="middle" font-weight="700" >住店圈酒店嘉年华</text>
<path d="M521.80 355.10h10" stroke="#fff" stroke-width="0.35"/>
<text transform="translate(520.20 368.80) scale(1.06 1)" font-size="9.2" fill="#5cc0d2" text-anchor="middle" font-weight="900">车窗玻璃</text>
<text transform="translate(512.05 404.30) scale(1.37 1)" font-size="9.3" fill="#5cc0d2" text-anchor="middle" font-weight="900">座</text>
<text transform="translate(526.35 404.30) scale(1.37 1)" font-size="9.3" fill="#5cc0d2" text-anchor="middle" font-weight="900">椅</text>
<text x="473.30" y="362.80" font-size="1.9" fill="#fff" text-anchor="middle" font-weight="700" >厦门温泉度假酒店推荐</text>
<rect x="464.90" y="365.70" width="17.10" height="13.20" rx="0.9" fill="none" stroke="#fff" stroke-width="0.5"/>
<path d="M465.80 379.80H482.90V366.60" fill="none" stroke="#fff" stroke-width="0.4" opacity="0.8"/>
<path d="M479.60 365.70l1.6-1.8 0.3 1.8" fill="none" stroke="#fff" stroke-width="0.4"/>
<text x="466.80" y="371.60" font-size="2.5" fill="#fff" text-anchor="start" font-weight="700" >东南环中心</text>
<text x="466.80" y="374.80" font-size="2.5" fill="#fff" text-anchor="start" font-weight="700" >逛鼓浪最佳</text>
<text x="562.20" y="369.40" font-size="1.8" fill="#fff" text-anchor="middle" font-weight="700" >厦门亲子酒店特惠推荐</text>
<rect x="554.20" y="371.50" width="15.80" height="9.00" rx="0.9" fill="none" stroke="#fff" stroke-width="0.5"/>
<path d="M555.10 381.40H570.90V372.40" fill="none" stroke="#fff" stroke-width="0.4" opacity="0.8"/>
<path d="M567.60 371.50l1.6-1.8 0.3 1.8" fill="none" stroke="#fff" stroke-width="0.4"/>
<text x="556.10" y="375.38" font-size="1.9" fill="#fff" text-anchor="start" font-weight="700" >亲子乐园 自助晚餐</text>
<text x="556.10" y="377.98" font-size="1.9" fill="#fff" text-anchor="start" font-weight="700" >温泉泳池 限时特惠</text>
<path d="M462.20 342.80v75.2M574.90 342.80v75.2" stroke="#f3c9cc" stroke-width="0.5" fill="none"/>
<rect x="469.20" y="327.80" width="8.80" height="4.20" fill="#e60012" />
<circle cx="484.50" cy="330.00" r="2.50" fill="#e60012" />
<path d="M487.80 329.30l2.40-2.6M488.60 330.20l3.40-1.2M488.40 331.50l2.60 0.6" stroke="#fff" stroke-width="0.4" fill="none"/>
<text x="493.00" y="330.50" font-size="2.4" fill="#fff" text-anchor="start" font-weight="700" >看公交</text>
<text x="493.00" y="333.35" font-size="2.4" fill="#fff" text-anchor="start" font-weight="700" >车身边的酒店特卖?</text>
<rect x="515.80" y="326.30" width="5.50" height="7.50" fill="#e60012" />
<g transform="translate(525.60 322.80)"><path d="M4.2 10.4L0.6 5.8 2.2 4.8 5.8 8.8z" fill="#223a86"/><path d="M10.6 10.2L14.6 9.4 14.4 7.6 10 8.4z" fill="#223a86"/><circle cx="1.2" cy="4.6" r="1.0" fill="#f0a050"/><circle cx="15" cy="8.4" r="1.0" fill="#f0a050"/><path d="M3.2 10.2c1-1.6 8-1.6 9 0l0.6 6h-10.6z" fill="#c9151e"/><circle cx="5.4" cy="12.6" r="0.7" fill="#f2c84a"/><circle cx="8.6" cy="14" r="0.7" fill="#f2c84a"/><circle cx="10.4" cy="12" r="0.6" fill="#f2c84a"/><circle cx="6.2" cy="15" r="0.6" fill="#f2c84a"/><ellipse cx="8.2" cy="5.2" rx="4.6" ry="4.4" fill="#1d1a1c"/><ellipse cx="7.9" cy="6.6" rx="3.3" ry="3.0" fill="#e9b08c"/><circle cx="7.2" cy="0.9" r="1.0" fill="#c9151e"/><path d="M5.2 8.2c1.6 1.6 3.8 1.6 5.4 0-0.8 2.8-4.6 2.8-5.4 0z" fill="#1d1a1c"/><circle cx="6.5" cy="5.9" r="0.75" fill="#fff"/><circle cx="9.4" cy="5.9" r="0.75" fill="#fff"/><circle cx="6.6" cy="6.0" r="0.4" fill="#1d1a1c"/><circle cx="9.3" cy="6.0" r="0.4" fill="#1d1a1c"/><ellipse cx="8" cy="7.6" rx="0.7" ry="0.5" fill="#d9706a"/></g>
<text x="551.60" y="329.30" font-size="2.1" fill="#fff" text-anchor="middle" font-weight="700" >扫描二维码</text>
<text x="551.60" y="331.85" font-size="2.1" fill="#fff" text-anchor="middle" font-weight="700" >进入酒店嘉年华</text>
<rect x="561.40" y="326.60" width="6.90" height="6.90" fill="#dedad7" />
<path d="M561.40 326.60h0.63v0.63h-0.63zM562.03 326.60h0.63v0.63h-0.63zM562.65 326.60h0.63v0.63h-0.63zM565.16 326.60h0.63v0.63h-0.63zM566.42 326.60h0.63v0.63h-0.63zM567.05 326.60h0.63v0.63h-0.63zM567.67 326.60h0.63v0.63h-0.63zM561.40 327.23h0.63v0.63h-0.63zM562.65 327.23h0.63v0.63h-0.63zM563.28 327.23h0.63v0.63h-0.63zM564.54 327.23h0.63v0.63h-0.63zM565.16 327.23h0.63v0.63h-0.63zM565.79 327.23h0.63v0.63h-0.63zM566.42 327.23h0.63v0.63h-0.63zM567.67 327.23h0.63v0.63h-0.63zM561.40 327.85h0.63v0.63h-0.63zM562.03 327.85h0.63v0.63h-0.63zM562.65 327.85h0.63v0.63h-0.63zM563.28 327.85h0.63v0.63h-0.63zM563.91 327.85h0.63v0.63h-0.63zM564.54 327.85h0.63v0.63h-0.63zM565.16 327.85h0.63v0.63h-0.63zM566.42 327.85h0.63v0.63h-0.63zM567.05 327.85h0.63v0.63h-0.63zM567.67 327.85h0.63v0.63h-0.63zM561.40 328.48h0.63v0.63h-0.63zM563.28 328.48h0.63v0.63h-0.63zM563.91 328.48h0.63v0.63h-0.63zM567.67 328.48h0.63v0.63h-0.63zM562.03 329.11h0.63v0.63h-0.63zM563.91 329.11h0.63v0.63h-0.63zM564.54 329.11h0.63v0.63h-0.63zM565.16 329.11h0.63v0.63h-0.63zM567.05 329.11h0.63v0.63h-0.63zM561.40 329.74h0.63v0.63h-0.63zM562.03 329.74h0.63v0.63h-0.63zM562.65 329.74h0.63v0.63h-0.63zM563.91 329.74h0.63v0.63h-0.63zM564.54 329.74h0.63v0.63h-0.63zM565.16 329.74h0.63v0.63h-0.63zM565.79 329.74h0.63v0.63h-0.63zM566.42 329.74h0.63v0.63h-0.63zM561.40 330.36h0.63v0.63h-0.63zM562.03 330.36h0.63v0.63h-0.63zM562.65 330.36h0.63v0.63h-0.63zM563.28 330.36h0.63v0.63h-0.63zM565.16 330.36h0.63v0.63h-0.63zM565.79 330.36h0.63v0.63h-0.63zM561.40 330.99h0.63v0.63h-0.63zM564.54 330.99h0.63v0.63h-0.63zM565.79 330.99h0.63v0.63h-0.63zM566.42 330.99h0.63v0.63h-0.63zM567.05 330.99h0.63v0.63h-0.63zM561.40 331.62h0.63v0.63h-0.63zM562.03 331.62h0.63v0.63h-0.63zM562.65 331.62h0.63v0.63h-0.63zM567.67 331.62h0.63v0.63h-0.63zM561.40 332.25h0.63v0.63h-0.63zM562.65 332.25h0.63v0.63h-0.63zM563.91 332.25h0.63v0.63h-0.63zM564.54 332.25h0.63v0.63h-0.63zM565.16 332.25h0.63v0.63h-0.63zM565.79 332.25h0.63v0.63h-0.63zM566.42 332.25h0.63v0.63h-0.63zM561.40 332.87h0.63v0.63h-0.63zM562.03 332.87h0.63v0.63h-0.63zM562.65 332.87h0.63v0.63h-0.63zM563.28 332.87h0.63v0.63h-0.63zM563.91 332.87h0.63v0.63h-0.63zM565.16 332.87h0.63v0.63h-0.63zM567.05 332.87h0.63v0.63h-0.63zM567.67 332.87h0.63v0.63h-0.63z" fill="#4d4846"/>
<rect x="652.70" y="321.30" width="46.30" height="92.40" fill="#5cc0d2" />
<path d="M652.7 342.80V413.7" stroke="#f3c9cc" stroke-width="0.5" fill="none"/>
<path d="M652.7 339.60h46.3" stroke="#4aa9bc" stroke-width="0.3" fill="none" opacity="0.7"/>
<circle cx="676.20" cy="330.30" r="2.50" fill="#e60012" />
<rect x="656.20" y="342.20" width="19.60" height="16.10" fill="#e60012" />
<ellipse cx="663.5" cy="399" rx="9" ry="1.5" fill="#1f7588" opacity="0.6" transform="rotate(-6 663.5 399)"/>
<path d="M680 379l13-12" stroke="#2b8da1" stroke-width="1.8" opacity="0.5" stroke-linecap="round"/>
<g transform="translate(664.90 386.00) rotate(42) scale(1.07)"><rect x="-1.35" y="-35" width="2.7" height="21.5" fill="#9ccbe8" stroke="#4a6a86" stroke-width="0.35"/><path d="M-1.35 -31l2.7-1.5M-1.35 -27l2.7-1.5M-1.35 -23l2.7-1.5M-1.35 -19l2.7-1.5M-1.35 -15.5l2.7-1.5" stroke="#6f8fa8" stroke-width="0.8"/><rect x="-7.3" y="-10.8" width="14.6" height="21.6" rx="5.2" fill="#d2b3a2" stroke="#4a3028" stroke-width="0.8"/><path d="M-6.9 -3.6c2.4-1.4 4.6 1 7 0s4.4-1.6 6.8-0.4V5.6c0 2.7-2.1 4.8-4.8 4.8h-4.2c-2.7 0-4.8-2.1-4.8-4.8z" fill="#b3724f"/><path d="M-6.9 3c2.6-1.6 7 1.6 13.8-0.8V5.6c0 2.7-2.1 4.8-4.8 4.8h-4.2c-2.7 0-4.8-2.1-4.8-4.8z" fill="#96593b"/><path d="M-6.9 -3.6c2.4-1.4 4.6 1 7 0s4.4-1.6 6.8-0.4" fill="none" stroke="#f1e4da" stroke-width="0.5"/><circle cx="-2.6" cy="7" r="0.8" fill="#4a2a1e"/><circle cx="0.4" cy="8.2" r="0.8" fill="#4a2a1e"/><circle cx="3" cy="6.8" r="0.8" fill="#4a2a1e"/><circle cx="-0.6" cy="5.4" r="0.7" fill="#4a2a1e"/><circle cx="-4.2" cy="5" r="0.7" fill="#4a2a1e"/><rect x="4" y="-2" width="1.5" height="8" rx="0.75" fill="#fff" opacity="0.8"/><rect x="-7.4" y="-14.6" width="14.8" height="4" rx="1.1" fill="#6a5d58" stroke="#2f2622" stroke-width="0.6"/><path d="M-6.6 -12.4h13.2" stroke="#c9c0ba" stroke-width="0.9"/></g>
<path d="M683.20 353.60l1.00 3.6l3.20-3.2z" fill="#d9343f" stroke="#f0b4b8" stroke-width="0.3"/>
<circle cx="685.40" cy="349.00" r="5.70" fill="#d9343f" stroke="#f0b4b8" stroke-width="0.5"/>
<text x="685.40" y="351.60" font-size="7.4" fill="#fff" text-anchor="middle" font-weight="400" font-style="italic">Oh</text>
<text x="679.20" y="401.10" font-size="7.0" fill="#fff" text-anchor="start" font-weight="900" >奶茶</text>
<text x="679.20" y="409.10" font-size="7.0" fill="#fff" text-anchor="start" font-weight="900" >续命!</text>
<rect x="699.70" y="337.50" width="59.30" height="76.20" fill="#5cc0d2" />
<path d="M699.7 337.5h6.4L700.2 400.5 699.7 408z" fill="#e60012"/>
<rect x="703.50" y="337.50" width="6.50" height="2.10" fill="#e60012" />
<rect x="715.00" y="337.50" width="10.70" height="4.00" fill="#e60012" />
<path d="M727.3 337.5V413.7" stroke="#3f9fb3" stroke-width="0.5" fill="none"/>
<path d="M756.5 341V411" stroke="#3f8fa3" stroke-width="0.6" fill="none"/>
<path d="M699.9 337.5V413.7" stroke="#3f9fb3" stroke-width="0.4" fill="none"/>
<text x="715.47" y="368.03" font-size="2.0" fill="#fff" text-anchor="middle" font-weight="700" font-style="italic">Let's</text>
<text x="704.80" y="372.97" font-size="5.73" fill="#fff" font-weight="400" textLength="20.00" lengthAdjust="spacingAndGlyphs">STAYCATION</text>
<rect x="710.53" y="373.63" width="8.53" height="1.20" fill="#fff" opacity="0.85"/>
<path d="M708.67 380.17v-1.5l1.1-1.4 1.1 1.4v1.5z" fill="#fff"/>
<path d="M717.73 376.83h2.6M717.47 378.30h3M717.73 379.77h2.6" stroke="#fff" stroke-width="0.80" fill="none"/>
<rect x="731.40" y="355.20" width="6.80" height="6.80" fill="#dedad7" />
<path d="M731.40 355.20h0.62v0.62h-0.62zM732.02 355.20h0.62v0.62h-0.62zM732.64 355.20h0.62v0.62h-0.62zM733.25 355.20h0.62v0.62h-0.62zM735.11 355.20h0.62v0.62h-0.62zM736.35 355.20h0.62v0.62h-0.62zM736.96 355.20h0.62v0.62h-0.62zM737.58 355.20h0.62v0.62h-0.62zM731.40 355.82h0.62v0.62h-0.62zM732.64 355.82h0.62v0.62h-0.62zM733.87 355.82h0.62v0.62h-0.62zM736.35 355.82h0.62v0.62h-0.62zM737.58 355.82h0.62v0.62h-0.62zM731.40 356.44h0.62v0.62h-0.62zM732.02 356.44h0.62v0.62h-0.62zM732.64 356.44h0.62v0.62h-0.62zM733.25 356.44h0.62v0.62h-0.62zM733.87 356.44h0.62v0.62h-0.62zM734.49 356.44h0.62v0.62h-0.62zM736.35 356.44h0.62v0.62h-0.62zM736.96 356.44h0.62v0.62h-0.62zM737.58 356.44h0.62v0.62h-0.62zM731.40 357.05h0.62v0.62h-0.62zM734.49 357.05h0.62v0.62h-0.62zM735.11 357.05h0.62v0.62h-0.62zM736.35 357.05h0.62v0.62h-0.62zM736.96 357.05h0.62v0.62h-0.62zM737.58 357.05h0.62v0.62h-0.62zM731.40 357.67h0.62v0.62h-0.62zM732.02 357.67h0.62v0.62h-0.62zM732.64 357.67h0.62v0.62h-0.62zM735.11 357.67h0.62v0.62h-0.62zM736.35 357.67h0.62v0.62h-0.62zM736.96 357.67h0.62v0.62h-0.62zM733.25 358.29h0.62v0.62h-0.62zM733.87 358.29h0.62v0.62h-0.62zM734.49 358.29h0.62v0.62h-0.62zM735.11 358.29h0.62v0.62h-0.62zM736.35 358.29h0.62v0.62h-0.62zM737.58 358.29h0.62v0.62h-0.62zM732.64 358.91h0.62v0.62h-0.62zM733.25 358.91h0.62v0.62h-0.62zM734.49 358.91h0.62v0.62h-0.62zM735.73 358.91h0.62v0.62h-0.62zM736.35 358.91h0.62v0.62h-0.62zM731.40 359.53h0.62v0.62h-0.62zM732.02 359.53h0.62v0.62h-0.62zM732.64 359.53h0.62v0.62h-0.62zM734.49 359.53h0.62v0.62h-0.62zM735.11 359.53h0.62v0.62h-0.62zM735.73 359.53h0.62v0.62h-0.62zM736.35 359.53h0.62v0.62h-0.62zM737.58 359.53h0.62v0.62h-0.62zM731.40 360.15h0.62v0.62h-0.62zM732.02 360.15h0.62v0.62h-0.62zM732.64 360.15h0.62v0.62h-0.62zM733.87 360.15h0.62v0.62h-0.62zM734.49 360.15h0.62v0.62h-0.62zM735.73 360.15h0.62v0.62h-0.62zM736.96 360.15h0.62v0.62h-0.62zM737.58 360.15h0.62v0.62h-0.62zM731.40 360.76h0.62v0.62h-0.62zM732.64 360.76h0.62v0.62h-0.62zM733.25 360.76h0.62v0.62h-0.62zM733.87 360.76h0.62v0.62h-0.62zM735.73 360.76h0.62v0.62h-0.62zM736.96 360.76h0.62v0.62h-0.62zM737.58 360.76h0.62v0.62h-0.62zM731.40 361.38h0.62v0.62h-0.62zM732.02 361.38h0.62v0.62h-0.62zM732.64 361.38h0.62v0.62h-0.62zM734.49 361.38h0.62v0.62h-0.62zM735.73 361.38h0.62v0.62h-0.62zM736.35 361.38h0.62v0.62h-0.62zM737.58 361.38h0.62v0.62h-0.62z" fill="#4d4846"/>
<text x="740.60" y="357.50" font-size="1.9" fill="#fff" text-anchor="start" font-weight="700" >扫描二维码</text>
<text x="740.60" y="359.85" font-size="1.9" fill="#fff" text-anchor="start" font-weight="700" >进入酒店嘉年华</text>
<text x="740.60" y="361.80" font-size="1.6" fill="#fff" text-anchor="start" font-weight="700" >领取酒店优惠</text>
<text x="742.65" y="365.69" font-size="1.9500000000000002" fill="#fff" text-anchor="middle" font-weight="700" font-style="italic">Let's</text>
<text x="732.25" y="370.50" font-size="5.59" fill="#fff" font-weight="400" textLength="19.50" lengthAdjust="spacingAndGlyphs">STAYCATION</text>
<rect x="737.84" y="371.15" width="8.32" height="1.17" fill="#fff" opacity="0.85"/>
<path d="M736.02 377.52v-1.5l1.1-1.4 1.1 1.4v1.5z" fill="#fff"/>
<path d="M744.86 374.27h2.6M744.60 375.70h3M744.86 377.13h2.6" stroke="#fff" stroke-width="0.78" fill="none"/>
<rect x="731.70" y="371.90" width="1.70" height="4.70" fill="#e60012" />
<rect x="746.70" y="378.20" width="6.80" height="6.80" fill="#dedad7" />
<path d="M746.70 378.20h0.62v0.62h-0.62zM747.32 378.20h0.62v0.62h-0.62zM747.94 378.20h0.62v0.62h-0.62zM748.55 378.20h0.62v0.62h-0.62zM750.41 378.20h0.62v0.62h-0.62zM751.03 378.20h0.62v0.62h-0.62zM751.65 378.20h0.62v0.62h-0.62zM752.26 378.20h0.62v0.62h-0.62zM752.88 378.20h0.62v0.62h-0.62zM746.70 378.82h0.62v0.62h-0.62zM747.94 378.82h0.62v0.62h-0.62zM748.55 378.82h0.62v0.62h-0.62zM749.17 378.82h0.62v0.62h-0.62zM751.65 378.82h0.62v0.62h-0.62zM752.88 378.82h0.62v0.62h-0.62zM746.70 379.44h0.62v0.62h-0.62zM747.32 379.44h0.62v0.62h-0.62zM747.94 379.44h0.62v0.62h-0.62zM749.79 379.44h0.62v0.62h-0.62zM750.41 379.44h0.62v0.62h-0.62zM751.03 379.44h0.62v0.62h-0.62zM751.65 379.44h0.62v0.62h-0.62zM752.26 379.44h0.62v0.62h-0.62zM752.88 379.44h0.62v0.62h-0.62zM747.32 380.05h0.62v0.62h-0.62zM748.55 380.05h0.62v0.62h-0.62zM749.79 380.05h0.62v0.62h-0.62zM750.41 380.05h0.62v0.62h-0.62zM751.65 380.05h0.62v0.62h-0.62zM752.26 380.05h0.62v0.62h-0.62zM747.32 380.67h0.62v0.62h-0.62zM749.17 380.67h0.62v0.62h-0.62zM749.79 380.67h0.62v0.62h-0.62zM750.41 380.67h0.62v0.62h-0.62zM751.03 380.67h0.62v0.62h-0.62zM752.26 380.67h0.62v0.62h-0.62zM746.70 381.29h0.62v0.62h-0.62zM747.32 381.29h0.62v0.62h-0.62zM748.55 381.29h0.62v0.62h-0.62zM749.17 381.29h0.62v0.62h-0.62zM750.41 381.29h0.62v0.62h-0.62zM751.03 381.29h0.62v0.62h-0.62zM751.65 381.29h0.62v0.62h-0.62zM747.94 381.91h0.62v0.62h-0.62zM748.55 381.91h0.62v0.62h-0.62zM750.41 381.91h0.62v0.62h-0.62zM751.03 381.91h0.62v0.62h-0.62zM751.65 381.91h0.62v0.62h-0.62zM747.32 382.53h0.62v0.62h-0.62zM748.55 382.53h0.62v0.62h-0.62zM749.79 382.53h0.62v0.62h-0.62zM750.41 382.53h0.62v0.62h-0.62zM751.03 382.53h0.62v0.62h-0.62zM752.26 382.53h0.62v0.62h-0.62zM746.70 383.15h0.62v0.62h-0.62zM747.32 383.15h0.62v0.62h-0.62zM747.94 383.15h0.62v0.62h-0.62zM748.55 383.15h0.62v0.62h-0.62zM749.79 383.15h0.62v0.62h-0.62zM750.41 383.15h0.62v0.62h-0.62zM751.03 383.15h0.62v0.62h-0.62zM752.26 383.15h0.62v0.62h-0.62zM752.88 383.15h0.62v0.62h-0.62zM746.70 383.76h0.62v0.62h-0.62zM747.94 383.76h0.62v0.62h-0.62zM748.55 383.76h0.62v0.62h-0.62zM749.17 383.76h0.62v0.62h-0.62zM749.79 383.76h0.62v0.62h-0.62zM751.03 383.76h0.62v0.62h-0.62zM752.26 383.76h0.62v0.62h-0.62zM746.70 384.38h0.62v0.62h-0.62zM747.32 384.38h0.62v0.62h-0.62zM747.94 384.38h0.62v0.62h-0.62zM748.55 384.38h0.62v0.62h-0.62zM749.17 384.38h0.62v0.62h-0.62zM751.03 384.38h0.62v0.62h-0.62zM751.65 384.38h0.62v0.62h-0.62zM752.88 384.38h0.62v0.62h-0.62z" fill="#4d4846"/>
<text x="745.20" y="381.80" font-size="1.6" fill="#fff" text-anchor="end" font-weight="700" >打开淘宝／飞猪</text>
<text x="745.20" y="383.85" font-size="1.6" fill="#fff" text-anchor="end" font-weight="700" >搜索住店圈酒店嘉年华</text>
<rect x="110.40" y="473.70" width="78.10" height="21.90" fill="#5cc0d2" />
<rect x="112.00" y="495.50" width="75.20" height="72.30" fill="#5cc0d2" />
<path d="M110.40 495.30h78.1M123.40 486.00h52" stroke="#4aa9bc" stroke-width="0.3" fill="none" opacity="0.7"/>
<rect x="128.30" y="478.50" width="39.20" height="5.90" fill="#e60012" />
<circle cx="173.90" cy="481.40" r="0.80" fill="#e60012" />
<rect x="111.30" y="488.10" width="12.80" height="5.30" fill="#5cc0d2" stroke="#c98a94" stroke-width="0.35"/>
<text x="117.70" y="490.55" font-size="1.9" fill="#e60012" text-anchor="middle" font-weight="700" >请勿倚靠车门</text>
<text x="117.70" y="492.80" font-size="1.9" fill="#e60012" text-anchor="middle" font-weight="700" >小心夹手危险</text>
<rect x="174.90" y="488.10" width="12.80" height="5.30" fill="#5cc0d2" stroke="#c98a94" stroke-width="0.35"/>
<text x="181.30" y="490.55" font-size="1.9" fill="#e60012" text-anchor="middle" font-weight="700" >请勿倚靠车门</text>
<text x="181.30" y="492.80" font-size="1.9" fill="#e60012" text-anchor="middle" font-weight="700" >小心夹手危险</text>
<circle cx="126.20" cy="491.00" r="0.80" fill="#e60012" />
<circle cx="173.40" cy="491.00" r="0.80" fill="#e60012" />
<rect x="112.00" y="495.50" width="10.70" height="75.30" fill="#e60012" />
<rect x="176.00" y="495.50" width="11.20" height="75.30" fill="#e60012" />
<rect x="148.50" y="495.50" width="1.80" height="72.30" fill="#e60012" />
<rect x="124.30" y="500.90" width="16.90" height="25.40" fill="#e60012" />
<text x="132.75" y="508.70" font-size="4.2" fill="#74cddc" text-anchor="middle" font-weight="700" >车</text>
<text x="132.75" y="512.75" font-size="4.2" fill="#74cddc" text-anchor="middle" font-weight="700" >门</text>
<text x="132.75" y="516.80" font-size="4.2" fill="#74cddc" text-anchor="middle" font-weight="700" >玻</text>
<text x="132.75" y="520.85" font-size="4.2" fill="#74cddc" text-anchor="middle" font-weight="700" >璃</text>
<rect x="124.30" y="526.30" width="17.7" height="12.5" fill="#74cbd9" fill-opacity="0.45" stroke="#4aa9bc" stroke-width="0.3"/>
<text x="133.40" y="529.20" font-size="1.5" fill="#fff" text-anchor="middle" font-weight="700" font-style="italic">Let's</text>
<text x="125.40" y="532.90" font-size="4.30" fill="#fff" font-weight="400" textLength="15.00" lengthAdjust="spacingAndGlyphs">STAYCATION</text>
<rect x="129.70" y="533.40" width="6.40" height="0.90" fill="#fff" opacity="0.85"/>
<path d="M128.30 538.30v-1.5l1.1-1.4 1.1 1.4v1.5z" fill="#fff"/>
<path d="M135.10 535.80h2.6M134.90 536.90h3M135.10 538.00h2.6" stroke="#fff" stroke-width="0.60" fill="none"/>
<rect x="157.30" y="500.90" width="16.90" height="25.40" fill="#e60012" />
<text x="165.75" y="508.70" font-size="4.2" fill="#74cddc" text-anchor="middle" font-weight="700" >车</text>
<text x="165.75" y="512.75" font-size="4.2" fill="#74cddc" text-anchor="middle" font-weight="700" >门</text>
<text x="165.75" y="516.80" font-size="4.2" fill="#74cddc" text-anchor="middle" font-weight="700" >玻</text>
<text x="165.75" y="520.85" font-size="4.2" fill="#74cddc" text-anchor="middle" font-weight="700" >璃</text>
<rect x="157.30" y="526.30" width="17.7" height="12.5" fill="#74cbd9" fill-opacity="0.45" stroke="#4aa9bc" stroke-width="0.3"/>
<text x="166.40" y="529.20" font-size="1.5" fill="#fff" text-anchor="middle" font-weight="700" font-style="italic">Let's</text>
<text x="158.40" y="532.90" font-size="4.30" fill="#fff" font-weight="400" textLength="15.00" lengthAdjust="spacingAndGlyphs">STAYCATION</text>
<rect x="162.70" y="533.40" width="6.40" height="0.90" fill="#fff" opacity="0.85"/>
<path d="M161.30 538.30v-1.5l1.1-1.4 1.1 1.4v1.5z" fill="#fff"/>
<path d="M168.10 535.80h2.6M167.90 536.90h3M168.10 538.00h2.6" stroke="#fff" stroke-width="0.60" fill="none"/>
<rect x="143.00" y="507.50" width="13.00" height="17.90" fill="#e60012" />
<path d="M149.35 507.50v17.9" stroke="#c4000f" stroke-width="0.5" fill="none"/>
<path d="M128.60 541.20h8.5" stroke="#fff" stroke-width="0.8" opacity="0.9"/>
<path d="M160.90 541.20h8.5" stroke="#fff" stroke-width="0.8" opacity="0.9"/>
<rect x="124.60" y="543.00" width="21.00" height="12.80" rx="1.2" fill="#74cbd9" fill-opacity="0.35" stroke="#fff" stroke-width="0.45"/>
<path d="M126.60 543.00l1.2-1.6 0.6 1.6" fill="none" stroke="#fff" stroke-width="0.4"/>
<text x="126.20" y="546.00" font-size="1.65" fill="#fff" text-anchor="start" font-weight="700" >高品质酒店</text>
<text x="126.20" y="548.05" font-size="1.65" fill="#fff" text-anchor="start" font-weight="700" >星级美食汇集地</text>
<text x="126.20" y="550.10" font-size="1.65" fill="#fff" text-anchor="start" font-weight="700" >周边自驾游 限时特惠</text>
<text x="126.20" y="552.15" font-size="1.65" fill="#fff" text-anchor="start" font-weight="700" >带上家人说走就走</text>
<text x="144.40" y="554.60" font-size="1.3" fill="#fff" text-anchor="end" font-weight="700" >住店圈酒店嘉年华</text>
<rect x="152.30" y="543.50" width="21.30" height="15.30" rx="1.2" fill="#74cbd9" fill-opacity="0.35" stroke="#fff" stroke-width="0.45"/>
<path d="M169.90 543.50l1.2-1.6 0.6 1.6" fill="none" stroke="#fff" stroke-width="0.4"/>
<text x="153.90" y="546.50" font-size="1.65" fill="#fff" text-anchor="start" font-weight="700" >带爸妈去度假吧</text>
<text x="153.90" y="548.55" font-size="1.65" fill="#fff" text-anchor="start" font-weight="700" >亲子游情侣游闺蜜游</text>
<text x="153.90" y="550.60" font-size="1.65" fill="#fff" text-anchor="start" font-weight="700" >泡温泉吃大餐看风景</text>
<text x="153.90" y="552.65" font-size="1.65" fill="#fff" text-anchor="start" font-weight="700" >一价全包不加钱</text>
<text x="153.90" y="554.70" font-size="1.65" fill="#fff" text-anchor="start" font-weight="700" >住店圈酒店嘉年华</text>
<text x="172.40" y="557.60" font-size="1.3" fill="#fff" text-anchor="end" font-weight="700" >住店圈酒店嘉年华</text>
<rect x="172.10" y="558.50" width="4.20" height="4.00" fill="#e60012" />
<rect x="301.30" y="473.70" width="78.10" height="21.90" fill="#5cc0d2" />
<rect x="302.90" y="495.50" width="75.20" height="72.30" fill="#5cc0d2" />
<path d="M301.30 495.30h78.1M314.30 486.00h52" stroke="#4aa9bc" stroke-width="0.3" fill="none" opacity="0.7"/>
<rect x="319.20" y="478.50" width="39.20" height="5.90" fill="#e60012" />
<circle cx="364.80" cy="481.40" r="0.80" fill="#e60012" />
<rect x="302.20" y="488.10" width="12.80" height="5.30" fill="#5cc0d2" stroke="#c98a94" stroke-width="0.35"/>
<text x="308.60" y="490.55" font-size="1.9" fill="#e60012" text-anchor="middle" font-weight="700" >请勿倚靠车门</text>
<text x="308.60" y="492.80" font-size="1.9" fill="#e60012" text-anchor="middle" font-weight="700" >小心夹手危险</text>
<rect x="365.80" y="488.10" width="12.80" height="5.30" fill="#5cc0d2" stroke="#c98a94" stroke-width="0.35"/>
<text x="372.20" y="490.55" font-size="1.9" fill="#e60012" text-anchor="middle" font-weight="700" >请勿倚靠车门</text>
<text x="372.20" y="492.80" font-size="1.9" fill="#e60012" text-anchor="middle" font-weight="700" >小心夹手危险</text>
<circle cx="317.10" cy="491.00" r="0.80" fill="#e60012" />
<circle cx="364.30" cy="491.00" r="0.80" fill="#e60012" />
<rect x="302.90" y="495.50" width="10.70" height="75.30" fill="#e60012" />
<rect x="366.90" y="495.50" width="11.20" height="75.30" fill="#e60012" />
<rect x="339.40" y="495.50" width="1.80" height="72.30" fill="#e60012" />
<rect x="315.20" y="500.90" width="16.90" height="25.40" fill="#e60012" />
<text x="323.65" y="508.70" font-size="4.2" fill="#74cddc" text-anchor="middle" font-weight="700" >车</text>
<text x="323.65" y="512.75" font-size="4.2" fill="#74cddc" text-anchor="middle" font-weight="700" >门</text>
<text x="323.65" y="516.80" font-size="4.2" fill="#74cddc" text-anchor="middle" font-weight="700" >玻</text>
<text x="323.65" y="520.85" font-size="4.2" fill="#74cddc" text-anchor="middle" font-weight="700" >璃</text>
<rect x="315.20" y="526.30" width="17.7" height="12.5" fill="#74cbd9" fill-opacity="0.45" stroke="#4aa9bc" stroke-width="0.3"/>
<text x="324.30" y="529.20" font-size="1.5" fill="#fff" text-anchor="middle" font-weight="700" font-style="italic">Let's</text>
<text x="316.30" y="532.90" font-size="4.30" fill="#fff" font-weight="400" textLength="15.00" lengthAdjust="spacingAndGlyphs">STAYCATION</text>
<rect x="320.60" y="533.40" width="6.40" height="0.90" fill="#fff" opacity="0.85"/>
<path d="M319.20 538.30v-1.5l1.1-1.4 1.1 1.4v1.5z" fill="#fff"/>
<path d="M326.00 535.80h2.6M325.80 536.90h3M326.00 538.00h2.6" stroke="#fff" stroke-width="0.60" fill="none"/>
<rect x="348.20" y="500.90" width="16.90" height="25.40" fill="#e60012" />
<text x="356.65" y="508.70" font-size="4.2" fill="#74cddc" text-anchor="middle" font-weight="700" >车</text>
<text x="356.65" y="512.75" font-size="4.2" fill="#74cddc" text-anchor="middle" font-weight="700" >门</text>
<text x="356.65" y="516.80" font-size="4.2" fill="#74cddc" text-anchor="middle" font-weight="700" >玻</text>
<text x="356.65" y="520.85" font-size="4.2" fill="#74cddc" text-anchor="middle" font-weight="700" >璃</text>
<rect x="348.20" y="526.30" width="17.7" height="12.5" fill="#74cbd9" fill-opacity="0.45" stroke="#4aa9bc" stroke-width="0.3"/>
<text x="357.30" y="529.20" font-size="1.5" fill="#fff" text-anchor="middle" font-weight="700" font-style="italic">Let's</text>
<text x="349.30" y="532.90" font-size="4.30" fill="#fff" font-weight="400" textLength="15.00" lengthAdjust="spacingAndGlyphs">STAYCATION</text>
<rect x="353.60" y="533.40" width="6.40" height="0.90" fill="#fff" opacity="0.85"/>
<path d="M352.20 538.30v-1.5l1.1-1.4 1.1 1.4v1.5z" fill="#fff"/>
<path d="M359.00 535.80h2.6M358.80 536.90h3M359.00 538.00h2.6" stroke="#fff" stroke-width="0.60" fill="none"/>
<rect x="333.90" y="507.50" width="13.00" height="17.90" fill="#e60012" />
<path d="M340.25 507.50v17.9" stroke="#c4000f" stroke-width="0.5" fill="none"/>
<path d="M319.50 541.20h8.5" stroke="#fff" stroke-width="0.8" opacity="0.9"/>
<path d="M351.80 541.20h8.5" stroke="#fff" stroke-width="0.8" opacity="0.9"/>
<rect x="315.50" y="543.00" width="21.00" height="12.80" rx="1.2" fill="#74cbd9" fill-opacity="0.35" stroke="#fff" stroke-width="0.45"/>
<path d="M317.50 543.00l1.2-1.6 0.6 1.6" fill="none" stroke="#fff" stroke-width="0.4"/>
<text x="317.10" y="546.00" font-size="1.65" fill="#fff" text-anchor="start" font-weight="700" >周末不知道去哪</text>
<text x="317.10" y="548.05" font-size="1.65" fill="#fff" text-anchor="start" font-weight="700" >就去酒店度假吧</text>
<text x="317.10" y="550.10" font-size="1.65" fill="#fff" text-anchor="start" font-weight="700" >星级酒店 一折起抢</text>
<text x="317.10" y="552.15" font-size="1.65" fill="#fff" text-anchor="start" font-weight="700" >住一晚送一晚早餐</text>
<text x="335.30" y="554.60" font-size="1.3" fill="#fff" text-anchor="end" font-weight="700" >住店圈酒店嘉年华</text>
<rect x="343.20" y="543.50" width="21.30" height="15.30" rx="1.2" fill="#74cbd9" fill-opacity="0.35" stroke="#fff" stroke-width="0.45"/>
<path d="M360.80 543.50l1.2-1.6 0.6 1.6" fill="none" stroke="#fff" stroke-width="0.4"/>
<text x="344.80" y="546.50" font-size="1.65" fill="#fff" text-anchor="start" font-weight="700" >厦门五星酒店特卖会</text>
<text x="344.80" y="548.55" font-size="1.65" fill="#fff" text-anchor="start" font-weight="700" >打开淘宝搜索住店圈</text>
<text x="344.80" y="550.60" font-size="1.65" fill="#fff" text-anchor="start" font-weight="700" >限时抢购 手慢无</text>
<text x="344.80" y="552.65" font-size="1.65" fill="#fff" text-anchor="start" font-weight="700" >房券全年通用随时退</text>
<text x="363.30" y="557.60" font-size="1.3" fill="#fff" text-anchor="end" font-weight="700" >住店圈酒店嘉年华</text>
<rect x="363.00" y="558.50" width="4.20" height="4.00" fill="#e60012" />
<rect x="492.20" y="473.70" width="78.10" height="21.90" fill="#5cc0d2" />
<rect x="493.80" y="495.50" width="75.20" height="72.30" fill="#5cc0d2" />
<path d="M492.20 495.30h78.1M505.20 486.00h52" stroke="#4aa9bc" stroke-width="0.3" fill="none" opacity="0.7"/>
<rect x="510.10" y="478.50" width="39.20" height="5.90" fill="#e60012" />
<circle cx="555.70" cy="481.40" r="0.80" fill="#e60012" />
<rect x="493.10" y="488.10" width="12.80" height="5.30" fill="#5cc0d2" stroke="#c98a94" stroke-width="0.35"/>
<text x="499.50" y="490.55" font-size="1.9" fill="#e60012" text-anchor="middle" font-weight="700" >请勿倚靠车门</text>
<text x="499.50" y="492.80" font-size="1.9" fill="#e60012" text-anchor="middle" font-weight="700" >小心夹手危险</text>
<rect x="556.70" y="488.10" width="12.80" height="5.30" fill="#5cc0d2" stroke="#c98a94" stroke-width="0.35"/>
<text x="563.10" y="490.55" font-size="1.9" fill="#e60012" text-anchor="middle" font-weight="700" >请勿倚靠车门</text>
<text x="563.10" y="492.80" font-size="1.9" fill="#e60012" text-anchor="middle" font-weight="700" >小心夹手危险</text>
<circle cx="508.00" cy="491.00" r="0.80" fill="#e60012" />
<circle cx="555.20" cy="491.00" r="0.80" fill="#e60012" />
<rect x="493.80" y="495.50" width="10.70" height="75.30" fill="#e60012" />
<rect x="557.80" y="495.50" width="11.20" height="75.30" fill="#e60012" />
<rect x="530.30" y="495.50" width="1.80" height="72.30" fill="#e60012" />
<rect x="506.10" y="500.90" width="16.90" height="25.40" fill="#e60012" />
<text x="514.55" y="508.70" font-size="4.2" fill="#74cddc" text-anchor="middle" font-weight="700" >车</text>
<text x="514.55" y="512.75" font-size="4.2" fill="#74cddc" text-anchor="middle" font-weight="700" >门</text>
<text x="514.55" y="516.80" font-size="4.2" fill="#74cddc" text-anchor="middle" font-weight="700" >玻</text>
<text x="514.55" y="520.85" font-size="4.2" fill="#74cddc" text-anchor="middle" font-weight="700" >璃</text>
<rect x="506.10" y="526.30" width="17.7" height="12.5" fill="#74cbd9" fill-opacity="0.45" stroke="#4aa9bc" stroke-width="0.3"/>
<text x="515.20" y="529.20" font-size="1.5" fill="#fff" text-anchor="middle" font-weight="700" font-style="italic">Let's</text>
<text x="507.20" y="532.90" font-size="4.30" fill="#fff" font-weight="400" textLength="15.00" lengthAdjust="spacingAndGlyphs">STAYCATION</text>
<rect x="511.50" y="533.40" width="6.40" height="0.90" fill="#fff" opacity="0.85"/>
<path d="M510.10 538.30v-1.5l1.1-1.4 1.1 1.4v1.5z" fill="#fff"/>
<path d="M516.90 535.80h2.6M516.70 536.90h3M516.90 538.00h2.6" stroke="#fff" stroke-width="0.60" fill="none"/>
<rect x="539.10" y="500.90" width="16.90" height="25.40" fill="#e60012" />
<text x="547.55" y="508.70" font-size="4.2" fill="#74cddc" text-anchor="middle" font-weight="700" >车</text>
<text x="547.55" y="512.75" font-size="4.2" fill="#74cddc" text-anchor="middle" font-weight="700" >门</text>
<text x="547.55" y="516.80" font-size="4.2" fill="#74cddc" text-anchor="middle" font-weight="700" >玻</text>
<text x="547.55" y="520.85" font-size="4.2" fill="#74cddc" text-anchor="middle" font-weight="700" >璃</text>
<rect x="539.10" y="526.30" width="17.7" height="12.5" fill="#74cbd9" fill-opacity="0.45" stroke="#4aa9bc" stroke-width="0.3"/>
<text x="548.20" y="529.20" font-size="1.5" fill="#fff" text-anchor="middle" font-weight="700" font-style="italic">Let's</text>
<text x="540.20" y="532.90" font-size="4.30" fill="#fff" font-weight="400" textLength="15.00" lengthAdjust="spacingAndGlyphs">STAYCATION</text>
<rect x="544.50" y="533.40" width="6.40" height="0.90" fill="#fff" opacity="0.85"/>
<path d="M543.10 538.30v-1.5l1.1-1.4 1.1 1.4v1.5z" fill="#fff"/>
<path d="M549.90 535.80h2.6M549.70 536.90h3M549.90 538.00h2.6" stroke="#fff" stroke-width="0.60" fill="none"/>
<rect x="524.80" y="507.50" width="13.00" height="17.90" fill="#e60012" />
<path d="M531.15 507.50v17.9" stroke="#c4000f" stroke-width="0.5" fill="none"/>
<path d="M510.40 541.20h8.5" stroke="#fff" stroke-width="0.8" opacity="0.9"/>
<path d="M542.70 541.20h8.5" stroke="#fff" stroke-width="0.8" opacity="0.9"/>
<rect x="506.40" y="543.00" width="21.00" height="12.80" rx="1.2" fill="#74cbd9" fill-opacity="0.35" stroke="#fff" stroke-width="0.45"/>
<path d="M508.40 543.00l1.2-1.6 0.6 1.6" fill="none" stroke="#fff" stroke-width="0.4"/>
<text x="508.00" y="546.00" font-size="1.65" fill="#fff" text-anchor="start" font-weight="700" >说走就走的旅行</text>
<text x="508.00" y="548.05" font-size="1.65" fill="#fff" text-anchor="start" font-weight="700" >从一张房券开始</text>
<text x="508.00" y="550.10" font-size="1.65" fill="#fff" text-anchor="start" font-weight="700" >酒店自助餐下午茶</text>
<text x="508.00" y="552.15" font-size="1.65" fill="#fff" text-anchor="start" font-weight="700" >温泉乐园全都有</text>
<text x="508.00" y="554.20" font-size="1.65" fill="#fff" text-anchor="start" font-weight="700" >周边自驾一小时直达</text>
<text x="526.20" y="554.60" font-size="1.3" fill="#fff" text-anchor="end" font-weight="700" >住店圈酒店嘉年华</text>
<rect x="534.10" y="543.50" width="21.30" height="15.30" rx="1.2" fill="#74cbd9" fill-opacity="0.35" stroke="#fff" stroke-width="0.45"/>
<path d="M551.70 543.50l1.2-1.6 0.6 1.6" fill="none" stroke="#fff" stroke-width="0.4"/>
<text x="535.70" y="546.50" font-size="1.65" fill="#fff" text-anchor="start" font-weight="700" >住店圈酒店嘉年华</text>
<text x="535.70" y="548.55" font-size="1.65" fill="#fff" text-anchor="start" font-weight="700" >全国千家酒店通兑</text>
<text x="535.70" y="550.60" font-size="1.65" fill="#fff" text-anchor="start" font-weight="700" >房券限时抢购中</text>
<text x="535.70" y="552.65" font-size="1.65" fill="#fff" text-anchor="start" font-weight="700" >扫码进入活动主会场</text>
<text x="554.20" y="557.60" font-size="1.3" fill="#fff" text-anchor="end" font-weight="700" >住店圈酒店嘉年华</text>
<rect x="553.90" y="558.50" width="4.20" height="4.00" fill="#e60012" />
<rect x="683.10" y="473.70" width="78.10" height="21.90" fill="#5cc0d2" />
<rect x="684.70" y="495.50" width="75.20" height="72.30" fill="#5cc0d2" />
<path d="M683.10 495.30h78.1M696.10 486.00h52" stroke="#4aa9bc" stroke-width="0.3" fill="none" opacity="0.7"/>
<rect x="701.00" y="478.50" width="39.20" height="5.90" fill="#e60012" />
<circle cx="746.60" cy="481.40" r="0.80" fill="#e60012" />
<rect x="684.00" y="488.10" width="12.80" height="5.30" fill="#5cc0d2" stroke="#c98a94" stroke-width="0.35"/>
<text x="690.40" y="490.55" font-size="1.9" fill="#e60012" text-anchor="middle" font-weight="700" >请勿倚靠车门</text>
<text x="690.40" y="492.80" font-size="1.9" fill="#e60012" text-anchor="middle" font-weight="700" >小心夹手危险</text>
<rect x="747.60" y="488.10" width="12.80" height="5.30" fill="#5cc0d2" stroke="#c98a94" stroke-width="0.35"/>
<text x="754.00" y="490.55" font-size="1.9" fill="#e60012" text-anchor="middle" font-weight="700" >请勿倚靠车门</text>
<text x="754.00" y="492.80" font-size="1.9" fill="#e60012" text-anchor="middle" font-weight="700" >小心夹手危险</text>
<circle cx="698.90" cy="491.00" r="0.80" fill="#e60012" />
<circle cx="746.10" cy="491.00" r="0.80" fill="#e60012" />
<rect x="684.70" y="495.50" width="10.70" height="75.30" fill="#e60012" />
<rect x="748.70" y="495.50" width="11.20" height="75.30" fill="#e60012" />
<rect x="721.20" y="495.50" width="1.80" height="72.30" fill="#e60012" />
<rect x="697.00" y="500.90" width="16.90" height="25.40" fill="#e60012" />
<text x="705.45" y="508.70" font-size="4.2" fill="#74cddc" text-anchor="middle" font-weight="700" >车</text>
<text x="705.45" y="512.75" font-size="4.2" fill="#74cddc" text-anchor="middle" font-weight="700" >门</text>
<text x="705.45" y="516.80" font-size="4.2" fill="#74cddc" text-anchor="middle" font-weight="700" >玻</text>
<text x="705.45" y="520.85" font-size="4.2" fill="#74cddc" text-anchor="middle" font-weight="700" >璃</text>
<rect x="730.00" y="500.90" width="16.90" height="25.40" fill="#e60012" />
<text x="738.45" y="508.70" font-size="4.2" fill="#74cddc" text-anchor="middle" font-weight="700" >车</text>
<text x="738.45" y="512.75" font-size="4.2" fill="#74cddc" text-anchor="middle" font-weight="700" >门</text>
<text x="738.45" y="516.80" font-size="4.2" fill="#74cddc" text-anchor="middle" font-weight="700" >玻</text>
<text x="738.45" y="520.85" font-size="4.2" fill="#74cddc" text-anchor="middle" font-weight="700" >璃</text>
<rect x="715.70" y="507.50" width="13.00" height="17.90" fill="#e60012" />
<path d="M722.05 507.50v17.9" stroke="#c4000f" stroke-width="0.5" fill="none"/>
<defs><linearGradient id="ph1" x1="0" y1="0" x2="1" y2="0.6"><stop offset="0" stop-color="#2a2c66"/><stop offset="0.55" stop-color="#3a3a86"/><stop offset="1" stop-color="#4a3f7e"/></linearGradient><linearGradient id="ph2" x1="0" y1="0" x2="0" y2="1"><stop offset="0" stop-color="#a9d6ec"/><stop offset="0.5" stop-color="#e4eef0"/><stop offset="1" stop-color="#c9dbe2"/></linearGradient></defs>
<rect x="697.30" y="526.90" width="17.20" height="12.80" fill="#fdfbf7" />
<rect x="697.30" y="526.90" width="17.20" height="10.20" fill="url(#ph1)" />
<path d="M712.50 526.90H714.50V537.10H697.30V536.20C706.30 536.50 713.90 534.50 712.50 526.90z" fill="#e9a23e"/>
<path d="M698.30 530.10h3M702.80 529.10h4M699.30 532.50h5M705.90 531.50h3.4M700.30 534.30h6" stroke="#5a6fd0" stroke-width="0.9" opacity="0.8"/>
<path d="M699.30 531.30h2M704.30 533.10h3M707.80 529.50h1.6" stroke="#c9783a" stroke-width="0.8" opacity="0.85"/>
<rect x="698.10" y="537.70" width="1.40" height="1.30" fill="#2a3a7a" />
<path d="M700.30 538.40h7" stroke="#d9b27a" stroke-width="0.5"/>
<rect x="730.20" y="526.90" width="17.10" height="12.80" fill="url(#ph2)" />
<path d="M747.30 527.50c-4 0.4-7 2.4-9.5 5.2l-3 3.2 4 3.8h8.5z" fill="#5f8f46"/>
<path d="M733.60 534.30l4.6-2.6 5.2-1.6 2.2 2.6-2.4 4.4-5.8 1.6z" fill="#dcc9a8"/>
<path d="M735.20 534.10h2.4M738.60 532.50h3M737.20 535.70h3.6M740.80 534.10h2" stroke="#c9743a" stroke-width="0.7"/>
<path d="M736.20 533.30h2M739.80 534.90h2.4" stroke="#f6f3ec" stroke-width="0.7"/>
<path d="M730.20 534.50c2-0.6 3.4-0.4 4.4 0.6l3.6 3 2 1.6H730.20z" fill="#3f7fa8"/>
<path d="M730.20 537.30c3-0.4 5 0.6 7.4 2.4H730.20z" fill="#2f5f8a"/>
<rect x="730.90" y="527.60" width="1.60" height="1.60" fill="#5fae4a" />
<path d="M701.30 541.20h8.5" stroke="#fff" stroke-width="0.8" opacity="0.9"/>
<path d="M733.60 541.20h8.5" stroke="#fff" stroke-width="0.8" opacity="0.9"/>
<rect x="697.30" y="543.00" width="21.00" height="12.80" rx="1.2" fill="#74cbd9" fill-opacity="0.35" stroke="#fff" stroke-width="0.45"/>
<path d="M699.30 543.00l1.2-1.6 0.6 1.6" fill="none" stroke="#fff" stroke-width="0.4"/>
<text x="698.90" y="546.00" font-size="1.65" fill="#fff" text-anchor="start" font-weight="700" >工作太累想放假</text>
<text x="698.90" y="548.05" font-size="1.65" fill="#fff" text-anchor="start" font-weight="700" >周末去哪儿玩才不挤</text>
<text x="698.90" y="550.10" font-size="1.65" fill="#fff" text-anchor="start" font-weight="700" >星级酒店自助餐加泳池</text>
<text x="698.90" y="552.15" font-size="1.65" fill="#fff" text-anchor="start" font-weight="700" >住店圈酒店嘉年华等你来</text>
<text x="717.10" y="554.60" font-size="1.3" fill="#fff" text-anchor="end" font-weight="700" >住店圈酒店嘉年华</text>
<rect x="725.00" y="543.50" width="21.30" height="15.30" rx="1.2" fill="#74cbd9" fill-opacity="0.35" stroke="#fff" stroke-width="0.45"/>
<path d="M742.60 543.50l1.2-1.6 0.6 1.6" fill="none" stroke="#fff" stroke-width="0.4"/>
<text x="726.60" y="546.50" font-size="1.65" fill="#fff" text-anchor="start" font-weight="700" >月薪四千也能度假自由</text>
<text x="726.60" y="548.55" font-size="1.65" fill="#fff" text-anchor="start" font-weight="700" >住遍全国五星级酒店</text>
<text x="726.60" y="550.60" font-size="1.65" fill="#fff" text-anchor="start" font-weight="700" >周边自驾游特惠房券</text>
<text x="726.60" y="552.65" font-size="1.65" fill="#fff" text-anchor="start" font-weight="700" >高品质酒店星级美食汇</text>
<text x="726.60" y="554.70" font-size="1.65" fill="#fff" text-anchor="start" font-weight="700" >限时特惠购 手慢无</text>
<text x="745.10" y="557.60" font-size="1.3" fill="#fff" text-anchor="end" font-weight="700" >住店圈酒店嘉年华</text>
<rect x="744.80" y="558.50" width="4.20" height="4.00" fill="#e60012" />
<rect x="188.70" y="473.80" width="112.70" height="61.40" fill="#5cc0d2" />
<rect x="188.70" y="535.00" width="112.70" height="35.50" fill="#e60012" />
<path d="M188.70 492.10h112.7M211.90 492.10v5M278.00 492.10v5" stroke="#4aa9bc" stroke-width="0.3" fill="none" opacity="0.7"/>
<rect x="189.70" y="494.70" width="21.50" height="16.10" fill="#e60012" />
<rect x="212.60" y="497.20" width="64.60" height="36.60" fill="#e60012" />
<rect x="281.70" y="495.50" width="15.40" height="23.70" fill="#e60012" />
<path d="M218.40 497.20v-0.6h2v-0.8h1.2v-0.7h1v1h1.2v-1.8h0.9v-1h0.8v2h1v-1.4h1.1v-1.9l0.5-0.9 0.5 0.9v2.4h1v-1.2h1.2v1.6h1.1v-0.9h1.3v1.2h1.2v0.9h2.5v0.6z" fill="#fff"/>
<text x="254.20" y="494.20" font-size="1.8" fill="#fff" text-anchor="middle" font-weight="400" >酒店公交漫游沿途风景线路</text>
<text x="254.20" y="496.50" font-size="1.8" fill="#fff" text-anchor="middle" font-weight="400" >每一站都是你的度假目的地酒店特卖</text>
<rect x="214.20" y="498.30" width="61.7" height="11.4" fill="#5cc0d2"/>
<rect x="215.90" y="502.00" width="27" height="5.9" rx="0.6" fill="none" stroke="#fff" stroke-width="0.4"/>
<rect x="215.70" y="499.80" width="15.5" height="1.8" rx="0.9" fill="#fff"/>
<text x="223.40" y="501.25" font-size="1.3" fill="#5cc0d2" text-anchor="middle" font-weight="700" >住店圈酒店嘉年华</text>
<path d="M231.20 500.70h12" stroke="#fff" stroke-width="0.35"/>
<text x="229.40" y="505.90" font-size="2.2" fill="#fff" text-anchor="middle" font-weight="700" >厦门五月食宿美景特价</text>
<rect x="248.30" y="500.10" width="25.6" height="6.0" rx="0.6" fill="none" stroke="#fff" stroke-width="0.4"/>
<text x="261.10" y="504.00" font-size="2.2" fill="#fff" text-anchor="middle" font-weight="700" >住最美的百店酒店特价</text>
<rect x="258.20" y="506.70" width="16" height="1.8" rx="0.9" fill="#fff"/>
<text x="266.20" y="508.15" font-size="1.3" fill="#5cc0d2" text-anchor="middle" font-weight="700" >住店圈酒店嘉年华</text>
<path d="M248.30 507.60h10" stroke="#fff" stroke-width="0.35"/>
<text transform="translate(246.70 521.30) scale(1.06 1)" font-size="9.2" fill="#5cc0d2" text-anchor="middle" font-weight="900">车窗玻璃</text>
<text transform="translate(238.55 556.80) scale(1.37 1)" font-size="9.3" fill="#5cc0d2" text-anchor="middle" font-weight="900">座</text>
<text transform="translate(252.85 556.80) scale(1.37 1)" font-size="9.3" fill="#5cc0d2" text-anchor="middle" font-weight="900">椅</text>
<text x="199.80" y="515.30" font-size="1.9" fill="#fff" text-anchor="middle" font-weight="700" >厦门旅游度假酒店推荐</text>
<rect x="191.40" y="518.20" width="17.10" height="13.20" rx="0.9" fill="none" stroke="#fff" stroke-width="0.5"/>
<path d="M192.30 532.30H209.40V519.10" fill="none" stroke="#fff" stroke-width="0.4" opacity="0.8"/>
<path d="M206.10 518.20l1.6-1.8 0.3 1.8" fill="none" stroke="#fff" stroke-width="0.4"/>
<text x="193.30" y="524.10" font-size="2.5" fill="#fff" text-anchor="start" font-weight="700" >五月去哪里</text>
<text x="193.30" y="527.30" font-size="2.5" fill="#fff" text-anchor="start" font-weight="700" >玩最好玩?</text>
<text x="288.70" y="521.90" font-size="1.8" fill="#fff" text-anchor="middle" font-weight="700" >住店圈酒店嘉年华特惠</text>
<rect x="280.70" y="524.00" width="15.80" height="9.00" rx="0.9" fill="none" stroke="#fff" stroke-width="0.5"/>
<path d="M281.60 533.90H297.40V524.90" fill="none" stroke="#fff" stroke-width="0.4" opacity="0.8"/>
<path d="M294.10 524.00l1.6-1.8 0.3 1.8" fill="none" stroke="#fff" stroke-width="0.4"/>
<text x="282.60" y="527.88" font-size="1.9" fill="#fff" text-anchor="start" font-weight="700" >星级酒店自助餐</text>
<text x="282.60" y="530.48" font-size="1.9" fill="#fff" text-anchor="start" font-weight="700" >周边自驾游特惠</text>
<path d="M188.70 495.30v75.2M301.40 495.30v75.2" stroke="#f3c9cc" stroke-width="0.5" fill="none"/>
<g transform="translate(190.30 475.20)"><path d="M2.2 16.3c-0.4-3.4 0.2-6.4 2.6-7.6h6.4c1.6 1.2 2.2 4.2 1.8 7.6z" fill="#b98445"/><ellipse cx="2.4" cy="10.4" rx="2.6" ry="1.7" fill="#b98445" transform="rotate(-28 2.4 10.4)"/><ellipse cx="15.6" cy="11.0" rx="3.0" ry="1.8" fill="#c48f4d" transform="rotate(-40 15.6 11.0)"/><circle cx="8.4" cy="1.9" r="1.8" fill="#c48f4d"/><circle cx="15.9" cy="3.4" r="1.8" fill="#c48f4d"/><ellipse cx="11.6" cy="6.0" rx="5.6" ry="5.4" fill="#c48f4d"/><ellipse cx="10.9" cy="8.0" rx="2.6" ry="3.0" fill="#efd9ae" transform="rotate(-15 10.9 8)"/><ellipse cx="10.5" cy="9.0" rx="0.9" ry="1.3" fill="#3a1d12" transform="rotate(-15 10.5 9)"/><ellipse cx="11.4" cy="6.6" rx="0.9" ry="0.6" fill="#2a1a10"/><circle cx="9.2" cy="5.2" r="0.6" fill="#2a1a10"/><circle cx="13.6" cy="5.6" r="0.6" fill="#2a1a10"/></g>
<circle cx="210.60" cy="482.00" r="2.50" fill="#e60012" />
<path d="M214.00 481.40l2.40-2.6M214.80 482.30l3.40-1.2M214.60 483.60l2.60 0.6" stroke="#fff" stroke-width="0.4" fill="none"/>
<text x="227.60" y="482.70" font-size="2.1" fill="#fff" text-anchor="middle" font-weight="700" >看公交</text>
<text x="227.60" y="485.25" font-size="2.1" fill="#fff" text-anchor="middle" font-weight="700" >车身边的酒店特卖?</text>
<rect x="239.20" y="478.30" width="11.60" height="7.50" fill="#e60012" />
<path d="M245.00 478.30v7.5" stroke="#c4000f" stroke-width="0.4"/>
<rect x="251.90" y="479.00" width="32.10" height="5.40" rx="0.7" fill="none" stroke="#fff" stroke-width="0.35" opacity="0.4"/>
<text x="267.95" y="482.62" font-size="2.55" fill="#fff" text-anchor="middle" font-weight="700" >扫描二维码进入酒店嘉年华</text>
<rect x="285.80" y="478.30" width="6.80" height="6.80" fill="#dedad7" />
<path d="M285.80 478.30h0.62v0.62h-0.62zM286.42 478.30h0.62v0.62h-0.62zM287.04 478.30h0.62v0.62h-0.62zM287.65 478.30h0.62v0.62h-0.62zM289.51 478.30h0.62v0.62h-0.62zM290.13 478.30h0.62v0.62h-0.62zM290.75 478.30h0.62v0.62h-0.62zM291.36 478.30h0.62v0.62h-0.62zM291.98 478.30h0.62v0.62h-0.62zM285.80 478.92h0.62v0.62h-0.62zM287.04 478.92h0.62v0.62h-0.62zM290.13 478.92h0.62v0.62h-0.62zM290.75 478.92h0.62v0.62h-0.62zM291.98 478.92h0.62v0.62h-0.62zM285.80 479.54h0.62v0.62h-0.62zM286.42 479.54h0.62v0.62h-0.62zM287.04 479.54h0.62v0.62h-0.62zM287.65 479.54h0.62v0.62h-0.62zM288.27 479.54h0.62v0.62h-0.62zM289.51 479.54h0.62v0.62h-0.62zM290.75 479.54h0.62v0.62h-0.62zM291.36 479.54h0.62v0.62h-0.62zM291.98 479.54h0.62v0.62h-0.62zM285.80 480.15h0.62v0.62h-0.62zM286.42 480.15h0.62v0.62h-0.62zM287.04 480.15h0.62v0.62h-0.62zM290.13 480.15h0.62v0.62h-0.62zM290.75 480.15h0.62v0.62h-0.62zM291.36 480.15h0.62v0.62h-0.62zM291.98 480.15h0.62v0.62h-0.62zM286.42 480.77h0.62v0.62h-0.62zM287.04 480.77h0.62v0.62h-0.62zM288.27 480.77h0.62v0.62h-0.62zM289.51 480.77h0.62v0.62h-0.62zM290.75 480.77h0.62v0.62h-0.62zM291.36 480.77h0.62v0.62h-0.62zM291.98 480.77h0.62v0.62h-0.62zM285.80 481.39h0.62v0.62h-0.62zM287.04 481.39h0.62v0.62h-0.62zM288.27 481.39h0.62v0.62h-0.62zM285.80 482.01h0.62v0.62h-0.62zM286.42 482.01h0.62v0.62h-0.62zM287.65 482.01h0.62v0.62h-0.62zM289.51 482.01h0.62v0.62h-0.62zM290.13 482.01h0.62v0.62h-0.62zM290.75 482.01h0.62v0.62h-0.62zM291.36 482.01h0.62v0.62h-0.62zM285.80 482.63h0.62v0.62h-0.62zM286.42 482.63h0.62v0.62h-0.62zM287.04 482.63h0.62v0.62h-0.62zM288.89 482.63h0.62v0.62h-0.62zM289.51 482.63h0.62v0.62h-0.62zM291.36 482.63h0.62v0.62h-0.62zM285.80 483.25h0.62v0.62h-0.62zM286.42 483.25h0.62v0.62h-0.62zM287.04 483.25h0.62v0.62h-0.62zM288.89 483.25h0.62v0.62h-0.62zM289.51 483.25h0.62v0.62h-0.62zM290.13 483.25h0.62v0.62h-0.62zM291.36 483.25h0.62v0.62h-0.62zM285.80 483.86h0.62v0.62h-0.62zM287.04 483.86h0.62v0.62h-0.62zM287.65 483.86h0.62v0.62h-0.62zM288.27 483.86h0.62v0.62h-0.62zM288.89 483.86h0.62v0.62h-0.62zM290.75 483.86h0.62v0.62h-0.62zM285.80 484.48h0.62v0.62h-0.62zM286.42 484.48h0.62v0.62h-0.62zM287.04 484.48h0.62v0.62h-0.62zM288.89 484.48h0.62v0.62h-0.62zM291.98 484.48h0.62v0.62h-0.62z" fill="#4d4846"/>
<rect x="379.60" y="473.80" width="112.70" height="61.40" fill="#5cc0d2" />
<rect x="379.60" y="535.00" width="112.70" height="35.50" fill="#e60012" />
<path d="M379.60 492.10h112.7M402.80 492.10v5M468.90 492.10v5" stroke="#4aa9bc" stroke-width="0.3" fill="none" opacity="0.7"/>
<rect x="380.60" y="494.70" width="21.50" height="16.10" fill="#e60012" />
<rect x="403.50" y="497.20" width="64.60" height="36.60" fill="#e60012" />
<rect x="472.60" y="495.50" width="15.40" height="23.70" fill="#e60012" />
<path d="M409.30 497.20v-0.6h2v-0.8h1.2v-0.7h1v1h1.2v-1.8h0.9v-1h0.8v2h1v-1.4h1.1v-1.9l0.5-0.9 0.5 0.9v2.4h1v-1.2h1.2v1.6h1.1v-0.9h1.3v1.2h1.2v0.9h2.5v0.6z" fill="#fff"/>
<text x="445.10" y="494.20" font-size="1.8" fill="#fff" text-anchor="middle" font-weight="400" >酒店公交漫游沿途风景线路</text>
<text x="445.10" y="496.50" font-size="1.8" fill="#fff" text-anchor="middle" font-weight="400" >每一站都是你的度假目的地酒店特卖</text>
<rect x="405.10" y="498.30" width="61.7" height="11.4" fill="#5cc0d2"/>
<rect x="406.80" y="502.00" width="27" height="5.9" rx="0.6" fill="none" stroke="#fff" stroke-width="0.4"/>
<rect x="406.60" y="499.80" width="15.5" height="1.8" rx="0.9" fill="#fff"/>
<text x="414.30" y="501.25" font-size="1.3" fill="#5cc0d2" text-anchor="middle" font-weight="700" >住店圈酒店嘉年华</text>
<path d="M422.10 500.70h12" stroke="#fff" stroke-width="0.35"/>
<text x="420.30" y="505.90" font-size="2.2" fill="#fff" text-anchor="middle" font-weight="700" >厦门周边特惠</text>
<rect x="439.20" y="500.10" width="25.6" height="6.0" rx="0.6" fill="none" stroke="#fff" stroke-width="0.4"/>
<text x="452.00" y="504.00" font-size="2.2" fill="#fff" text-anchor="middle" font-weight="700" >厦门周边 特惠酒店</text>
<rect x="449.10" y="506.70" width="16" height="1.8" rx="0.9" fill="#fff"/>
<text x="457.10" y="508.15" font-size="1.3" fill="#5cc0d2" text-anchor="middle" font-weight="700" >住店圈酒店嘉年华</text>
<path d="M439.20 507.60h10" stroke="#fff" stroke-width="0.35"/>
<text transform="translate(437.60 521.30) scale(1.06 1)" font-size="9.2" fill="#5cc0d2" text-anchor="middle" font-weight="900">车窗玻璃</text>
<text transform="translate(429.45 556.80) scale(1.37 1)" font-size="9.3" fill="#5cc0d2" text-anchor="middle" font-weight="900">座</text>
<text transform="translate(443.75 556.80) scale(1.37 1)" font-size="9.3" fill="#5cc0d2" text-anchor="middle" font-weight="900">椅</text>
<text x="390.70" y="515.30" font-size="1.9" fill="#fff" text-anchor="middle" font-weight="700" >厦门周边特惠酒店推荐</text>
<rect x="382.30" y="518.20" width="17.10" height="13.20" rx="0.9" fill="none" stroke="#fff" stroke-width="0.5"/>
<path d="M383.20 532.30H400.30V519.10" fill="none" stroke="#fff" stroke-width="0.4" opacity="0.8"/>
<path d="M397.00 518.20l1.6-1.8 0.3 1.8" fill="none" stroke="#fff" stroke-width="0.4"/>
<text x="384.20" y="524.10" font-size="2.5" fill="#fff" text-anchor="start" font-weight="700" >去中国三亚</text>
<text x="384.20" y="527.30" font-size="2.5" fill="#fff" text-anchor="start" font-weight="700" >吃遍厦门味</text>
<text x="479.60" y="521.90" font-size="1.8" fill="#fff" text-anchor="middle" font-weight="700" >厦门周边 特惠酒店</text>
<rect x="471.60" y="524.00" width="15.80" height="9.00" rx="0.9" fill="none" stroke="#fff" stroke-width="0.5"/>
<path d="M472.50 533.90H488.30V524.90" fill="none" stroke="#fff" stroke-width="0.4" opacity="0.8"/>
<path d="M485.00 524.00l1.6-1.8 0.3 1.8" fill="none" stroke="#fff" stroke-width="0.4"/>
<text x="473.50" y="527.88" font-size="1.9" fill="#fff" text-anchor="start" font-weight="700" >星级美食汇特卖</text>
<text x="473.50" y="530.48" font-size="1.9" fill="#fff" text-anchor="start" font-weight="700" >限时抢 特惠</text>
<path d="M379.60 495.30v75.2M492.30 495.30v75.2" stroke="#f3c9cc" stroke-width="0.5" fill="none"/>
<g transform="translate(384.30 474.80)"><path d="M4.6 10.6L0.8 6.4 2.2 5.4 6 9.2z" fill="#f6d32e"/><path d="M10.6 11L14.4 8.6 13.6 7.2 9.6 9.4z" fill="#f6d32e"/><circle cx="1.2" cy="5.6" r="1" fill="#f0a3a2"/><circle cx="14.3" cy="7.8" r="0.9" fill="#f0a3a2"/><path d="M4.6 9.8h6.2l0.8 6.9h-8z" fill="#2848a6"/><circle cx="7.7" cy="13.4" r="1.3" fill="#fff"/><path d="M2.4 2.6l1.0-2.2 2.6 1.6z" fill="#f0a3a2"/><path d="M13 3.2l-0.4-2.4-2.6 1.4z" fill="#f0a3a2"/><ellipse cx="7.7" cy="5.6" rx="5.4" ry="5.0" fill="#f0a3a2"/><ellipse cx="7.8" cy="6.5" rx="3.9" ry="3.3" fill="#f4cdb0"/><path d="M4 5.6c0.8-3 6.8-3 7.6 0-2.4-1-5.2-1-7.6 0z" fill="#7a4a2a"/><circle cx="6.1" cy="6.6" r="0.65" fill="#2a1a14"/><circle cx="9.6" cy="6.6" r="0.65" fill="#2a1a14"/><ellipse cx="7.8" cy="8.4" rx="0.8" ry="0.45" fill="#d9706a"/></g>
<circle cx="401.30" cy="482.00" r="2.50" fill="#e60012" />
<path d="M404.60 481.40l2.40-2.6M405.40 482.30l3.40-1.2M405.20 483.60l2.60 0.6" stroke="#fff" stroke-width="0.4" fill="none"/>
<text x="419.00" y="482.70" font-size="2.1" fill="#fff" text-anchor="middle" font-weight="700" >看公交</text>
<text x="419.00" y="485.25" font-size="2.1" fill="#fff" text-anchor="middle" font-weight="700" >车身边的酒店特卖?</text>
<rect x="430.00" y="478.30" width="11.60" height="7.50" fill="#e60012" />
<path d="M435.80 478.30v7.5" stroke="#c4000f" stroke-width="0.4"/>
<rect x="442.40" y="479.00" width="32.60" height="5.40" rx="0.7" fill="none" stroke="#fff" stroke-width="0.35" opacity="0.4"/>
<text x="458.70" y="482.62" font-size="2.55" fill="#fff" text-anchor="middle" font-weight="700" >扫描二维码进入酒店嘉年华</text>
<rect x="477.00" y="478.30" width="6.80" height="6.80" fill="#dedad7" />
<path d="M477.00 478.30h0.62v0.62h-0.62zM477.62 478.30h0.62v0.62h-0.62zM478.24 478.30h0.62v0.62h-0.62zM479.47 478.30h0.62v0.62h-0.62zM480.09 478.30h0.62v0.62h-0.62zM481.33 478.30h0.62v0.62h-0.62zM481.95 478.30h0.62v0.62h-0.62zM482.56 478.30h0.62v0.62h-0.62zM483.18 478.30h0.62v0.62h-0.62zM477.00 478.92h0.62v0.62h-0.62zM478.24 478.92h0.62v0.62h-0.62zM478.85 478.92h0.62v0.62h-0.62zM480.09 478.92h0.62v0.62h-0.62zM481.33 478.92h0.62v0.62h-0.62zM481.95 478.92h0.62v0.62h-0.62zM483.18 478.92h0.62v0.62h-0.62zM477.00 479.54h0.62v0.62h-0.62zM477.62 479.54h0.62v0.62h-0.62zM478.24 479.54h0.62v0.62h-0.62zM479.47 479.54h0.62v0.62h-0.62zM481.95 479.54h0.62v0.62h-0.62zM482.56 479.54h0.62v0.62h-0.62zM483.18 479.54h0.62v0.62h-0.62zM478.24 480.15h0.62v0.62h-0.62zM480.09 480.15h0.62v0.62h-0.62zM480.71 480.15h0.62v0.62h-0.62zM479.47 480.77h0.62v0.62h-0.62zM480.71 480.77h0.62v0.62h-0.62zM483.18 480.77h0.62v0.62h-0.62zM478.24 481.39h0.62v0.62h-0.62zM478.85 481.39h0.62v0.62h-0.62zM480.09 481.39h0.62v0.62h-0.62zM482.56 481.39h0.62v0.62h-0.62zM477.62 482.01h0.62v0.62h-0.62zM478.24 482.01h0.62v0.62h-0.62zM479.47 482.01h0.62v0.62h-0.62zM481.33 482.01h0.62v0.62h-0.62zM483.18 482.01h0.62v0.62h-0.62zM477.62 482.63h0.62v0.62h-0.62zM478.24 482.63h0.62v0.62h-0.62zM478.85 482.63h0.62v0.62h-0.62zM481.33 482.63h0.62v0.62h-0.62zM481.95 482.63h0.62v0.62h-0.62zM483.18 482.63h0.62v0.62h-0.62zM477.00 483.25h0.62v0.62h-0.62zM477.62 483.25h0.62v0.62h-0.62zM478.24 483.25h0.62v0.62h-0.62zM479.47 483.25h0.62v0.62h-0.62zM480.09 483.25h0.62v0.62h-0.62zM480.71 483.25h0.62v0.62h-0.62zM481.33 483.25h0.62v0.62h-0.62zM481.95 483.25h0.62v0.62h-0.62zM477.00 483.86h0.62v0.62h-0.62zM478.24 483.86h0.62v0.62h-0.62zM479.47 483.86h0.62v0.62h-0.62zM480.71 483.86h0.62v0.62h-0.62zM481.33 483.86h0.62v0.62h-0.62zM483.18 483.86h0.62v0.62h-0.62zM477.00 484.48h0.62v0.62h-0.62zM477.62 484.48h0.62v0.62h-0.62zM478.24 484.48h0.62v0.62h-0.62zM479.47 484.48h0.62v0.62h-0.62zM482.56 484.48h0.62v0.62h-0.62z" fill="#4d4846"/>
<rect x="570.40" y="473.80" width="112.70" height="61.40" fill="#5cc0d2" />
<rect x="570.40" y="535.00" width="112.70" height="35.50" fill="#e60012" />
<path d="M570.40 492.10h112.7M593.60 492.10v5M659.70 492.10v5" stroke="#4aa9bc" stroke-width="0.3" fill="none" opacity="0.7"/>
<rect x="571.40" y="494.70" width="21.50" height="16.10" fill="#e60012" />
<rect x="594.30" y="497.20" width="64.60" height="36.60" fill="#e60012" />
<rect x="663.40" y="495.50" width="15.40" height="23.70" fill="#e60012" />
<path d="M600.10 497.20v-0.6h2v-0.8h1.2v-0.7h1v1h1.2v-1.8h0.9v-1h0.8v2h1v-1.4h1.1v-1.9l0.5-0.9 0.5 0.9v2.4h1v-1.2h1.2v1.6h1.1v-0.9h1.3v1.2h1.2v0.9h2.5v0.6z" fill="#fff"/>
<text x="635.90" y="494.20" font-size="1.8" fill="#fff" text-anchor="middle" font-weight="400" >酒店公交漫游沿途风景线路</text>
<text x="635.90" y="496.50" font-size="1.8" fill="#fff" text-anchor="middle" font-weight="400" >每一站都是你的度假目的地酒店特卖</text>
<rect x="595.90" y="498.30" width="61.7" height="11.4" fill="#5cc0d2"/>
<rect x="597.60" y="502.00" width="27" height="5.9" rx="0.6" fill="none" stroke="#fff" stroke-width="0.4"/>
<rect x="597.40" y="499.80" width="15.5" height="1.8" rx="0.9" fill="#fff"/>
<text x="605.10" y="501.25" font-size="1.3" fill="#5cc0d2" text-anchor="middle" font-weight="700" >住店圈酒店嘉年华</text>
<path d="M612.90 500.70h12" stroke="#fff" stroke-width="0.35"/>
<text x="611.10" y="505.90" font-size="2.2" fill="#fff" text-anchor="middle" font-weight="700" >厦门温泉度假酒店</text>
<rect x="630.00" y="500.10" width="25.6" height="6.0" rx="0.6" fill="none" stroke="#fff" stroke-width="0.4"/>
<text x="642.80" y="504.00" font-size="2.2" fill="#fff" text-anchor="middle" font-weight="700" >厦门岛内酒店</text>
<rect x="639.90" y="506.70" width="16" height="1.8" rx="0.9" fill="#fff"/>
<text x="647.90" y="508.15" font-size="1.3" fill="#5cc0d2" text-anchor="middle" font-weight="700" >住店圈酒店嘉年华</text>
<path d="M630.00 507.60h10" stroke="#fff" stroke-width="0.35"/>
<text transform="translate(628.40 521.30) scale(1.06 1)" font-size="9.2" fill="#5cc0d2" text-anchor="middle" font-weight="900">车窗玻璃</text>
<text transform="translate(620.25 556.80) scale(1.37 1)" font-size="9.3" fill="#5cc0d2" text-anchor="middle" font-weight="900">座</text>
<text transform="translate(634.55 556.80) scale(1.37 1)" font-size="9.3" fill="#5cc0d2" text-anchor="middle" font-weight="900">椅</text>
<text x="581.50" y="515.30" font-size="1.9" fill="#fff" text-anchor="middle" font-weight="700" >厦门温泉度假酒店推荐</text>
<rect x="573.10" y="518.20" width="17.10" height="13.20" rx="0.9" fill="none" stroke="#fff" stroke-width="0.5"/>
<path d="M574.00 532.30H591.10V519.10" fill="none" stroke="#fff" stroke-width="0.4" opacity="0.8"/>
<path d="M587.80 518.20l1.6-1.8 0.3 1.8" fill="none" stroke="#fff" stroke-width="0.4"/>
<text x="575.00" y="524.10" font-size="2.5" fill="#fff" text-anchor="start" font-weight="700" >东南环中心</text>
<text x="575.00" y="527.30" font-size="2.5" fill="#fff" text-anchor="start" font-weight="700" >逛鼓浪最佳</text>
<text x="670.40" y="521.90" font-size="1.8" fill="#fff" text-anchor="middle" font-weight="700" >厦门亲子酒店特惠推荐</text>
<rect x="662.40" y="524.00" width="15.80" height="9.00" rx="0.9" fill="none" stroke="#fff" stroke-width="0.5"/>
<path d="M663.30 533.90H679.10V524.90" fill="none" stroke="#fff" stroke-width="0.4" opacity="0.8"/>
<path d="M675.80 524.00l1.6-1.8 0.3 1.8" fill="none" stroke="#fff" stroke-width="0.4"/>
<text x="664.30" y="527.88" font-size="1.9" fill="#fff" text-anchor="start" font-weight="700" >亲子乐园 自助晚餐</text>
<text x="664.30" y="530.48" font-size="1.9" fill="#fff" text-anchor="start" font-weight="700" >温泉泳池 限时特惠</text>
<path d="M570.40 495.30v75.2M683.10 495.30v75.2" stroke="#f3c9cc" stroke-width="0.5" fill="none"/>
<rect x="577.40" y="480.30" width="8.80" height="4.20" fill="#e60012" />
<circle cx="592.70" cy="482.50" r="2.50" fill="#e60012" />
<path d="M596.00 481.80l2.40-2.6M596.80 482.70l3.40-1.2M596.60 484.00l2.60 0.6" stroke="#fff" stroke-width="0.4" fill="none"/>
<text x="610.00" y="482.70" font-size="2.1" fill="#fff" text-anchor="middle" font-weight="700" >看公交</text>
<text x="610.00" y="485.25" font-size="2.1" fill="#fff" text-anchor="middle" font-weight="700" >车身边的酒店特卖?</text>
<rect x="621.00" y="478.50" width="11.40" height="7.50" fill="#e60012" />
<path d="M626.70 478.50v7.5" stroke="#c4000f" stroke-width="0.4"/>
<text x="635.00" y="481.80" font-size="2.1" fill="#fff" text-anchor="start" font-weight="700" >扫描二维码</text>
<text x="635.00" y="484.35" font-size="2.1" fill="#fff" text-anchor="start" font-weight="700" >进入酒店嘉年华</text>
<rect x="652.40" y="479.00" width="6.80" height="6.80" fill="#dedad7" />
<path d="M652.40 479.00h0.62v0.62h-0.62zM653.02 479.00h0.62v0.62h-0.62zM653.64 479.00h0.62v0.62h-0.62zM656.11 479.00h0.62v0.62h-0.62zM657.35 479.00h0.62v0.62h-0.62zM657.96 479.00h0.62v0.62h-0.62zM658.58 479.00h0.62v0.62h-0.62zM652.40 479.62h0.62v0.62h-0.62zM653.64 479.62h0.62v0.62h-0.62zM654.25 479.62h0.62v0.62h-0.62zM655.49 479.62h0.62v0.62h-0.62zM656.11 479.62h0.62v0.62h-0.62zM656.73 479.62h0.62v0.62h-0.62zM657.35 479.62h0.62v0.62h-0.62zM658.58 479.62h0.62v0.62h-0.62zM652.40 480.24h0.62v0.62h-0.62zM653.02 480.24h0.62v0.62h-0.62zM653.64 480.24h0.62v0.62h-0.62zM654.25 480.24h0.62v0.62h-0.62zM654.87 480.24h0.62v0.62h-0.62zM655.49 480.24h0.62v0.62h-0.62zM656.11 480.24h0.62v0.62h-0.62zM657.35 480.24h0.62v0.62h-0.62zM657.96 480.24h0.62v0.62h-0.62zM658.58 480.24h0.62v0.62h-0.62zM652.40 480.85h0.62v0.62h-0.62zM654.25 480.85h0.62v0.62h-0.62zM654.87 480.85h0.62v0.62h-0.62zM658.58 480.85h0.62v0.62h-0.62zM653.02 481.47h0.62v0.62h-0.62zM654.87 481.47h0.62v0.62h-0.62zM655.49 481.47h0.62v0.62h-0.62zM656.11 481.47h0.62v0.62h-0.62zM657.96 481.47h0.62v0.62h-0.62zM652.40 482.09h0.62v0.62h-0.62zM653.02 482.09h0.62v0.62h-0.62zM653.64 482.09h0.62v0.62h-0.62zM654.87 482.09h0.62v0.62h-0.62zM655.49 482.09h0.62v0.62h-0.62zM656.11 482.09h0.62v0.62h-0.62zM656.73 482.09h0.62v0.62h-0.62zM657.35 482.09h0.62v0.62h-0.62zM652.40 482.71h0.62v0.62h-0.62zM653.02 482.71h0.62v0.62h-0.62zM653.64 482.71h0.62v0.62h-0.62zM654.25 482.71h0.62v0.62h-0.62zM656.11 482.71h0.62v0.62h-0.62zM656.73 482.71h0.62v0.62h-0.62zM652.40 483.33h0.62v0.62h-0.62zM655.49 483.33h0.62v0.62h-0.62zM656.73 483.33h0.62v0.62h-0.62zM657.35 483.33h0.62v0.62h-0.62zM657.96 483.33h0.62v0.62h-0.62zM652.40 483.95h0.62v0.62h-0.62zM653.02 483.95h0.62v0.62h-0.62zM653.64 483.95h0.62v0.62h-0.62zM658.58 483.95h0.62v0.62h-0.62zM652.40 484.56h0.62v0.62h-0.62zM653.64 484.56h0.62v0.62h-0.62zM654.87 484.56h0.62v0.62h-0.62zM655.49 484.56h0.62v0.62h-0.62zM656.11 484.56h0.62v0.62h-0.62zM656.73 484.56h0.62v0.62h-0.62zM657.35 484.56h0.62v0.62h-0.62zM652.40 485.18h0.62v0.62h-0.62zM653.02 485.18h0.62v0.62h-0.62zM653.64 485.18h0.62v0.62h-0.62zM654.25 485.18h0.62v0.62h-0.62zM654.87 485.18h0.62v0.62h-0.62zM656.11 485.18h0.62v0.62h-0.62zM657.96 485.18h0.62v0.62h-0.62zM658.58 485.18h0.62v0.62h-0.62z" fill="#4d4846"/>
<circle cx="663.40" cy="482.50" r="2.40" fill="#e60012" />
<g transform="translate(667.40 475.30)"><path d="M4.2 10.4L0.6 5.8 2.2 4.8 5.8 8.8z" fill="#223a86"/><path d="M10.6 10.2L14.6 9.4 14.4 7.6 10 8.4z" fill="#223a86"/><circle cx="1.2" cy="4.6" r="1.0" fill="#f0a050"/><circle cx="15" cy="8.4" r="1.0" fill="#f0a050"/><path d="M3.2 10.2c1-1.6 8-1.6 9 0l0.6 6h-10.6z" fill="#c9151e"/><circle cx="5.4" cy="12.6" r="0.7" fill="#f2c84a"/><circle cx="8.6" cy="14" r="0.7" fill="#f2c84a"/><circle cx="10.4" cy="12" r="0.6" fill="#f2c84a"/><circle cx="6.2" cy="15" r="0.6" fill="#f2c84a"/><ellipse cx="8.2" cy="5.2" rx="4.6" ry="4.4" fill="#1d1a1c"/><ellipse cx="7.9" cy="6.6" rx="3.3" ry="3.0" fill="#e9b08c"/><circle cx="7.2" cy="0.9" r="1.0" fill="#c9151e"/><path d="M5.2 8.2c1.6 1.6 3.8 1.6 5.4 0-0.8 2.8-4.6 2.8-5.4 0z" fill="#1d1a1c"/><circle cx="6.5" cy="5.9" r="0.75" fill="#fff"/><circle cx="9.4" cy="5.9" r="0.75" fill="#fff"/><circle cx="6.6" cy="6.0" r="0.4" fill="#1d1a1c"/><circle cx="9.3" cy="6.0" r="0.4" fill="#1d1a1c"/><ellipse cx="8" cy="7.6" rx="0.7" ry="0.5" fill="#d9706a"/></g>
<rect x="64.20" y="473.80" width="46.20" height="92.50" fill="#5cc0d2" />
<path d="M64.2 492.10h46.2" stroke="#4aa9bc" stroke-width="0.3" fill="none" opacity="0.7"/>
<rect x="69.20" y="478.00" width="31.60" height="5.60" rx="0.7" fill="none" stroke="#fff" stroke-width="0.35" opacity="0.4"/>
<text x="85.00" y="481.72" font-size="2.55" fill="#fff" text-anchor="middle" font-weight="700" >扫描二维码进入酒店嘉年华</text>
<rect x="102.00" y="477.50" width="6.40" height="6.40" fill="#dedad7" />
<path d="M102.00 477.50h0.58v0.58h-0.58zM102.58 477.50h0.58v0.58h-0.58zM103.16 477.50h0.58v0.58h-0.58zM103.75 477.50h0.58v0.58h-0.58zM104.33 477.50h0.58v0.58h-0.58zM104.91 477.50h0.58v0.58h-0.58zM106.07 477.50h0.58v0.58h-0.58zM106.65 477.50h0.58v0.58h-0.58zM107.24 477.50h0.58v0.58h-0.58zM107.82 477.50h0.58v0.58h-0.58zM102.00 478.08h0.58v0.58h-0.58zM103.16 478.08h0.58v0.58h-0.58zM103.75 478.08h0.58v0.58h-0.58zM104.33 478.08h0.58v0.58h-0.58zM105.49 478.08h0.58v0.58h-0.58zM106.65 478.08h0.58v0.58h-0.58zM107.82 478.08h0.58v0.58h-0.58zM102.00 478.66h0.58v0.58h-0.58zM102.58 478.66h0.58v0.58h-0.58zM103.16 478.66h0.58v0.58h-0.58zM104.33 478.66h0.58v0.58h-0.58zM105.49 478.66h0.58v0.58h-0.58zM106.07 478.66h0.58v0.58h-0.58zM106.65 478.66h0.58v0.58h-0.58zM107.24 478.66h0.58v0.58h-0.58zM107.82 478.66h0.58v0.58h-0.58zM102.58 479.25h0.58v0.58h-0.58zM103.16 479.25h0.58v0.58h-0.58zM104.33 479.25h0.58v0.58h-0.58zM104.91 479.25h0.58v0.58h-0.58zM105.49 479.25h0.58v0.58h-0.58zM106.07 479.25h0.58v0.58h-0.58zM107.24 479.25h0.58v0.58h-0.58zM107.82 479.25h0.58v0.58h-0.58zM104.33 479.83h0.58v0.58h-0.58zM104.91 479.83h0.58v0.58h-0.58zM106.65 479.83h0.58v0.58h-0.58zM102.58 480.41h0.58v0.58h-0.58zM104.33 480.41h0.58v0.58h-0.58zM105.49 480.41h0.58v0.58h-0.58zM106.07 480.41h0.58v0.58h-0.58zM106.65 480.41h0.58v0.58h-0.58zM107.24 480.41h0.58v0.58h-0.58zM107.82 480.41h0.58v0.58h-0.58zM105.49 480.99h0.58v0.58h-0.58zM106.07 480.99h0.58v0.58h-0.58zM102.00 481.57h0.58v0.58h-0.58zM102.58 481.57h0.58v0.58h-0.58zM104.91 481.57h0.58v0.58h-0.58zM105.49 481.57h0.58v0.58h-0.58zM107.82 481.57h0.58v0.58h-0.58zM102.00 482.15h0.58v0.58h-0.58zM102.58 482.15h0.58v0.58h-0.58zM103.16 482.15h0.58v0.58h-0.58zM103.75 482.15h0.58v0.58h-0.58zM104.91 482.15h0.58v0.58h-0.58zM106.65 482.15h0.58v0.58h-0.58zM107.24 482.15h0.58v0.58h-0.58zM102.00 482.74h0.58v0.58h-0.58zM103.16 482.74h0.58v0.58h-0.58zM103.75 482.74h0.58v0.58h-0.58zM104.33 482.74h0.58v0.58h-0.58zM104.91 482.74h0.58v0.58h-0.58zM106.65 482.74h0.58v0.58h-0.58zM107.24 482.74h0.58v0.58h-0.58zM102.00 483.32h0.58v0.58h-0.58zM102.58 483.32h0.58v0.58h-0.58zM103.16 483.32h0.58v0.58h-0.58zM103.75 483.32h0.58v0.58h-0.58zM104.33 483.32h0.58v0.58h-0.58zM106.07 483.32h0.58v0.58h-0.58zM106.65 483.32h0.58v0.58h-0.58zM107.24 483.32h0.58v0.58h-0.58z" fill="#4d4846"/>
<rect x="89.50" y="495.00" width="17.70" height="23.60" fill="#e60012" />
<ellipse cx="99.6" cy="551.5" rx="9" ry="1.5" fill="#1f7588" opacity="0.6" transform="rotate(6 99.6 551.5)"/>
<path d="M83 531.5l-13-12" stroke="#2b8da1" stroke-width="1.8" opacity="0.5" stroke-linecap="round"/>
<g transform="translate(98.00 537.00) scale(-1 1) rotate(42) scale(1.07)"><rect x="-1.35" y="-35" width="2.7" height="21.5" fill="#9ccbe8" stroke="#4a6a86" stroke-width="0.35"/><path d="M-1.35 -31l2.7-1.5M-1.35 -27l2.7-1.5M-1.35 -23l2.7-1.5M-1.35 -19l2.7-1.5M-1.35 -15.5l2.7-1.5" stroke="#6f8fa8" stroke-width="0.8"/><rect x="-7.3" y="-10.8" width="14.6" height="21.6" rx="5.2" fill="#d2b3a2" stroke="#4a3028" stroke-width="0.8"/><path d="M-6.9 -3.6c2.4-1.4 4.6 1 7 0s4.4-1.6 6.8-0.4V5.6c0 2.7-2.1 4.8-4.8 4.8h-4.2c-2.7 0-4.8-2.1-4.8-4.8z" fill="#b3724f"/><path d="M-6.9 3c2.6-1.6 7 1.6 13.8-0.8V5.6c0 2.7-2.1 4.8-4.8 4.8h-4.2c-2.7 0-4.8-2.1-4.8-4.8z" fill="#96593b"/><path d="M-6.9 -3.6c2.4-1.4 4.6 1 7 0s4.4-1.6 6.8-0.4" fill="none" stroke="#f1e4da" stroke-width="0.5"/><circle cx="-2.6" cy="7" r="0.8" fill="#4a2a1e"/><circle cx="0.4" cy="8.2" r="0.8" fill="#4a2a1e"/><circle cx="3" cy="6.8" r="0.8" fill="#4a2a1e"/><circle cx="-0.6" cy="5.4" r="0.7" fill="#4a2a1e"/><circle cx="-4.2" cy="5" r="0.7" fill="#4a2a1e"/><rect x="4" y="-2" width="1.5" height="8" rx="0.75" fill="#fff" opacity="0.8"/><rect x="-7.4" y="-14.6" width="14.8" height="4" rx="1.1" fill="#6a5d58" stroke="#2f2622" stroke-width="0.6"/><path d="M-6.6 -12.4h13.2" stroke="#c9c0ba" stroke-width="0.9"/></g>
<path d="M83.40 507.60l-1.00 3.6l-3.20-3.2z" fill="#d9343f" stroke="#f0b4b8" stroke-width="0.3"/>
<circle cx="81.20" cy="503.00" r="5.70" fill="#d9343f" stroke="#f0b4b8" stroke-width="0.5"/>
<text x="81.20" y="505.60" font-size="7.4" fill="#fff" text-anchor="middle" font-weight="400" font-style="italic">Oh</text>
<text x="68.00" y="549.30" font-size="7.0" fill="#fff" text-anchor="start" font-weight="900" >奶茶</text>
<text x="68.00" y="557.30" font-size="7.0" fill="#fff" text-anchor="start" font-weight="900" >续命!</text>
<rect x="4.20" y="490.30" width="59.60" height="76.00" fill="#5cc0d2" />
<path d="M63.8 490.3h-4.6L63.3 548 63.8 560z" fill="#e60012"/>
<rect x="38.00" y="490.30" width="10.30" height="4.40" fill="#e60012" />
<rect x="53.00" y="490.30" width="10.80" height="1.70" fill="#e60012" />
<path d="M35.3 490.3V566.3" stroke="#3f9fb3" stroke-width="0.5" fill="none"/>
<path d="M6.7 493.5V563.5" stroke="#3f8fa3" stroke-width="0.6" fill="none"/>
<path d="M63.9 473.8V566.3" stroke="#3f9fb3" stroke-width="0.4" fill="none"/>
<text x="49.30" y="519.82" font-size="2.0999999999999996" fill="#fff" text-anchor="middle" font-weight="700" font-style="italic">Let's</text>
<text x="38.10" y="525.00" font-size="6.02" fill="#fff" font-weight="400" textLength="21.00" lengthAdjust="spacingAndGlyphs">STAYCATION</text>
<rect x="44.12" y="525.70" width="8.96" height="1.26" fill="#fff" opacity="0.85"/>
<path d="M42.16 532.56v-1.5l1.1-1.4 1.1 1.4v1.5z" fill="#fff"/>
<path d="M51.68 529.06h2.6M51.40 530.60h3M51.68 532.14h2.6" stroke="#fff" stroke-width="0.84" fill="none"/>
<rect x="10.30" y="508.30" width="6.80" height="6.80" fill="#dedad7" />
<path d="M10.30 508.30h0.62v0.62h-0.62zM10.92 508.30h0.62v0.62h-0.62zM11.54 508.30h0.62v0.62h-0.62zM12.15 508.30h0.62v0.62h-0.62zM14.01 508.30h0.62v0.62h-0.62zM15.25 508.30h0.62v0.62h-0.62zM15.86 508.30h0.62v0.62h-0.62zM16.48 508.30h0.62v0.62h-0.62zM10.30 508.92h0.62v0.62h-0.62zM11.54 508.92h0.62v0.62h-0.62zM12.77 508.92h0.62v0.62h-0.62zM15.25 508.92h0.62v0.62h-0.62zM16.48 508.92h0.62v0.62h-0.62zM10.30 509.54h0.62v0.62h-0.62zM10.92 509.54h0.62v0.62h-0.62zM11.54 509.54h0.62v0.62h-0.62zM12.15 509.54h0.62v0.62h-0.62zM12.77 509.54h0.62v0.62h-0.62zM13.39 509.54h0.62v0.62h-0.62zM15.25 509.54h0.62v0.62h-0.62zM15.86 509.54h0.62v0.62h-0.62zM16.48 509.54h0.62v0.62h-0.62zM10.30 510.15h0.62v0.62h-0.62zM13.39 510.15h0.62v0.62h-0.62zM14.01 510.15h0.62v0.62h-0.62zM15.25 510.15h0.62v0.62h-0.62zM15.86 510.15h0.62v0.62h-0.62zM16.48 510.15h0.62v0.62h-0.62zM10.30 510.77h0.62v0.62h-0.62zM10.92 510.77h0.62v0.62h-0.62zM11.54 510.77h0.62v0.62h-0.62zM14.01 510.77h0.62v0.62h-0.62zM15.25 510.77h0.62v0.62h-0.62zM15.86 510.77h0.62v0.62h-0.62zM12.15 511.39h0.62v0.62h-0.62zM12.77 511.39h0.62v0.62h-0.62zM13.39 511.39h0.62v0.62h-0.62zM14.01 511.39h0.62v0.62h-0.62zM15.25 511.39h0.62v0.62h-0.62zM16.48 511.39h0.62v0.62h-0.62zM11.54 512.01h0.62v0.62h-0.62zM12.15 512.01h0.62v0.62h-0.62zM13.39 512.01h0.62v0.62h-0.62zM14.63 512.01h0.62v0.62h-0.62zM15.25 512.01h0.62v0.62h-0.62zM10.30 512.63h0.62v0.62h-0.62zM10.92 512.63h0.62v0.62h-0.62zM11.54 512.63h0.62v0.62h-0.62zM13.39 512.63h0.62v0.62h-0.62zM14.01 512.63h0.62v0.62h-0.62zM14.63 512.63h0.62v0.62h-0.62zM15.25 512.63h0.62v0.62h-0.62zM16.48 512.63h0.62v0.62h-0.62zM10.30 513.25h0.62v0.62h-0.62zM10.92 513.25h0.62v0.62h-0.62zM11.54 513.25h0.62v0.62h-0.62zM12.77 513.25h0.62v0.62h-0.62zM13.39 513.25h0.62v0.62h-0.62zM14.63 513.25h0.62v0.62h-0.62zM15.86 513.25h0.62v0.62h-0.62zM16.48 513.25h0.62v0.62h-0.62zM10.30 513.86h0.62v0.62h-0.62zM11.54 513.86h0.62v0.62h-0.62zM12.15 513.86h0.62v0.62h-0.62zM12.77 513.86h0.62v0.62h-0.62zM14.63 513.86h0.62v0.62h-0.62zM15.86 513.86h0.62v0.62h-0.62zM16.48 513.86h0.62v0.62h-0.62zM10.30 514.48h0.62v0.62h-0.62zM10.92 514.48h0.62v0.62h-0.62zM11.54 514.48h0.62v0.62h-0.62zM13.39 514.48h0.62v0.62h-0.62zM14.63 514.48h0.62v0.62h-0.62zM15.25 514.48h0.62v0.62h-0.62zM16.48 514.48h0.62v0.62h-0.62z" fill="#4d4846"/>
<text x="19.70" y="510.60" font-size="1.9" fill="#fff" text-anchor="start" font-weight="700" >扫描二维码</text>
<text x="19.70" y="512.95" font-size="1.9" fill="#fff" text-anchor="start" font-weight="700" >进入酒店嘉年华</text>
<text x="19.70" y="514.90" font-size="1.6" fill="#fff" text-anchor="start" font-weight="700" >领取酒店优惠</text>
<text x="22.18" y="519.27" font-size="2.04" fill="#fff" text-anchor="middle" font-weight="700" font-style="italic">Let's</text>
<text x="11.30" y="524.30" font-size="5.85" fill="#fff" font-weight="400" textLength="20.40" lengthAdjust="spacingAndGlyphs">STAYCATION</text>
<rect x="17.15" y="524.98" width="8.70" height="1.22" fill="#fff" opacity="0.85"/>
<path d="M15.24 531.64v-1.5l1.1-1.4 1.1 1.4v1.5z" fill="#fff"/>
<path d="M24.49 528.24h2.6M24.22 529.74h3M24.49 531.24h2.6" stroke="#fff" stroke-width="0.82" fill="none"/>
<rect x="29.70" y="524.20" width="2.00" height="5.00" fill="#e60012" />
<rect x="25.30" y="531.70" width="7.00" height="7.00" fill="#dedad7" />
<path d="M25.30 531.70h0.64v0.64h-0.64zM25.94 531.70h0.64v0.64h-0.64zM26.57 531.70h0.64v0.64h-0.64zM27.21 531.70h0.64v0.64h-0.64zM29.12 531.70h0.64v0.64h-0.64zM29.75 531.70h0.64v0.64h-0.64zM30.39 531.70h0.64v0.64h-0.64zM31.03 531.70h0.64v0.64h-0.64zM31.66 531.70h0.64v0.64h-0.64zM25.30 532.34h0.64v0.64h-0.64zM26.57 532.34h0.64v0.64h-0.64zM27.21 532.34h0.64v0.64h-0.64zM27.85 532.34h0.64v0.64h-0.64zM30.39 532.34h0.64v0.64h-0.64zM31.66 532.34h0.64v0.64h-0.64zM25.30 532.97h0.64v0.64h-0.64zM25.94 532.97h0.64v0.64h-0.64zM26.57 532.97h0.64v0.64h-0.64zM28.48 532.97h0.64v0.64h-0.64zM29.12 532.97h0.64v0.64h-0.64zM29.75 532.97h0.64v0.64h-0.64zM30.39 532.97h0.64v0.64h-0.64zM31.03 532.97h0.64v0.64h-0.64zM31.66 532.97h0.64v0.64h-0.64zM25.94 533.61h0.64v0.64h-0.64zM27.21 533.61h0.64v0.64h-0.64zM28.48 533.61h0.64v0.64h-0.64zM29.12 533.61h0.64v0.64h-0.64zM30.39 533.61h0.64v0.64h-0.64zM31.03 533.61h0.64v0.64h-0.64zM25.94 534.25h0.64v0.64h-0.64zM27.85 534.25h0.64v0.64h-0.64zM28.48 534.25h0.64v0.64h-0.64zM29.12 534.25h0.64v0.64h-0.64zM29.75 534.25h0.64v0.64h-0.64zM31.03 534.25h0.64v0.64h-0.64zM25.30 534.88h0.64v0.64h-0.64zM25.94 534.88h0.64v0.64h-0.64zM27.21 534.88h0.64v0.64h-0.64zM27.85 534.88h0.64v0.64h-0.64zM29.12 534.88h0.64v0.64h-0.64zM29.75 534.88h0.64v0.64h-0.64zM30.39 534.88h0.64v0.64h-0.64zM26.57 535.52h0.64v0.64h-0.64zM27.21 535.52h0.64v0.64h-0.64zM29.12 535.52h0.64v0.64h-0.64zM29.75 535.52h0.64v0.64h-0.64zM30.39 535.52h0.64v0.64h-0.64zM25.94 536.15h0.64v0.64h-0.64zM27.21 536.15h0.64v0.64h-0.64zM28.48 536.15h0.64v0.64h-0.64zM29.12 536.15h0.64v0.64h-0.64zM29.75 536.15h0.64v0.64h-0.64zM31.03 536.15h0.64v0.64h-0.64zM25.30 536.79h0.64v0.64h-0.64zM25.94 536.79h0.64v0.64h-0.64zM26.57 536.79h0.64v0.64h-0.64zM27.21 536.79h0.64v0.64h-0.64zM28.48 536.79h0.64v0.64h-0.64zM29.12 536.79h0.64v0.64h-0.64zM29.75 536.79h0.64v0.64h-0.64zM31.03 536.79h0.64v0.64h-0.64zM31.66 536.79h0.64v0.64h-0.64zM25.30 537.43h0.64v0.64h-0.64zM26.57 537.43h0.64v0.64h-0.64zM27.21 537.43h0.64v0.64h-0.64zM27.85 537.43h0.64v0.64h-0.64zM28.48 537.43h0.64v0.64h-0.64zM29.75 537.43h0.64v0.64h-0.64zM31.03 537.43h0.64v0.64h-0.64zM25.30 538.06h0.64v0.64h-0.64zM25.94 538.06h0.64v0.64h-0.64zM26.57 538.06h0.64v0.64h-0.64zM27.21 538.06h0.64v0.64h-0.64zM27.85 538.06h0.64v0.64h-0.64zM29.75 538.06h0.64v0.64h-0.64zM30.39 538.06h0.64v0.64h-0.64zM31.66 538.06h0.64v0.64h-0.64z" fill="#4d4846"/>
<text x="23.90" y="535.10" font-size="1.6" fill="#fff" text-anchor="end" font-weight="700" >打开淘宝／飞猪</text>
<text x="23.90" y="537.15" font-size="1.6" fill="#fff" text-anchor="end" font-weight="700" >搜索住店圈酒店嘉年华</text>
</svg></body></html>
